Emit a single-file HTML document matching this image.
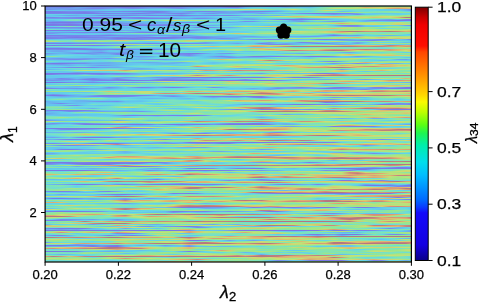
<!DOCTYPE html>
<html><head><meta charset="utf-8">
<style>
html,body{margin:0;padding:0;background:#fff;width:481px;height:303px;overflow:hidden;}
body{position:relative;font-family:"Liberation Sans",sans-serif;color:#000;}
.a{position:absolute;white-space:nowrap;line-height:1;-webkit-text-stroke:0.25px #000;}
.yt{font-size:13px;text-align:right;width:30px;left:6.8px;}
.xt{font-size:13px;text-align:center;width:40px;top:268.4px;}
.ct{font-size:15.3px;left:436.5px;transform-origin:0 0;transform:scaleX(1.14);}
.g{transform-origin:0 0;-webkit-text-stroke:0;}
.rot{transform-origin:0 0;transform:rotate(-90deg);width:0;height:0;}
#hm{position:absolute;left:45px;top:6px;width:366.5px;height:256px;filter:blur(0.45px);}
#hm b{display:block;height:1px;}
svg{position:absolute;left:0;top:0;}
#wrap{position:absolute;left:0;top:0;width:481px;height:303px;filter:blur(0.4px);}
.m{font-style:italic;}
</style></head><body>
<div id="wrap">
<div id="hm">
<b style="background:linear-gradient(90deg,#787be7 0.0%,#7780ea 2.2%,#787ee9 4.4%,#787be7 6.6%,#7978e6 8.7%,#7978e6 10.9%,#7978e6 13.1%,#7978e6 15.3%,#7978e6 17.5%,#7978e6 19.7%,#7978e6 21.9%,#7978e6 24.0%,#7978e6 26.2%,#7978e6 28.4%,#7978e6 30.6%,#7978e6 32.8%,#7978e6 35.0%,#7978e6 37.2%,#7978e6 39.3%,#7978e6 41.5%,#787be7 43.7%,#787ee9 45.9%,#787ae7 48.1%,#7978e6 50.3%,#7978e6 52.5%,#7783ec 54.6%,#7391ee 56.8%,#758bee 59.0%,#7978e6 61.2%,#7979e6 63.4%,#7689ee 65.6%,#67b8ef 67.8%,#63c2ef 69.9%,#63caec 72.1%,#63d2e9 74.3%,#63c7ed 76.5%,#63d0ea 78.7%,#70ddd2 80.9%,#7ce3bc 83.1%,#79e2c2 85.2%,#7ae2c0 87.4%,#7de3bb 89.6%,#8ee59d 91.8%,#84e4ae 94.0%,#82e4b3 96.2%,#8ae5a4 98.4%,#7ee3b9 100.0%)"></b>
<b style="background:linear-gradient(90deg,#7687ed 0.0%,#7490ee 2.2%,#7688ee 4.4%,#7687ee 6.6%,#6ea3ef 8.7%,#6ea0ef 10.9%,#748eee 13.1%,#758aee 15.3%,#758cee 17.5%,#7783ec 19.7%,#787ae7 21.9%,#787ce8 24.0%,#7685ec 26.2%,#7392ef 28.4%,#758aee 30.6%,#777fea 32.8%,#777fe9 35.0%,#7688ee 37.2%,#709bef 39.3%,#7392ef 41.5%,#6ca7ef 43.7%,#6f9eef 45.9%,#7295ef 48.1%,#7782eb 50.3%,#7781eb 52.5%,#67b6ef 54.6%,#63c7ed 56.8%,#63ceeb 59.0%,#63cfea 61.2%,#63ccec 63.4%,#67b6ef 65.6%,#65beef 67.8%,#63c6ee 69.9%,#65bdef 72.1%,#69d9df 74.3%,#86e4ab 76.5%,#93e694 78.7%,#9fe688 80.9%,#9ae68a 83.1%,#bbe27a 85.2%,#deb470 87.4%,#d7c571 89.6%,#d0d472 91.8%,#d2d071 94.0%,#d7c671 96.2%,#d6c871 98.4%,#bfe178 100.0%)"></b>
<b style="background:linear-gradient(90deg,#7392ef 0.0%,#6f9def 2.2%,#7198ef 4.4%,#6fa0ef 6.6%,#6da5ef 8.7%,#7294ef 10.9%,#7687ed 13.1%,#7688ee 15.3%,#7198ef 17.5%,#6baaef 19.7%,#6f9def 21.9%,#7390ee 24.0%,#7199ef 26.2%,#6babef 28.4%,#67b6ef 30.6%,#68b4ef 32.8%,#6ea1ef 35.0%,#7294ef 37.2%,#69afef 39.3%,#65beef 41.5%,#66b9ef 43.7%,#64bfef 45.9%,#63c8ed 48.1%,#63c9ed 50.3%,#63c4ee 52.5%,#63d4e9 54.6%,#73dfcc 56.8%,#71ddd0 59.0%,#68d8e0 61.2%,#72dece 63.4%,#7ee3b9 65.6%,#79e2c2 67.8%,#74dfcb 69.9%,#6edcd5 72.1%,#79e2c1 74.3%,#8ee59e 76.5%,#c4e076 78.7%,#cadf73 80.9%,#c5e075 83.1%,#bfe178 85.2%,#b6e27d 87.4%,#b9e27b 89.6%,#cddc72 91.8%,#dfac70 94.0%,#d89c75 96.2%,#dfac70 98.4%,#d3ce71 100.0%)"></b>
<b style="background:linear-gradient(90deg,#758bee 0.0%,#709aef 2.2%,#6ba9ef 4.4%,#7199ef 6.6%,#709bef 8.7%,#6ca8ef 10.9%,#6babef 13.1%,#68b3ef 15.3%,#64bfef 17.5%,#63c9ed 19.7%,#63caec 21.9%,#63cceb 24.0%,#65d7e6 26.2%,#63d2e9 28.4%,#63d3e9 30.6%,#6adadc 32.8%,#67d8e2 35.0%,#67d8e1 37.2%,#63d1ea 39.3%,#69d9df 41.5%,#77e1c5 43.7%,#84e4af 45.9%,#89e5a5 48.1%,#a2e587 50.3%,#b9e27b 52.5%,#c7e075 54.6%,#d0d572 56.8%,#d2d171 59.0%,#96e68f 61.2%,#79e2c1 63.4%,#98e78c 65.6%,#ccdd72 67.8%,#8de59f 69.9%,#74dfcb 72.1%,#79e2c1 74.3%,#7ee3b8 76.5%,#79e2c2 78.7%,#71ddd0 80.9%,#7ce3bd 83.1%,#7be3be 85.2%,#6adadc 87.4%,#63d5e8 89.6%,#63d1ea 91.8%,#63caec 94.0%,#63c6ee 96.2%,#6ca7ef 98.4%,#787ee9 100.0%)"></b>
<b style="background:linear-gradient(90deg,#66bbef 0.0%,#63c4ef 2.2%,#63c5ee 4.4%,#65beef 6.6%,#64c2ef 8.7%,#63c3ef 10.9%,#63c4ef 13.1%,#63c7ed 15.3%,#63d0ea 17.5%,#63cfea 19.7%,#63c9ed 21.9%,#63c8ed 24.0%,#64bfef 26.2%,#65beef 28.4%,#63c5ee 30.6%,#63ceeb 32.8%,#63ceeb 35.0%,#63d6e8 37.2%,#7ae2c0 39.3%,#74dfca 41.5%,#76e0c8 43.7%,#80e4b5 45.9%,#75e0c9 48.1%,#78e1c3 50.3%,#7ae2c0 52.5%,#6adadc 54.6%,#6adadc 56.8%,#6adadc 59.0%,#63d1ea 61.2%,#63c8ed 63.4%,#66d8e3 65.6%,#7ee3b9 67.8%,#75e0c8 69.9%,#6adadc 72.1%,#8ae5a4 74.3%,#cddc72 76.5%,#c8e074 78.7%,#80e4b5 80.9%,#66d8e3 83.1%,#74dfcb 85.2%,#68d9e0 87.4%,#67d8e1 89.6%,#63d2e9 91.8%,#63d0ea 94.0%,#63d2e9 96.2%,#67b6ef 98.4%,#7391ee 100.0%)"></b>
<b style="background:linear-gradient(90deg,#787ee9 0.0%,#777fea 2.2%,#7685ed 4.4%,#748eee 6.6%,#7688ee 8.7%,#7688ee 10.9%,#7294ef 13.1%,#7392ef 15.3%,#7391ee 17.5%,#748dee 19.7%,#7688ee 21.9%,#7782eb 24.0%,#7780ea 26.2%,#7780ea 28.4%,#787ce8 30.6%,#7688ee 32.8%,#6baaef 35.0%,#6aadef 37.2%,#748fee 39.3%,#7686ed 41.5%,#7685ec 43.7%,#7782eb 45.9%,#7197ef 48.1%,#6babef 50.3%,#709aef 52.5%,#7782eb 54.6%,#7783ec 56.8%,#787ee9 59.0%,#7688ee 61.2%,#709cef 63.4%,#64c1ef 65.6%,#63ceeb 67.8%,#63ceeb 69.9%,#63d1ea 72.1%,#74dfca 74.3%,#84e4ae 76.5%,#6edcd4 78.7%,#66bbef 80.9%,#63c9ed 83.1%,#6ddbd7 85.2%,#70ddd2 87.4%,#79e2c2 89.6%,#85e4ac 91.8%,#8ee59e 94.0%,#85e4ad 96.2%,#68d9e0 98.4%,#65d7e4 100.0%)"></b>
<b style="background:linear-gradient(90deg,#787fe9 0.0%,#787ee9 2.2%,#787ce8 4.4%,#7782eb 6.6%,#7782eb 8.7%,#787ce8 10.9%,#7688ee 13.1%,#6ca6ef 15.3%,#66baef 17.5%,#66bbef 19.7%,#68b5ef 21.9%,#68b2ef 24.0%,#6aaeef 26.2%,#7294ef 28.4%,#7784ec 30.6%,#7295ef 32.8%,#68b4ef 35.0%,#6aadef 37.2%,#6ca6ef 39.3%,#65bcef 41.5%,#66bbef 43.7%,#6aaeef 45.9%,#709aef 48.1%,#6ca6ef 50.3%,#6babef 52.5%,#7295ef 54.6%,#6ea2ef 56.8%,#66b9ef 59.0%,#63c7ed 61.2%,#63d5e8 63.4%,#73decc 65.6%,#76e0c7 67.8%,#6ddbd7 69.9%,#76e0c7 72.1%,#82e4b2 74.3%,#79e2c2 76.5%,#78e1c4 78.7%,#90e69a 80.9%,#a0e688 83.1%,#9be68a 85.2%,#8de5a0 87.4%,#87e4a9 89.6%,#7ee3b8 91.8%,#88e5a8 94.0%,#92e696 96.2%,#8be5a2 98.4%,#91e699 100.0%)"></b>
<b style="background:linear-gradient(90deg,#7685ed 0.0%,#7783ec 2.2%,#7686ed 4.4%,#7686ed 6.6%,#7782eb 8.7%,#787de8 10.9%,#787ee9 13.1%,#7782eb 15.3%,#7685ed 17.5%,#7688ee 19.7%,#748eee 21.9%,#7783eb 24.0%,#787ee9 26.2%,#7687ed 28.4%,#709aef 30.6%,#7295ef 32.8%,#7784ec 35.0%,#7782eb 37.2%,#7393ef 39.3%,#66b9ef 41.5%,#709aef 43.7%,#758dee 45.9%,#6ca8ef 48.1%,#6ca7ef 50.3%,#68b3ef 52.5%,#63c8ed 54.6%,#64bfef 56.8%,#6f9eef 59.0%,#66baef 61.2%,#63c2ef 63.4%,#66b9ef 65.6%,#6bacef 67.8%,#758bee 69.9%,#7780ea 72.1%,#7978e6 74.3%,#7978e6 76.5%,#7978e6 78.7%,#7783eb 80.9%,#7784ec 83.1%,#6ca7ef 85.2%,#63d0ea 87.4%,#63c9ed 89.6%,#63c7ed 91.8%,#63cbec 94.0%,#63cfeb 96.2%,#67d8e2 98.4%,#63d3e9 100.0%)"></b>
<b style="background:linear-gradient(90deg,#69d9df 0.0%,#63d2e9 2.2%,#63d5e8 4.4%,#63cfeb 6.6%,#64c1ef 8.7%,#63c6ee 10.9%,#63caec 13.1%,#65bfef 15.3%,#66baef 17.5%,#65bcef 19.7%,#6aaeef 21.9%,#6babef 24.0%,#67b6ef 26.2%,#68b4ef 28.4%,#64c1ef 30.6%,#63c2ef 32.8%,#66b9ef 35.0%,#6ca6ef 37.2%,#63c9ed 39.3%,#63d2e9 41.5%,#63c7ee 43.7%,#63caec 45.9%,#63d3e9 48.1%,#63d1ea 50.3%,#64d6e8 52.5%,#6bdada 54.6%,#75dfc9 56.8%,#76e0c7 59.0%,#7de3bb 61.2%,#7ce3bc 63.4%,#72dece 65.6%,#6cdad9 67.8%,#6adadc 69.9%,#66d7e3 72.1%,#63cdeb 74.3%,#68b5ef 76.5%,#7099ef 78.7%,#68b3ef 80.9%,#68b3ef 83.1%,#7689ee 85.2%,#63c4ee 87.4%,#63ceeb 89.6%,#6fdcd4 91.8%,#6cdbd9 94.0%,#63d3e9 96.2%,#67d8e2 98.4%,#7be3be 100.0%)"></b>
<b style="background:linear-gradient(90deg,#63c4ef 0.0%,#64c1ef 2.2%,#6aadef 4.4%,#709cef 6.6%,#6da4ef 8.7%,#66b9ef 10.9%,#6ea2ef 13.1%,#7784ec 15.3%,#7686ed 17.5%,#7686ed 19.7%,#7782eb 21.9%,#7785ec 24.0%,#758cee 26.2%,#787ee9 28.4%,#7780ea 30.6%,#787fe9 32.8%,#7978e6 35.0%,#7978e6 37.2%,#7782eb 39.3%,#758cee 41.5%,#758bee 43.7%,#7688ee 45.9%,#7784ec 48.1%,#7780ea 50.3%,#7294ef 52.5%,#69b1ef 54.6%,#6ca6ef 56.8%,#6bacef 59.0%,#66b9ef 61.2%,#69b1ef 63.4%,#63ceeb 65.6%,#7be3be 67.8%,#87e4aa 69.9%,#77e1c5 72.1%,#68d8e1 74.3%,#66d8e3 76.5%,#66d8e3 78.7%,#66d8e3 80.9%,#6ddbd8 83.1%,#7ae2c0 85.2%,#84e4ae 87.4%,#84e4ae 89.6%,#93e695 91.8%,#81e4b4 94.0%,#81e4b5 96.2%,#a8e484 98.4%,#afe380 100.0%)"></b>
<b style="background:linear-gradient(90deg,#63c2ef 0.0%,#63cceb 2.2%,#63d2e9 4.4%,#63cbec 6.6%,#63c6ee 8.7%,#63c8ed 10.9%,#63caec 13.1%,#63c9ed 15.3%,#63c4ee 17.5%,#65beef 19.7%,#63c3ef 21.9%,#63d3e9 24.0%,#63d4e9 26.2%,#63d3e9 28.4%,#63d1ea 30.6%,#63cdeb 32.8%,#63c8ed 35.0%,#67b6ef 37.2%,#65bcef 39.3%,#63c2ef 41.5%,#63c6ee 43.7%,#63ceeb 45.9%,#69d9df 48.1%,#6cdada 50.3%,#6bdada 52.5%,#75e0c9 54.6%,#83e4b0 56.8%,#82e4b2 59.0%,#98e78d 61.2%,#c6e075 63.4%,#cddc72 65.6%,#d9c170 67.8%,#d9c070 69.9%,#ceda72 72.1%,#d1d371 74.3%,#d7c571 76.5%,#dfb470 78.7%,#dcba70 80.9%,#b3e37e 83.1%,#aae482 85.2%,#ade481 87.4%,#ace482 89.6%,#ceda72 91.8%,#c9e073 94.0%,#b3e37e 96.2%,#a8e483 98.4%,#a3e586 100.0%)"></b>
<b style="background:linear-gradient(90deg,#7687ee 0.0%,#7783eb 2.2%,#748fee 4.4%,#748dee 6.6%,#7784ec 8.7%,#787ae7 10.9%,#7978e6 13.1%,#7978e6 15.3%,#7879e6 17.5%,#7686ed 19.7%,#748fee 21.9%,#7687ee 24.0%,#7783eb 26.2%,#709bef 28.4%,#6ca7ef 30.6%,#6aadef 32.8%,#69b1ef 35.0%,#63c2ef 37.2%,#63c7ee 39.3%,#67b8ef 41.5%,#69afef 43.7%,#63c4ef 45.9%,#63d0ea 48.1%,#64c0ef 50.3%,#65bcef 52.5%,#63cceb 54.6%,#63ccec 56.8%,#63d6e8 59.0%,#77e1c5 61.2%,#79e2c2 63.4%,#84e4ae 65.6%,#99e78b 67.8%,#95e692 69.9%,#95e691 72.1%,#bde179 74.3%,#ccde72 76.5%,#b5e37d 78.7%,#bde179 80.9%,#cfd772 83.1%,#d2d071 85.2%,#cfd872 87.4%,#d8c371 89.6%,#d3cf71 91.8%,#bbe27a 94.0%,#deb470 96.2%,#b57782 98.4%,#b47682 100.0%)"></b>
<b style="background:linear-gradient(90deg,#6da3ef 0.0%,#709aef 2.2%,#709bef 4.4%,#748fee 6.6%,#7688ee 8.7%,#7689ee 10.9%,#7782eb 13.1%,#7685ed 15.3%,#7392ef 17.5%,#6f9eef 19.7%,#709cef 21.9%,#7689ee 24.0%,#777fe9 26.2%,#787de8 28.4%,#787ee9 30.6%,#7782eb 32.8%,#7686ed 35.0%,#709cef 37.2%,#6ea1ef 39.3%,#7784ec 41.5%,#758bee 43.7%,#6ba9ef 45.9%,#63c2ef 48.1%,#63ccec 50.3%,#63cceb 52.5%,#6ca8ef 54.6%,#68b5ef 56.8%,#63d1ea 59.0%,#63d1ea 61.2%,#63d5e8 63.4%,#63d6e8 65.6%,#63c9ed 67.8%,#6f9def 69.9%,#63c2ef 72.1%,#63c5ee 74.3%,#63cfea 76.5%,#6adadc 78.7%,#75e0c9 80.9%,#8ee59e 83.1%,#aae482 85.2%,#97e68f 87.4%,#8ee59e 89.6%,#86e4ac 91.8%,#92e696 94.0%,#a8e484 96.2%,#b2e37f 98.4%,#ace482 100.0%)"></b>
<b style="background:linear-gradient(90deg,#63d0ea 0.0%,#63d1ea 2.2%,#63d4e9 4.4%,#6ddbd8 6.6%,#7be3be 8.7%,#63d2e9 10.9%,#63c7ed 13.1%,#6bdadb 15.3%,#7be3be 17.5%,#78e1c4 19.7%,#6bdadb 21.9%,#68d8e0 24.0%,#67d8e1 26.2%,#63d3e9 28.4%,#65d7e5 30.6%,#6ddbd7 32.8%,#6ddbd7 35.0%,#6ddbd7 37.2%,#63d5e8 39.3%,#64d6e7 41.5%,#63d5e8 43.7%,#63d0ea 45.9%,#63c6ee 48.1%,#6ba9ef 50.3%,#66bbef 52.5%,#6aadef 54.6%,#6f9fef 56.8%,#66bbef 59.0%,#6aadef 61.2%,#7687ed 63.4%,#7978e6 65.6%,#7978e6 67.8%,#7978e6 69.9%,#7782eb 72.1%,#748fee 74.3%,#6da5ef 76.5%,#63c5ee 78.7%,#63cbec 80.9%,#63ccec 83.1%,#6fdcd4 85.2%,#69d9de 87.4%,#63c8ed 89.6%,#68b3ef 91.8%,#6ea0ef 94.0%,#64bfef 96.2%,#7686ed 98.4%,#787ae7 100.0%)"></b>
<b style="background:linear-gradient(90deg,#66b9ef 0.0%,#65beef 2.2%,#64d6e7 4.4%,#7ae2c1 6.6%,#7ee3ba 8.7%,#75dfca 10.9%,#6bdadb 13.1%,#79e2c1 15.3%,#81e4b4 17.5%,#7ce3bd 19.7%,#87e4a9 21.9%,#b0e380 24.0%,#c0e178 26.2%,#87e4aa 28.4%,#7be3bd 30.6%,#a0e687 32.8%,#d0d472 35.0%,#c6e075 37.2%,#aee481 39.3%,#aee481 41.5%,#96e691 43.7%,#7ae2c1 45.9%,#7ce3bc 48.1%,#7de3ba 50.3%,#78e1c4 52.5%,#6edcd4 54.6%,#67d8e2 56.8%,#77e1c5 59.0%,#82e4b3 61.2%,#87e4aa 63.4%,#6ad9dd 65.6%,#6f9def 67.8%,#68b2ef 69.9%,#6edcd6 72.1%,#8de59f 74.3%,#89e5a5 76.5%,#68d8e0 78.7%,#63caec 80.9%,#63cfea 83.1%,#63cceb 85.2%,#69b0ef 87.4%,#7688ee 89.6%,#748eee 91.8%,#7687ed 94.0%,#7978e6 96.2%,#7978e6 98.4%,#7978e6 100.0%)"></b>
<b style="background:linear-gradient(90deg,#67b6ef 0.0%,#6f9eef 2.2%,#7197ef 4.4%,#6f9fef 6.6%,#6da3ef 8.7%,#7198ef 10.9%,#7393ef 13.1%,#7688ee 15.3%,#709bef 17.5%,#65bcef 19.7%,#65bcef 21.9%,#64c0ef 24.0%,#63c9ed 26.2%,#63c7ed 28.4%,#63c6ee 30.6%,#63d2ea 32.8%,#65d7e5 35.0%,#68d9df 37.2%,#65d7e4 39.3%,#63cfea 41.5%,#63d2ea 43.7%,#63cdeb 45.9%,#63ceeb 48.1%,#63d3e9 50.3%,#63c4ee 52.5%,#748eee 54.6%,#7392ef 56.8%,#63c3ef 59.0%,#63c5ee 61.2%,#63c3ef 63.4%,#63c7ed 65.6%,#68b4ef 67.8%,#7392ef 69.9%,#66baef 72.1%,#63ccec 74.3%,#6aafef 76.5%,#7392ef 78.7%,#6babef 80.9%,#73decd 83.1%,#63d3e9 85.2%,#67b7ef 87.4%,#63d0ea 89.6%,#63cfeb 91.8%,#63c4ee 94.0%,#63c5ee 96.2%,#66d7e3 98.4%,#6fdcd3 100.0%)"></b>
<b style="background:linear-gradient(90deg,#787ce8 0.0%,#7978e6 2.2%,#7978e6 4.4%,#7978e6 6.6%,#777fea 8.7%,#7781ea 10.9%,#787ce8 13.1%,#7978e6 15.3%,#7783ec 17.5%,#7199ef 19.7%,#69b0ef 21.9%,#6aadef 24.0%,#67b5ef 26.2%,#66baef 28.4%,#6da5ef 30.6%,#69b0ef 32.8%,#6ea1ef 35.0%,#7688ee 37.2%,#7687ed 39.3%,#7196ef 41.5%,#748eee 43.7%,#6da3ef 45.9%,#67b7ef 48.1%,#6bacef 50.3%,#64bfef 52.5%,#63cfea 54.6%,#68d9df 56.8%,#74dfca 59.0%,#86e4ac 61.2%,#72dece 63.4%,#64d6e7 65.6%,#74dfca 67.8%,#7be3be 69.9%,#89e5a7 72.1%,#89e5a6 74.3%,#88e5a7 76.5%,#96e68f 78.7%,#9ee688 80.9%,#a9e483 83.1%,#a4e585 85.2%,#a6e584 87.4%,#aee481 89.6%,#9fe688 91.8%,#aae483 94.0%,#bbe27a 96.2%,#aae482 98.4%,#96e690 100.0%)"></b>
<b style="background:linear-gradient(90deg,#7199ef 0.0%,#7687ee 2.2%,#7490ee 4.4%,#7688ee 6.6%,#7197ef 8.7%,#6ea2ef 10.9%,#7198ef 13.1%,#7390ee 15.3%,#7391ee 17.5%,#6f9eef 19.7%,#7295ef 21.9%,#7391ee 24.0%,#6ea1ef 26.2%,#67b8ef 28.4%,#66bbef 30.6%,#66b9ef 32.8%,#63c4ee 35.0%,#63caec 37.2%,#63cfeb 39.3%,#68d9df 41.5%,#6edcd6 43.7%,#6fdcd4 45.9%,#73dfcc 48.1%,#65d7e5 50.3%,#63cdeb 52.5%,#63ceeb 54.6%,#63d4e9 56.8%,#64d6e7 59.0%,#6ddbd6 61.2%,#6cdbd8 63.4%,#6cdbd8 65.6%,#89e5a6 67.8%,#a7e584 69.9%,#a3e586 72.1%,#aee481 74.3%,#b6e27c 76.5%,#d3cd71 78.7%,#dca572 80.9%,#d4cc71 83.1%,#c5e075 85.2%,#c2e177 87.4%,#c2e177 89.6%,#a4e585 91.8%,#aee380 94.0%,#cfd872 96.2%,#a5e585 98.4%,#7de3bb 100.0%)"></b>
<b style="background:linear-gradient(90deg,#7978e6 0.0%,#7879e6 2.2%,#787ee9 4.4%,#7979e6 6.6%,#7780ea 8.7%,#748fee 10.9%,#7199ef 13.1%,#6f9fef 15.3%,#7392ef 17.5%,#7391ee 19.7%,#6f9def 21.9%,#758bee 24.0%,#7688ee 26.2%,#7199ef 28.4%,#7293ef 30.6%,#758dee 32.8%,#6f9eef 35.0%,#64c0ef 37.2%,#63d5e8 39.3%,#6edcd6 41.5%,#69d9df 43.7%,#63d0ea 45.9%,#63cbec 48.1%,#63c5ee 50.3%,#63c2ef 52.5%,#63ceeb 54.6%,#63cdeb 56.8%,#63d5e8 59.0%,#63d5e8 61.2%,#63caec 63.4%,#63c4ef 65.6%,#6ad9dd 67.8%,#7de3bb 69.9%,#7ce3bd 72.1%,#77e1c6 74.3%,#6fdcd4 76.5%,#74dfcb 78.7%,#9ce68a 80.9%,#9fe688 83.1%,#9ae68a 85.2%,#c2e177 87.4%,#ced972 89.6%,#c5e075 91.8%,#c0e178 94.0%,#d3ce71 96.2%,#cddb72 98.4%,#bde179 100.0%)"></b>
<b style="background:linear-gradient(90deg,#7780ea 0.0%,#787de8 2.2%,#7780ea 4.4%,#787ce8 6.6%,#787ee9 8.7%,#7686ed 10.9%,#7686ed 13.1%,#7781ea 15.3%,#7978e6 17.5%,#7978e6 19.7%,#7978e6 21.9%,#7978e6 24.0%,#7978e6 26.2%,#7978e6 28.4%,#787be7 30.6%,#7781eb 32.8%,#7879e7 35.0%,#787ee9 37.2%,#758aee 39.3%,#7689ee 41.5%,#6ba9ef 43.7%,#6ca8ef 45.9%,#63c3ef 48.1%,#63d2e9 50.3%,#68d9e0 52.5%,#6ddbd7 54.6%,#64d6e7 56.8%,#63cdeb 59.0%,#63c2ef 61.2%,#63d5e8 63.4%,#65d7e6 65.6%,#63cceb 67.8%,#63cfeb 69.9%,#63cbec 72.1%,#63c9ed 74.3%,#6edcd6 76.5%,#65bdef 78.7%,#7783ec 80.9%,#777fea 83.1%,#7687ee 85.2%,#63cdeb 87.4%,#63d2ea 89.6%,#63cdeb 91.8%,#63ceeb 94.0%,#63d2e9 96.2%,#6ea0ef 98.4%,#758bee 100.0%)"></b>
<b style="background:linear-gradient(90deg,#63cbec 0.0%,#63d2e9 2.2%,#70ddd2 4.4%,#81e4b3 6.6%,#6edcd5 8.7%,#63d2ea 10.9%,#68d8e0 13.1%,#72decd 15.3%,#68d8e0 17.5%,#63cdeb 19.7%,#63cdeb 21.9%,#63d2e9 24.0%,#63c9ed 26.2%,#63c4ef 28.4%,#63c8ed 30.6%,#63caec 32.8%,#63c7ee 35.0%,#63ceeb 37.2%,#69d9de 39.3%,#63cdeb 41.5%,#63d0ea 43.7%,#6adadc 45.9%,#6edcd5 48.1%,#70ddd2 50.3%,#95e691 52.5%,#bee179 54.6%,#a0e688 56.8%,#bae27b 59.0%,#d3cf71 61.2%,#dcba70 63.4%,#b0e37f 65.6%,#8be5a2 67.8%,#86e4ac 69.9%,#88e5a7 72.1%,#8de59f 74.3%,#8fe59c 76.5%,#6bdada 78.7%,#68b4ef 80.9%,#7294ef 83.1%,#7392ef 85.2%,#63c7ed 87.4%,#63c3ef 89.6%,#63d4e9 91.8%,#8ee59e 94.0%,#8fe59b 96.2%,#76e0c6 98.4%,#70ddd2 100.0%)"></b>
<b style="background:linear-gradient(90deg,#7782eb 0.0%,#7688ee 2.2%,#7687ed 4.4%,#758cee 6.6%,#748fee 8.7%,#768aee 10.9%,#7295ef 13.1%,#6da4ef 15.3%,#63c3ef 17.5%,#66bbef 19.7%,#6aaeef 21.9%,#66bbef 24.0%,#64c2ef 26.2%,#66bbef 28.4%,#68b4ef 30.6%,#6aadef 32.8%,#6aadef 35.0%,#63c6ee 37.2%,#63c8ed 39.3%,#7688ee 41.5%,#7782eb 43.7%,#748fee 45.9%,#6ba9ef 48.1%,#6da4ef 50.3%,#64c0ef 52.5%,#63d6e8 54.6%,#63d3e9 56.8%,#63caec 59.0%,#63c9ed 61.2%,#6ddbd8 63.4%,#82e4b2 65.6%,#86e4ac 67.8%,#88e5a8 69.9%,#93e696 72.1%,#92e696 74.3%,#8be5a2 76.5%,#8be5a3 78.7%,#9ee688 80.9%,#b2e37f 83.1%,#9be68a 85.2%,#a7e584 87.4%,#9ce68a 89.6%,#95e691 91.8%,#a4e585 94.0%,#9ce689 96.2%,#8de5a0 98.4%,#8ae5a5 100.0%)"></b>
<b style="background:linear-gradient(90deg,#67b5ef 0.0%,#69b1ef 2.2%,#6aafef 4.4%,#6da4ef 6.6%,#6da5ef 8.7%,#7392ef 10.9%,#6da5ef 13.1%,#63c2ef 15.3%,#63d5e8 17.5%,#63d5e8 19.7%,#63c4ef 21.9%,#67b7ef 24.0%,#63caec 26.2%,#63d1ea 28.4%,#63d1ea 30.6%,#63d2ea 32.8%,#63d6e8 35.0%,#67d8e2 37.2%,#6adadc 39.3%,#67d8e1 41.5%,#66d8e3 43.7%,#68d9e0 45.9%,#63d4e9 48.1%,#63cfea 50.3%,#69d9dd 52.5%,#77e1c5 54.6%,#78e1c3 56.8%,#86e4ab 59.0%,#8ee59d 61.2%,#7ee3b9 63.4%,#7de3bb 65.6%,#86e4ac 67.8%,#85e4ad 69.9%,#b8e27b 72.1%,#d5c971 74.3%,#d2d071 76.5%,#dcbb70 78.7%,#d3cf71 80.9%,#ade481 83.1%,#97e68e 85.2%,#a1e587 87.4%,#8ae5a4 89.6%,#69d9de 91.8%,#6edcd5 94.0%,#7de3bb 96.2%,#6fdcd4 98.4%,#76e0c8 100.0%)"></b>
<b style="background:linear-gradient(90deg,#7ce3bc 0.0%,#75dfc9 2.2%,#69d9de 4.4%,#63cceb 6.6%,#63c9ed 8.7%,#63caec 10.9%,#63c6ee 13.1%,#63caec 15.3%,#63c6ee 17.5%,#63c6ee 19.7%,#63c8ed 21.9%,#63caec 24.0%,#63caec 26.2%,#63c8ed 28.4%,#63ccec 30.6%,#63d4e9 32.8%,#66d8e3 35.0%,#63d4e9 37.2%,#63c4ee 39.3%,#69b1ef 41.5%,#64c1ef 43.7%,#63ccec 45.9%,#63d2e9 48.1%,#69d9de 50.3%,#6edcd5 52.5%,#69d9df 54.6%,#6cdbd8 56.8%,#65d7e5 59.0%,#65d7e5 61.2%,#63d0ea 63.4%,#65d7e6 65.6%,#6fdcd3 67.8%,#6edcd4 69.9%,#73decd 72.1%,#81e4b4 74.3%,#75dfc9 76.5%,#75dfca 78.7%,#90e69a 80.9%,#94e693 83.1%,#8fe59c 85.2%,#b6e27d 87.4%,#b8e27c 89.6%,#afe380 91.8%,#ade481 94.0%,#96e68f 96.2%,#a6e584 98.4%,#c3e076 100.0%)"></b>
<b style="background:linear-gradient(90deg,#787ce8 0.0%,#7978e6 2.2%,#7978e6 4.4%,#7978e6 6.6%,#787be7 8.7%,#7685ed 10.9%,#758dee 13.1%,#7197ef 15.3%,#758cee 17.5%,#6fa0ef 19.7%,#6babef 21.9%,#6ca8ef 24.0%,#63c4ef 26.2%,#63c7ed 28.4%,#66b9ef 30.6%,#7197ef 32.8%,#7783eb 35.0%,#787ce8 37.2%,#7783ec 39.3%,#6aadef 41.5%,#63cfeb 43.7%,#63d3e9 45.9%,#63d5e8 48.1%,#65d7e6 50.3%,#72dece 52.5%,#71ddd0 54.6%,#66d8e3 56.8%,#67d8e1 59.0%,#69d9de 61.2%,#73dfcc 63.4%,#82e4b1 65.6%,#81e4b4 67.8%,#7ce3bd 69.9%,#85e4ae 72.1%,#8ee59e 74.3%,#8ae5a5 76.5%,#91e699 78.7%,#98e78c 80.9%,#b0e380 83.1%,#c0e178 85.2%,#ceda72 87.4%,#c8e074 89.6%,#b5e37d 91.8%,#c3e176 94.0%,#bfe178 96.2%,#cddc72 98.4%,#dabe70 100.0%)"></b>
<b style="background:linear-gradient(90deg,#65bcef 0.0%,#63c6ee 2.2%,#63c6ee 4.4%,#63c3ef 6.6%,#63ccec 8.7%,#63cfea 10.9%,#64c0ef 13.1%,#66bbef 15.3%,#68b3ef 17.5%,#63ceeb 19.7%,#6fddd3 21.9%,#63c3ef 24.0%,#6ca8ef 26.2%,#66baef 28.4%,#63caec 30.6%,#63c9ed 32.8%,#63c2ef 35.0%,#64c1ef 37.2%,#63c6ee 39.3%,#68d8e0 41.5%,#63d4e9 43.7%,#63ceeb 45.9%,#63caec 48.1%,#63cdeb 50.3%,#63ceeb 52.5%,#63d5e8 54.6%,#76e0c6 56.8%,#87e4a9 59.0%,#86e4ac 61.2%,#aee481 63.4%,#bbe27a 65.6%,#c5e075 67.8%,#c9e073 69.9%,#afe380 72.1%,#ace482 74.3%,#d2d071 76.5%,#deb670 78.7%,#cc897a 80.9%,#b47682 83.1%,#b47682 85.2%,#cf8b79 87.4%,#d49277 89.6%,#c6847c 91.8%,#b47682 94.0%,#c9867c 96.2%,#dfac70 98.4%,#dba273 100.0%)"></b>
<b style="background:linear-gradient(90deg,#6ea0ef 0.0%,#709bef 2.2%,#7196ef 4.4%,#7393ef 6.6%,#7687ee 8.7%,#7781eb 10.9%,#7784ec 13.1%,#7978e6 15.3%,#7978e6 17.5%,#787ee9 19.7%,#758bee 21.9%,#748fee 24.0%,#787ee9 26.2%,#7978e6 28.4%,#7686ed 30.6%,#709aef 32.8%,#6ea0ef 35.0%,#6da6ef 37.2%,#6ca7ef 39.3%,#63c3ef 41.5%,#63c5ee 43.7%,#63c3ef 45.9%,#68b3ef 48.1%,#63cdeb 50.3%,#68d8e0 52.5%,#63d2e9 54.6%,#6fdcd4 56.8%,#89e5a6 59.0%,#92e696 61.2%,#86e4ab 63.4%,#81e4b4 65.6%,#96e690 67.8%,#b3e37e 69.9%,#ade481 72.1%,#ace482 74.3%,#cddc72 76.5%,#d8c270 78.7%,#deb570 80.9%,#ccde72 83.1%,#95e691 85.2%,#85e4ac 87.4%,#81e4b4 89.6%,#7de3bb 91.8%,#85e4ad 94.0%,#86e4ab 96.2%,#8ce5a1 98.4%,#90e69a 100.0%)"></b>
<b style="background:linear-gradient(90deg,#7199ef 0.0%,#709cef 2.2%,#65beef 4.4%,#63caec 6.6%,#63c3ef 8.7%,#66bbef 10.9%,#63c8ed 13.1%,#63cbec 15.3%,#63c7ed 17.5%,#68d9e0 19.7%,#6adadc 21.9%,#7be3be 24.0%,#7fe3b8 26.2%,#78e1c4 28.4%,#7be3be 30.6%,#89e5a7 32.8%,#94e693 35.0%,#7ee3b9 37.2%,#7fe3b7 39.3%,#83e4b0 41.5%,#90e59b 43.7%,#a2e587 45.9%,#90e69a 48.1%,#a6e585 50.3%,#d6c871 52.5%,#c8e074 54.6%,#94e694 56.8%,#a9e483 59.0%,#b8e27c 61.2%,#d1d271 63.4%,#d5c971 65.6%,#c2e177 67.8%,#ade481 69.9%,#95e691 72.1%,#8fe59c 74.3%,#8fe59c 76.5%,#8be5a3 78.7%,#9ce689 80.9%,#9ee688 83.1%,#87e4aa 85.2%,#8fe59b 87.4%,#8ce5a1 89.6%,#7ce3bc 91.8%,#80e4b6 94.0%,#7be3bf 96.2%,#85e4ad 98.4%,#85e4ad 100.0%)"></b>
<b style="background:linear-gradient(90deg,#65bcef 0.0%,#63c4ef 2.2%,#63c4ee 4.4%,#63c4ef 6.6%,#63c9ed 8.7%,#63cceb 10.9%,#63ccec 13.1%,#64bfef 15.3%,#6aacef 17.5%,#63c5ee 19.7%,#63c5ee 21.9%,#63c6ee 24.0%,#63c9ed 26.2%,#63c5ee 28.4%,#63c9ed 30.6%,#63cceb 32.8%,#65d7e6 35.0%,#6cdad9 37.2%,#68d8e1 39.3%,#70ddd1 41.5%,#7ae2bf 43.7%,#7de3bb 45.9%,#6fddd3 48.1%,#6adadc 50.3%,#78e1c3 52.5%,#84e4af 54.6%,#7be3bf 56.8%,#7de3bb 59.0%,#7ce3bc 61.2%,#84e4af 63.4%,#79e2c1 65.6%,#75dfca 67.8%,#7ae2c1 69.9%,#8ae5a5 72.1%,#82e4b2 74.3%,#63cdeb 76.5%,#6ba9ef 78.7%,#6edcd4 80.9%,#7fe3b8 83.1%,#6ddbd8 85.2%,#6ddbd8 87.4%,#7de3ba 89.6%,#9ae68a 91.8%,#a6e584 94.0%,#8be5a3 96.2%,#65d7e6 98.4%,#64c1ef 100.0%)"></b>
<b style="background:linear-gradient(90deg,#787ce8 0.0%,#787de9 2.2%,#787ee9 4.4%,#7686ed 6.6%,#7686ed 8.7%,#7686ed 10.9%,#7689ee 13.1%,#7782eb 15.3%,#787ee9 17.5%,#7688ee 19.7%,#748eee 21.9%,#748eee 24.0%,#7392ef 26.2%,#758aee 28.4%,#7392ef 30.6%,#709cef 32.8%,#7391ee 35.0%,#7296ef 37.2%,#709cef 39.3%,#63c4ef 41.5%,#6cdbd8 43.7%,#6edcd5 45.9%,#63cdeb 48.1%,#63c2ef 50.3%,#63c5ee 52.5%,#63ceeb 54.6%,#68d8e0 56.8%,#74dfca 59.0%,#70ddd2 61.2%,#6cdbd9 63.4%,#69d9dd 65.6%,#68d9df 67.8%,#63d6e8 69.9%,#6cdad9 72.1%,#63c8ed 74.3%,#6da5ef 76.5%,#787ae7 78.7%,#748eee 80.9%,#6ea1ef 83.1%,#7199ef 85.2%,#64d6e7 87.4%,#63d4e9 89.6%,#64c0ef 91.8%,#68b3ef 94.0%,#63c4ee 96.2%,#63d5e8 98.4%,#69d9de 100.0%)"></b>
<b style="background:linear-gradient(90deg,#758bee 0.0%,#7295ef 2.2%,#7390ee 4.4%,#7685ed 6.6%,#7783eb 8.7%,#768aee 10.9%,#7295ef 13.1%,#7197ef 15.3%,#6aadef 17.5%,#69afef 19.7%,#709bef 21.9%,#7199ef 24.0%,#709aef 26.2%,#6bacef 28.4%,#63c7ed 30.6%,#64c0ef 32.8%,#7198ef 35.0%,#6ea2ef 37.2%,#6ca7ef 39.3%,#7391ee 41.5%,#709cef 43.7%,#6aaeef 45.9%,#6babef 48.1%,#64c1ef 50.3%,#66baef 52.5%,#6f9eef 54.6%,#6ea1ef 56.8%,#65bdef 59.0%,#63c5ee 61.2%,#68b3ef 63.4%,#748dee 65.6%,#69b2ef 67.8%,#6ca7ef 69.9%,#709bef 72.1%,#6f9fef 74.3%,#65bfef 76.5%,#63d0ea 78.7%,#6bdadb 80.9%,#63d5e8 83.1%,#72dece 85.2%,#97e68e 87.4%,#80e3b6 89.6%,#84e4af 91.8%,#a0e687 94.0%,#a3e586 96.2%,#a2e587 98.4%,#b0e380 100.0%)"></b>
<b style="background:linear-gradient(90deg,#7879e7 0.0%,#7783eb 2.2%,#7686ed 4.4%,#787de9 6.6%,#7978e6 8.7%,#787ae7 10.9%,#7781ea 13.1%,#7784ec 15.3%,#7689ee 17.5%,#787ee9 19.7%,#7685ec 21.9%,#748dee 24.0%,#787ee9 26.2%,#7978e6 28.4%,#7979e6 30.6%,#787be7 32.8%,#787be8 35.0%,#7783eb 37.2%,#7782eb 39.3%,#7685ec 41.5%,#7687ed 43.7%,#709aef 45.9%,#6aadef 48.1%,#68b2ef 50.3%,#69afef 52.5%,#64c2ef 54.6%,#65beef 56.8%,#66b9ef 59.0%,#63c7ed 61.2%,#63d6e8 63.4%,#6ddbd6 65.6%,#63d0ea 67.8%,#63cbec 69.9%,#6bdada 72.1%,#79e2c1 74.3%,#80e4b5 76.5%,#a9e483 78.7%,#d5c971 80.9%,#d7c571 83.1%,#e0b270 85.2%,#cadf73 87.4%,#ceda72 89.6%,#ddb870 91.8%,#cae073 94.0%,#c1e177 96.2%,#cddb72 98.4%,#cddc72 100.0%)"></b>
<b style="background:linear-gradient(90deg,#787de9 0.0%,#7782eb 2.2%,#7686ed 4.4%,#7296ef 6.6%,#709cef 8.7%,#7199ef 10.9%,#7296ef 13.1%,#7296ef 15.3%,#7688ee 17.5%,#7978e6 19.7%,#7978e6 21.9%,#7978e6 24.0%,#7784ec 26.2%,#758bee 28.4%,#787fe9 30.6%,#787ae7 32.8%,#7686ed 35.0%,#6f9def 37.2%,#69b2ef 39.3%,#7689ee 41.5%,#758bee 43.7%,#6ea1ef 45.9%,#7687ee 48.1%,#7391ee 50.3%,#69b0ef 52.5%,#6ddbd8 54.6%,#7fe3b7 56.8%,#77e1c5 59.0%,#74dfca 61.2%,#74dfcb 63.4%,#93e695 65.6%,#bde179 67.8%,#a1e587 69.9%,#98e78c 72.1%,#9ee689 74.3%,#96e690 76.5%,#9fe688 78.7%,#9de689 80.9%,#8ce5a1 83.1%,#95e691 85.2%,#a5e585 87.4%,#bde179 89.6%,#b6e27d 91.8%,#b9e27b 94.0%,#dbbb70 96.2%,#cfd872 98.4%,#b2e37f 100.0%)"></b>
<b style="background:linear-gradient(90deg,#64bfef 0.0%,#63c2ef 2.2%,#63c6ee 4.4%,#64c1ef 6.6%,#6aafef 8.7%,#6f9def 10.9%,#758cee 13.1%,#7197ef 15.3%,#6da4ef 17.5%,#748fee 19.7%,#6f9fef 21.9%,#748dee 24.0%,#758bee 26.2%,#6f9fef 28.4%,#66bbef 30.6%,#63c9ed 32.8%,#63c5ee 35.0%,#63c9ed 37.2%,#63d0ea 39.3%,#63caec 41.5%,#63d0ea 43.7%,#63c8ed 45.9%,#65bdef 48.1%,#68b5ef 50.3%,#66bbef 52.5%,#67b7ef 54.6%,#7295ef 56.8%,#7294ef 59.0%,#7783eb 61.2%,#7686ed 63.4%,#66bbef 65.6%,#65bcef 67.8%,#65bdef 69.9%,#64c0ef 72.1%,#7688ee 74.3%,#787ee9 76.5%,#7686ed 78.7%,#7687ee 80.9%,#6da5ef 83.1%,#65bdef 85.2%,#6ca7ef 87.4%,#709cef 89.6%,#7784ec 91.8%,#7198ef 94.0%,#63d4e9 96.2%,#6baaef 98.4%,#787ae7 100.0%)"></b>
<b style="background:linear-gradient(90deg,#a0e688 0.0%,#87e4aa 2.2%,#76e0c7 4.4%,#7ee3b9 6.6%,#9ce689 8.7%,#98e68d 10.9%,#91e698 13.1%,#87e4a9 15.3%,#97e68f 17.5%,#d2d071 19.7%,#d6c871 21.9%,#9fe688 24.0%,#a9e483 26.2%,#c7e074 28.4%,#d2d171 30.6%,#d1d471 32.8%,#99e78b 35.0%,#9fe688 37.2%,#d5c971 39.3%,#c6e075 41.5%,#b8e27c 43.7%,#bfe178 45.9%,#ccde72 48.1%,#bbe27a 50.3%,#99e78b 52.5%,#8fe59c 54.6%,#74dfcb 56.8%,#80e3b6 59.0%,#80e4b6 61.2%,#8be5a2 63.4%,#a7e584 65.6%,#88e5a8 67.8%,#82e4b2 69.9%,#8ae5a5 72.1%,#6fdcd3 74.3%,#63d5e8 76.5%,#63d3e9 78.7%,#68b4ef 80.9%,#6ea2ef 83.1%,#709cef 85.2%,#7392ef 87.4%,#758aee 89.6%,#6ca9ef 91.8%,#63c2ef 94.0%,#63c5ee 96.2%,#63ceeb 98.4%,#66baef 100.0%)"></b>
<b style="background:linear-gradient(90deg,#b3e37e 0.0%,#b8e27c 2.2%,#8fe59b 4.4%,#7ce3bd 6.6%,#94e693 8.7%,#9ee689 10.9%,#97e68f 13.1%,#abe482 15.3%,#95e692 17.5%,#83e4b0 19.7%,#84e4af 21.9%,#7be3be 24.0%,#64d7e6 26.2%,#63d2e9 28.4%,#6cdbd9 30.6%,#78e1c3 32.8%,#85e4ad 35.0%,#9ee688 37.2%,#b2e37f 39.3%,#9de689 41.5%,#8be5a3 43.7%,#7de3ba 45.9%,#77e1c5 48.1%,#6bdada 50.3%,#63d5e8 52.5%,#66d7e3 54.6%,#69d9de 56.8%,#7be3be 59.0%,#8ee59e 61.2%,#91e699 63.4%,#93e695 65.6%,#81e4b4 67.8%,#7be3be 69.9%,#9ee689 72.1%,#a8e484 74.3%,#a2e587 76.5%,#b6e27d 78.7%,#a0e688 80.9%,#7fe3b8 83.1%,#7de3bb 85.2%,#7ae2c0 87.4%,#9de689 89.6%,#ade481 91.8%,#8ee59e 94.0%,#7ce3bc 96.2%,#6edcd5 98.4%,#63d2e9 100.0%)"></b>
<b style="background:linear-gradient(90deg,#68b3ef 0.0%,#69b1ef 2.2%,#67b8ef 4.4%,#6aacef 6.6%,#67b7ef 8.7%,#68b3ef 10.9%,#6da5ef 13.1%,#68b5ef 15.3%,#67b7ef 17.5%,#68b5ef 19.7%,#64bfef 21.9%,#63c4ef 24.0%,#63c3ef 26.2%,#63c2ef 28.4%,#63c6ee 30.6%,#63ceeb 32.8%,#63c7ed 35.0%,#63cdeb 37.2%,#63d3e9 39.3%,#63c4ef 41.5%,#6f9eef 43.7%,#66bbef 45.9%,#63cfeb 48.1%,#63c6ee 50.3%,#63c6ee 52.5%,#63d1ea 54.6%,#63d0ea 56.8%,#63c2ef 59.0%,#6f9def 61.2%,#63c3ef 63.4%,#63cfeb 65.6%,#64c1ef 67.8%,#7783ec 69.9%,#748eee 72.1%,#68b2ef 74.3%,#63caec 76.5%,#68b5ef 78.7%,#67b6ef 80.9%,#63cfea 83.1%,#6da5ef 85.2%,#63c6ee 87.4%,#69d9df 89.6%,#64d6e8 91.8%,#63d5e8 94.0%,#63d4e9 96.2%,#66bbef 98.4%,#63c3ef 100.0%)"></b>
<b style="background:linear-gradient(90deg,#7784ec 0.0%,#7781eb 2.2%,#7781eb 4.4%,#7784ec 6.6%,#7688ee 8.7%,#7688ee 10.9%,#7392ef 13.1%,#7198ef 15.3%,#6ea0ef 17.5%,#6da4ef 19.7%,#6f9fef 21.9%,#7197ef 24.0%,#7199ef 26.2%,#7784ec 28.4%,#7687ed 30.6%,#7686ed 32.8%,#787ce8 35.0%,#7780ea 37.2%,#7689ee 39.3%,#7688ee 41.5%,#7393ef 43.7%,#68b4ef 45.9%,#63c4ef 48.1%,#66baef 50.3%,#6f9eef 52.5%,#63c5ee 54.6%,#63c3ef 56.8%,#787ce8 59.0%,#7199ef 61.2%,#63c3ef 63.4%,#6ea2ef 65.6%,#68b3ef 67.8%,#64c0ef 69.9%,#6aacef 72.1%,#7783ec 74.3%,#748eee 76.5%,#69afef 78.7%,#63c9ed 80.9%,#63c5ee 83.1%,#6f9fef 85.2%,#65d7e6 87.4%,#95e692 89.6%,#a8e484 91.8%,#afe380 94.0%,#97e68d 96.2%,#94e693 98.4%,#98e78d 100.0%)"></b>
<b style="background:linear-gradient(90deg,#63ceeb 0.0%,#67d8e2 2.2%,#63cdeb 4.4%,#63d0ea 6.6%,#75e0c8 8.7%,#83e4b1 10.9%,#87e4aa 13.1%,#7fe3b7 15.3%,#7ae2bf 17.5%,#84e4af 19.7%,#b1e37f 21.9%,#a6e584 24.0%,#a4e585 26.2%,#8ee59d 28.4%,#7ae2c0 30.6%,#8ce5a0 32.8%,#88e5a8 35.0%,#7ee3b9 37.2%,#83e4b1 39.3%,#8ce5a1 41.5%,#7ae2bf 43.7%,#6cdbd8 45.9%,#69d9dd 48.1%,#65d7e5 50.3%,#64d7e6 52.5%,#70ddd2 54.6%,#6ad9dd 56.8%,#63c6ee 59.0%,#758cee 61.2%,#7689ee 63.4%,#748dee 65.6%,#69b0ef 67.8%,#63c7ed 69.9%,#63d5e8 72.1%,#6adadc 74.3%,#63d0ea 76.5%,#67b6ef 78.7%,#6ca8ef 80.9%,#63c4ef 83.1%,#76e0c7 85.2%,#6fdcd3 87.4%,#63d5e8 89.6%,#67d8e1 91.8%,#63d2e9 94.0%,#63d3e9 96.2%,#63cdeb 98.4%,#63c8ed 100.0%)"></b>
<b style="background:linear-gradient(90deg,#7784ec 0.0%,#7978e6 2.2%,#7782eb 4.4%,#7781eb 6.6%,#787be7 8.7%,#787ae7 10.9%,#7978e6 13.1%,#7780ea 15.3%,#7391ee 17.5%,#6f9fef 19.7%,#709bef 21.9%,#69b1ef 24.0%,#63cfeb 26.2%,#63cbec 28.4%,#64c1ef 30.6%,#63c8ed 32.8%,#63cbec 35.0%,#63cdeb 37.2%,#63d6e8 39.3%,#69d9de 41.5%,#63cdeb 43.7%,#63d3e9 45.9%,#6edcd5 48.1%,#79e2c2 50.3%,#75e0c8 52.5%,#87e4aa 54.6%,#d6c771 56.8%,#dabf70 59.0%,#ace481 61.2%,#b7e27c 63.4%,#bbe27a 65.6%,#88e5a8 67.8%,#83e4b1 69.9%,#aae483 72.1%,#a2e586 74.3%,#a8e483 76.5%,#cbdf73 78.7%,#d9c170 80.9%,#dfac70 83.1%,#dfb270 85.2%,#dcb970 87.4%,#d7c471 89.6%,#dda871 91.8%,#c2817e 94.0%,#d49277 96.2%,#dfac70 98.4%,#d99e74 100.0%)"></b>
<b style="background:linear-gradient(90deg,#6ddbd7 0.0%,#77e1c5 2.2%,#77e1c5 4.4%,#75e0c8 6.6%,#77e1c5 8.7%,#6edcd5 10.9%,#63ceeb 13.1%,#63d1ea 15.3%,#6cdbd9 17.5%,#7fe3b8 19.7%,#85e4ad 21.9%,#82e4b2 24.0%,#9ae68a 26.2%,#a5e585 28.4%,#81e4b4 30.6%,#72dece 32.8%,#6edcd5 35.0%,#8ee59e 37.2%,#b6e27d 39.3%,#b6e27c 41.5%,#cae073 43.7%,#d7c471 45.9%,#b8e27c 48.1%,#ade481 50.3%,#d5cb71 52.5%,#cfd672 54.6%,#daa173 56.8%,#dca572 59.0%,#deb670 61.2%,#d99d74 63.4%,#c6847c 65.6%,#b47682 67.8%,#b47682 69.9%,#b47682 72.1%,#b47682 74.3%,#b47682 76.5%,#b47682 78.7%,#b47682 80.9%,#b47682 83.1%,#c07f7e 85.2%,#ce8a7a 87.4%,#c0807e 89.6%,#c2817e 91.8%,#d59577 94.0%,#dfac70 96.2%,#d59577 98.4%,#d69676 100.0%)"></b>
<b style="background:linear-gradient(90deg,#66bbef 0.0%,#67b6ef 2.2%,#67b7ef 4.4%,#63ceeb 6.6%,#63d3e9 8.7%,#63d3e9 10.9%,#6adadc 13.1%,#6edcd5 15.3%,#76e0c8 17.5%,#8fe59c 19.7%,#a7e584 21.9%,#85e4ad 24.0%,#78e1c3 26.2%,#68d8e1 28.4%,#64d7e6 30.6%,#6ddbd7 32.8%,#65d7e5 35.0%,#66d8e3 37.2%,#73dfcc 39.3%,#75e0c8 41.5%,#63d1ea 43.7%,#64d7e6 45.9%,#70ddd1 48.1%,#6ddbd7 50.3%,#70ddd1 52.5%,#63d5e8 54.6%,#63d1ea 56.8%,#63ceeb 59.0%,#63d3e9 61.2%,#66d7e4 63.4%,#75e0c8 65.6%,#6cdbd9 67.8%,#67d8e2 69.9%,#70ddd2 72.1%,#7ae2c0 74.3%,#7de3bb 76.5%,#7ee3b9 78.7%,#7ae2c0 80.9%,#75dfc9 83.1%,#7fe3b7 85.2%,#84e4ae 87.4%,#7fe3b7 89.6%,#6fdcd4 91.8%,#7be3bd 94.0%,#98e78c 96.2%,#b8e27c 98.4%,#9ae68a 100.0%)"></b>
<b style="background:linear-gradient(90deg,#7978e6 0.0%,#7978e6 2.2%,#7978e6 4.4%,#7978e6 6.6%,#787ce8 8.7%,#7685ec 10.9%,#6da5ef 13.1%,#67b6ef 15.3%,#67b6ef 17.5%,#65bdef 19.7%,#68b3ef 21.9%,#64bfef 24.0%,#63c6ee 26.2%,#65bcef 28.4%,#65bdef 30.6%,#66baef 32.8%,#6da4ef 35.0%,#67b6ef 37.2%,#63c6ee 39.3%,#63d0ea 41.5%,#63d0ea 43.7%,#67d8e2 45.9%,#74dfca 48.1%,#78e1c3 50.3%,#7ce3bd 52.5%,#83e4b0 54.6%,#dabe70 56.8%,#dabe70 59.0%,#b9e27b 61.2%,#b3e37e 63.4%,#aee481 65.6%,#92e697 67.8%,#94e694 69.9%,#a8e484 72.1%,#ade481 74.3%,#9be68a 76.5%,#88e5a8 78.7%,#7de3ba 80.9%,#7ee3b9 83.1%,#83e4b1 85.2%,#85e4ae 87.4%,#77e1c5 89.6%,#6ad9dd 91.8%,#71ddd0 94.0%,#88e5a8 96.2%,#8ae5a4 98.4%,#74dfcb 100.0%)"></b>
<b style="background:linear-gradient(90deg,#7686ed 0.0%,#758cee 2.2%,#7784ec 4.4%,#787ee9 6.6%,#787ee9 8.7%,#7978e6 10.9%,#7978e6 13.1%,#777fea 15.3%,#7686ed 17.5%,#7879e7 19.7%,#7879e6 21.9%,#7685ed 24.0%,#748fee 26.2%,#7782eb 28.4%,#7782eb 30.6%,#6da4ef 32.8%,#63c9ed 35.0%,#63ceeb 37.2%,#63c5ee 39.3%,#63d1ea 41.5%,#91e699 43.7%,#b4e37d 45.9%,#9ee688 48.1%,#a6e585 50.3%,#b2e37f 52.5%,#89e5a6 54.6%,#90e69a 56.8%,#d4cc71 59.0%,#deaa71 61.2%,#d9c170 63.4%,#bfe178 65.6%,#ace481 67.8%,#afe380 69.9%,#b5e37d 72.1%,#afe380 74.3%,#dea871 76.5%,#d59577 78.7%,#d79a75 80.9%,#dca472 83.1%,#d28d79 85.2%,#c0807e 87.4%,#cd8a7a 89.6%,#d39078 91.8%,#d99d74 94.0%,#dfb370 96.2%,#d8c371 98.4%,#d4cb71 100.0%)"></b>
<b style="background:linear-gradient(90deg,#65bdef 0.0%,#6aaeef 2.2%,#6baaef 4.4%,#66b8ef 6.6%,#63c2ef 8.7%,#65bcef 10.9%,#6babef 13.1%,#6ca6ef 15.3%,#63c6ee 17.5%,#63c5ee 19.7%,#6aafef 21.9%,#63c5ee 24.0%,#63c3ef 26.2%,#63c7ed 28.4%,#6fdcd3 30.6%,#7be3be 32.8%,#88e5a8 35.0%,#80e4b5 37.2%,#71ddd0 39.3%,#7de3ba 41.5%,#94e694 43.7%,#74dfcb 45.9%,#64d6e7 48.1%,#83e4b0 50.3%,#bfe178 52.5%,#87e4a9 54.6%,#92e697 56.8%,#a6e585 59.0%,#aee480 61.2%,#d6c871 63.4%,#d69676 65.6%,#bd7d7f 67.8%,#d18d79 69.9%,#dba273 72.1%,#dda772 74.3%,#c5847c 76.5%,#b47682 78.7%,#b67881 80.9%,#dda672 83.1%,#cddd72 85.2%,#d7c671 87.4%,#d6c871 89.6%,#d0d672 91.8%,#daa173 94.0%,#dbbd70 96.2%,#ccde72 98.4%,#e0af70 100.0%)"></b>
<b style="background:linear-gradient(90deg,#66baef 0.0%,#6baaef 2.2%,#6ca7ef 4.4%,#65bdef 6.6%,#63cfea 8.7%,#63c9ed 10.9%,#69b1ef 13.1%,#69b0ef 15.3%,#63c9ed 17.5%,#63caec 19.7%,#6bacef 21.9%,#66b8ef 24.0%,#65beef 26.2%,#63ceeb 28.4%,#75e0c8 30.6%,#80e4b5 32.8%,#8fe59b 35.0%,#67d8e1 37.2%,#63cceb 39.3%,#63caec 41.5%,#63c9ed 43.7%,#63cdeb 45.9%,#63c6ee 48.1%,#63cdeb 50.3%,#64d6e8 52.5%,#63c9ec 54.6%,#63c4ee 56.8%,#63cdeb 59.0%,#63d0ea 61.2%,#63d1ea 63.4%,#78e1c3 65.6%,#91e699 67.8%,#7de3bb 69.9%,#71ddd0 72.1%,#72decf 74.3%,#88e5a7 76.5%,#93e695 78.7%,#91e698 80.9%,#95e691 83.1%,#8ce5a1 85.2%,#83e4b1 87.4%,#93e696 89.6%,#9be68a 91.8%,#84e4af 94.0%,#7de3bb 96.2%,#a8e483 98.4%,#d1d371 100.0%)"></b>
<b style="background:linear-gradient(90deg,#63d1ea 0.0%,#63c7ed 2.2%,#65bdef 4.4%,#6baaef 6.6%,#6baaef 8.7%,#69b0ef 10.9%,#6f9def 13.1%,#7689ee 15.3%,#6ca6ef 17.5%,#69afef 19.7%,#7099ef 21.9%,#6babef 24.0%,#63c2ef 26.2%,#64c2ef 28.4%,#63c6ee 30.6%,#63d2e9 32.8%,#66d7e4 35.0%,#63d4e9 37.2%,#64d6e7 39.3%,#6bdada 41.5%,#65d7e4 43.7%,#64d6e8 45.9%,#6cdada 48.1%,#6edcd5 50.3%,#72dece 52.5%,#6ddbd6 54.6%,#6adadc 56.8%,#6bdada 59.0%,#68d9df 61.2%,#6bdadb 63.4%,#6fdcd4 65.6%,#74dfcb 67.8%,#6fdcd3 69.9%,#7be3bd 72.1%,#79e2c2 74.3%,#65d7e5 76.5%,#63d3e9 78.7%,#66bbef 80.9%,#6da4ef 83.1%,#63d1ea 85.2%,#7de3bb 87.4%,#6edcd5 89.6%,#6adadc 91.8%,#7de3ba 94.0%,#6edcd5 96.2%,#63ceeb 98.4%,#63d3e9 100.0%)"></b>
<b style="background:linear-gradient(90deg,#7197ef 0.0%,#6ca7ef 2.2%,#67b8ef 4.4%,#6babef 6.6%,#7688ee 8.7%,#7784ec 10.9%,#709aef 13.1%,#6ca7ef 15.3%,#6ea1ef 17.5%,#7686ed 19.7%,#748dee 21.9%,#6bacef 24.0%,#64c0ef 26.2%,#66baef 28.4%,#7294ef 30.6%,#7780ea 32.8%,#7784ec 35.0%,#7784ec 37.2%,#787be8 39.3%,#7978e6 41.5%,#709aef 43.7%,#63c4ee 45.9%,#6f9def 48.1%,#7294ef 50.3%,#63c5ee 52.5%,#63d6e8 54.6%,#65d7e4 56.8%,#6ad9dd 59.0%,#68d8e0 61.2%,#63ceeb 63.4%,#64bfef 65.6%,#66baef 67.8%,#6baaef 69.9%,#63c8ed 72.1%,#6fddd3 74.3%,#6edcd5 76.5%,#6ddbd7 78.7%,#76e0c8 80.9%,#68d8e0 83.1%,#6cdbd8 85.2%,#94e694 87.4%,#8ee59e 89.6%,#83e4b0 91.8%,#9ae68b 94.0%,#96e68f 96.2%,#91e698 98.4%,#91e699 100.0%)"></b>
<b style="background:linear-gradient(90deg,#6bacef 0.0%,#65beef 2.2%,#63ccec 4.4%,#63cbec 6.6%,#63cdeb 8.7%,#63c7ee 10.9%,#6da6ef 13.1%,#67b7ef 15.3%,#66b9ef 17.5%,#7689ee 19.7%,#6f9def 21.9%,#67b7ef 24.0%,#63c2ef 26.2%,#63cbec 28.4%,#63c7ee 30.6%,#6ba9ef 32.8%,#7295ef 35.0%,#748fee 37.2%,#7688ee 39.3%,#68b3ef 41.5%,#63ceeb 43.7%,#63caec 45.9%,#63c6ee 48.1%,#63d6e8 50.3%,#7be3bf 52.5%,#74dfcb 54.6%,#71decf 56.8%,#7be3be 59.0%,#7ae2c1 61.2%,#7fe3b7 63.4%,#9ae68a 65.6%,#a6e585 67.8%,#8ee59d 69.9%,#93e695 72.1%,#b7e27c 74.3%,#a4e586 76.5%,#91e699 78.7%,#cbdf72 80.9%,#dbbc70 83.1%,#cddc72 85.2%,#cbdf73 87.4%,#c1e177 89.6%,#d1d471 91.8%,#cfd772 94.0%,#8be5a2 96.2%,#82e4b2 98.4%,#8ce5a0 100.0%)"></b>
<b style="background:linear-gradient(90deg,#63ccec 0.0%,#63d3e9 2.2%,#6edcd5 4.4%,#6cdada 6.6%,#63d5e8 8.7%,#64d6e7 10.9%,#63d0ea 13.1%,#63caec 15.3%,#63caec 17.5%,#63caec 19.7%,#63c9ed 21.9%,#63c5ee 24.0%,#63cbec 26.2%,#71ddd0 28.4%,#6adadd 30.6%,#63c4ef 32.8%,#68b5ef 35.0%,#6ea0ef 37.2%,#758bee 39.3%,#68b3ef 41.5%,#63ccec 43.7%,#63c8ed 45.9%,#64bfef 48.1%,#63d4e9 50.3%,#70ddd2 52.5%,#76e0c8 54.6%,#7de3ba 56.8%,#6cdbd8 59.0%,#63cbec 61.2%,#64d7e6 63.4%,#74dfca 65.6%,#7ee3ba 67.8%,#8be5a3 69.9%,#84e4af 72.1%,#82e4b3 74.3%,#87e4a9 76.5%,#98e78c 78.7%,#cbdf72 80.9%,#cddb72 83.1%,#aae483 85.2%,#9fe688 87.4%,#b3e37e 89.6%,#d2d171 91.8%,#d7c471 94.0%,#d3ce71 96.2%,#d1d271 98.4%,#d9c070 100.0%)"></b>
<b style="background:linear-gradient(90deg,#86e4ac 0.0%,#91e698 2.2%,#6fdcd3 4.4%,#63d4e9 6.6%,#63ccec 8.7%,#63c5ee 10.9%,#63c6ee 13.1%,#65bcef 15.3%,#66bbef 17.5%,#63c7ed 19.7%,#63c4ef 21.9%,#6ba9ef 24.0%,#7198ef 26.2%,#709aef 28.4%,#63c4ee 30.6%,#66d8e3 32.8%,#6bdadb 35.0%,#63ceeb 37.2%,#67b6ef 39.3%,#63c9ed 41.5%,#63c6ee 43.7%,#6da5ef 45.9%,#7686ed 48.1%,#7197ef 50.3%,#63c2ef 52.5%,#6ca7ef 54.6%,#787ee9 56.8%,#787ce8 59.0%,#7784ec 61.2%,#7780ea 63.4%,#7688ee 65.6%,#6ca6ef 67.8%,#709aef 69.9%,#787be7 72.1%,#7978e6 74.3%,#787ce8 76.5%,#7296ef 78.7%,#63cdeb 80.9%,#64c0ef 83.1%,#709aef 85.2%,#69b0ef 87.4%,#63cdeb 89.6%,#71decf 91.8%,#77e1c5 94.0%,#6fdcd4 96.2%,#7fe3b8 98.4%,#88e5a8 100.0%)"></b>
<b style="background:linear-gradient(90deg,#63cdeb 0.0%,#63c8ed 2.2%,#63c9ed 4.4%,#63d0ea 6.6%,#63ceeb 8.7%,#63c9ed 10.9%,#63ceeb 13.1%,#63caec 15.3%,#63ccec 17.5%,#86e4ac 19.7%,#75e0c9 21.9%,#63ccec 24.0%,#69b0ef 26.2%,#63c3ef 28.4%,#63d4e9 30.6%,#77e1c5 32.8%,#80e4b6 35.0%,#73decc 37.2%,#76e0c7 39.3%,#67d8e2 41.5%,#63c6ee 43.7%,#66baef 45.9%,#69b1ef 48.1%,#7391ee 50.3%,#6ea1ef 52.5%,#6da6ef 54.6%,#6aaeef 56.8%,#69b1ef 59.0%,#63d0ea 61.2%,#83e4b1 63.4%,#7ae2c0 65.6%,#6ddbd8 67.8%,#63cfea 69.9%,#63c8ed 72.1%,#6bdadb 74.3%,#63d1ea 76.5%,#63ccec 78.7%,#63ceeb 80.9%,#63cfea 83.1%,#63ceeb 85.2%,#6cdada 87.4%,#71ddd0 89.6%,#63d3e9 91.8%,#63d4e9 94.0%,#72dece 96.2%,#63c8ed 98.4%,#63c2ef 100.0%)"></b>
<b style="background:linear-gradient(90deg,#6babef 0.0%,#6f9def 2.2%,#7293ef 4.4%,#6ca6ef 6.6%,#6ca8ef 8.7%,#7198ef 10.9%,#6ea0ef 13.1%,#6ca6ef 15.3%,#7293ef 17.5%,#6aaeef 19.7%,#63c6ee 21.9%,#64bfef 24.0%,#66bbef 26.2%,#63cdeb 28.4%,#6bdadb 30.6%,#71ddd0 32.8%,#6adadc 35.0%,#64d6e8 37.2%,#69d9dd 39.3%,#63d5e8 41.5%,#63d0ea 43.7%,#63cbec 45.9%,#63c6ee 48.1%,#63cbec 50.3%,#64d6e7 52.5%,#6adadc 54.6%,#6ddbd7 56.8%,#63d6e8 59.0%,#63c9ed 61.2%,#63d1ea 63.4%,#71ddd0 65.6%,#69d9dd 67.8%,#66d7e4 69.9%,#63ceeb 72.1%,#8de5a0 74.3%,#b4e37e 76.5%,#b6e27d 78.7%,#bce17a 80.9%,#bbe27a 83.1%,#c9e073 85.2%,#b5e37d 87.4%,#88e5a7 89.6%,#93e696 91.8%,#97e68e 94.0%,#83e4b0 96.2%,#78e1c3 98.4%,#81e4b4 100.0%)"></b>
<b style="background:linear-gradient(90deg,#6baaef 0.0%,#6ba9ef 2.2%,#6ea1ef 4.4%,#7689ee 6.6%,#7785ec 8.7%,#7295ef 10.9%,#68b5ef 13.1%,#63c6ee 15.3%,#63caec 17.5%,#63c6ee 19.7%,#63c2ef 21.9%,#68b4ef 24.0%,#6aaeef 26.2%,#6f9fef 28.4%,#758cee 30.6%,#7294ef 32.8%,#68b4ef 35.0%,#63caec 37.2%,#63d2e9 39.3%,#67d8e1 41.5%,#72dece 43.7%,#afe380 45.9%,#dabe70 48.1%,#ceda72 50.3%,#ace481 52.5%,#8ce5a1 54.6%,#87e4aa 56.8%,#98e78c 59.0%,#94e693 61.2%,#84e4af 63.4%,#7ee3b8 65.6%,#88e5a7 67.8%,#b5e37d 69.9%,#a2e587 72.1%,#8de59f 74.3%,#94e694 76.5%,#9ce68a 78.7%,#ace482 80.9%,#ace482 83.1%,#86e4ab 85.2%,#66d8e3 87.4%,#6ad9dd 89.6%,#77e1c5 91.8%,#6ddbd8 94.0%,#6ca8ef 96.2%,#6f9eef 98.4%,#63c9ed 100.0%)"></b>
<b style="background:linear-gradient(90deg,#63ceeb 0.0%,#63ceeb 2.2%,#63caec 4.4%,#63c4ee 6.6%,#63ccec 8.7%,#76e0c7 10.9%,#6cdbd8 13.1%,#69d9dd 15.3%,#73dfcc 17.5%,#79e2c2 19.7%,#6edcd6 21.9%,#68d9e0 24.0%,#77e1c5 26.2%,#85e4ad 28.4%,#74dfca 30.6%,#63ceeb 32.8%,#63d2e9 35.0%,#69d9df 37.2%,#73decd 39.3%,#74dfca 41.5%,#6cdbd9 43.7%,#77e1c5 45.9%,#80e3b6 48.1%,#96e68f 50.3%,#a0e688 52.5%,#82e4b2 54.6%,#a7e584 56.8%,#deb570 59.0%,#c2817e 61.2%,#d99e74 63.4%,#bde179 65.6%,#aee481 67.8%,#a9e483 69.9%,#a6e585 72.1%,#8be5a3 74.3%,#89e5a6 76.5%,#93e696 78.7%,#92e696 80.9%,#85e4ae 83.1%,#74dfca 85.2%,#72decd 87.4%,#63d2ea 89.6%,#65beef 91.8%,#63d1ea 94.0%,#63d6e8 96.2%,#63cceb 98.4%,#63ceeb 100.0%)"></b>
<b style="background:linear-gradient(90deg,#85e4ad 0.0%,#73dfcc 2.2%,#63d6e8 4.4%,#69d9de 6.6%,#72dece 8.7%,#6ddbd7 10.9%,#67d8e2 13.1%,#65d7e5 15.3%,#6edcd6 17.5%,#8be5a2 19.7%,#8ce5a2 21.9%,#6edcd5 24.0%,#66d7e3 26.2%,#67d8e2 28.4%,#6fdcd3 30.6%,#7ce3bc 32.8%,#78e1c3 35.0%,#8be5a2 37.2%,#ace482 39.3%,#8ee59d 41.5%,#70ddd2 43.7%,#6bdadb 45.9%,#79e2c2 48.1%,#75e0c8 50.3%,#6edcd5 52.5%,#63d6e8 54.6%,#6cdbd8 56.8%,#7ee3b9 59.0%,#8ee59e 61.2%,#6ddbd6 63.4%,#63d5e8 65.6%,#73decd 67.8%,#86e4ab 69.9%,#80e4b5 72.1%,#63c8ed 74.3%,#6f9def 76.5%,#7686ed 78.7%,#66b9ef 80.9%,#78e1c3 83.1%,#7ce3bd 85.2%,#6ddbd8 87.4%,#7ae2c0 89.6%,#8de5a0 91.8%,#9ee689 94.0%,#9fe688 96.2%,#93e695 98.4%,#92e697 100.0%)"></b>
<b style="background:linear-gradient(90deg,#63cdeb 0.0%,#63c4ef 2.2%,#68b4ef 4.4%,#69b2ef 6.6%,#68b3ef 8.7%,#6aaeef 10.9%,#65bdef 13.1%,#69b2ef 15.3%,#6baaef 17.5%,#66bbef 19.7%,#65bdef 21.9%,#68b5ef 24.0%,#6aacef 26.2%,#6ca6ef 28.4%,#6aaeef 30.6%,#63c3ef 32.8%,#68b3ef 35.0%,#6baaef 37.2%,#63c9ed 39.3%,#72dece 41.5%,#63d4e9 43.7%,#63c3ef 45.9%,#63ccec 48.1%,#63cfea 50.3%,#63ceeb 52.5%,#63d3e9 54.6%,#7be3be 56.8%,#a6e584 59.0%,#c3e176 61.2%,#85e4ad 63.4%,#7fe3b7 65.6%,#9ae68a 67.8%,#98e78d 69.9%,#9de689 72.1%,#9ee688 74.3%,#9ee689 76.5%,#96e691 78.7%,#90e59b 80.9%,#a5e585 83.1%,#cfd772 85.2%,#dfac70 87.4%,#d5ca71 89.6%,#b1e37f 91.8%,#a8e483 94.0%,#bae27a 96.2%,#b7e27c 98.4%,#b2e37f 100.0%)"></b>
<b style="background:linear-gradient(90deg,#7689ee 0.0%,#7879e6 2.2%,#7978e6 4.4%,#7780ea 6.6%,#7688ee 8.7%,#748eee 10.9%,#6baaef 13.1%,#6ca7ef 15.3%,#6aadef 17.5%,#66bbef 19.7%,#63c6ee 21.9%,#63c6ee 24.0%,#63c8ed 26.2%,#64c1ef 28.4%,#66baef 30.6%,#69b1ef 32.8%,#69b1ef 35.0%,#63c7ed 37.2%,#63cbec 39.3%,#66d8e3 41.5%,#63ceeb 43.7%,#63c4ee 45.9%,#63d2e9 48.1%,#70ddd2 50.3%,#70ddd1 52.5%,#66d8e3 54.6%,#65d7e5 56.8%,#64d6e7 59.0%,#68d9e0 61.2%,#63cfea 63.4%,#63cdeb 65.6%,#65d7e5 67.8%,#63cfeb 69.9%,#63c5ee 72.1%,#63ccec 74.3%,#64c1ef 76.5%,#7293ef 78.7%,#6aafef 80.9%,#69b2ef 83.1%,#7688ee 85.2%,#6baaef 87.4%,#63d4e9 89.6%,#63d4e9 91.8%,#66b9ef 94.0%,#67b6ef 96.2%,#63d4e9 98.4%,#63cbec 100.0%)"></b>
<b style="background:linear-gradient(90deg,#69b1ef 0.0%,#6ea2ef 2.2%,#6f9def 4.4%,#68b4ef 6.6%,#63c4ef 8.7%,#63c2ef 10.9%,#66bbef 13.1%,#66baef 15.3%,#66b8ef 17.5%,#67b7ef 19.7%,#64bfef 21.9%,#63c8ed 24.0%,#63d0ea 26.2%,#63c8ed 28.4%,#64c0ef 30.6%,#65beef 32.8%,#63c9ec 35.0%,#63d4e9 37.2%,#63d6e8 39.3%,#72dece 41.5%,#6fddd3 43.7%,#6cdbd9 45.9%,#82e4b2 48.1%,#8ce5a1 50.3%,#95e692 52.5%,#a1e587 54.6%,#abe482 56.8%,#ace482 59.0%,#8de59f 61.2%,#7ce3bc 63.4%,#7ae2c1 65.6%,#76e0c6 67.8%,#6edcd5 69.9%,#67d8e1 72.1%,#67d8e1 74.3%,#63d3e9 76.5%,#63d4e9 78.7%,#a1e587 80.9%,#ceda72 83.1%,#aae483 85.2%,#97e68e 87.4%,#c2e177 89.6%,#dca572 91.8%,#ddb770 94.0%,#b3e37e 96.2%,#a7e584 98.4%,#a9e483 100.0%)"></b>
<b style="background:linear-gradient(90deg,#63caec 0.0%,#63c5ee 2.2%,#66baef 4.4%,#6aaeef 6.6%,#63c4ee 8.7%,#65beef 10.9%,#6aacef 13.1%,#7197ef 15.3%,#6da4ef 17.5%,#65bdef 19.7%,#63caec 21.9%,#63d4e9 24.0%,#6ad9dd 26.2%,#63d3e9 28.4%,#64d6e8 30.6%,#6edcd5 32.8%,#63d0ea 35.0%,#63caec 37.2%,#63d3e9 39.3%,#a1e587 41.5%,#c7e075 43.7%,#a8e484 45.9%,#8fe59b 48.1%,#92e697 50.3%,#b0e37f 52.5%,#c8e074 54.6%,#c7e074 56.8%,#d2cf71 59.0%,#c4e076 61.2%,#deb570 63.4%,#daa074 65.6%,#deb570 67.8%,#bfe178 69.9%,#a4e586 72.1%,#90e69a 74.3%,#98e78d 76.5%,#cddc72 78.7%,#dda871 80.9%,#dabf70 83.1%,#bde179 85.2%,#afe380 87.4%,#c1e177 89.6%,#d7c671 91.8%,#d9c070 94.0%,#d6c771 96.2%,#d8c371 98.4%,#cbdf72 100.0%)"></b>
<b style="background:linear-gradient(90deg,#63d1ea 0.0%,#63d3e9 2.2%,#64d7e6 4.4%,#63d1ea 6.6%,#6ddbd7 8.7%,#6adadc 10.9%,#63c6ee 13.1%,#63c5ee 15.3%,#63c2ef 17.5%,#66bbef 19.7%,#66d7e4 21.9%,#71ddd0 24.0%,#74dfca 26.2%,#71ddd0 28.4%,#73decd 30.6%,#89e5a6 32.8%,#92e696 35.0%,#81e4b4 37.2%,#94e693 39.3%,#d49377 41.5%,#dabe70 43.7%,#90e69a 45.9%,#91e698 48.1%,#cddc72 50.3%,#dcba70 52.5%,#8ee59d 54.6%,#78e1c3 56.8%,#84e4af 59.0%,#7ce3bd 61.2%,#9fe688 63.4%,#c7e075 65.6%,#d4cb71 67.8%,#d6c771 69.9%,#a9e483 72.1%,#ceda72 74.3%,#deb670 76.5%,#c4e076 78.7%,#abe482 80.9%,#cfd872 83.1%,#dda772 85.2%,#d49178 87.4%,#cd8a7a 89.6%,#deab71 91.8%,#dfb270 94.0%,#cfd772 96.2%,#b2e37e 98.4%,#b5e37d 100.0%)"></b>
<b style="background:linear-gradient(90deg,#64c0ef 0.0%,#6ca7ef 2.2%,#6f9fef 4.4%,#7689ee 6.6%,#7686ed 8.7%,#7689ee 10.9%,#7685ed 13.1%,#709bef 15.3%,#6ea1ef 17.5%,#6da6ef 19.7%,#67b7ef 21.9%,#63c7ed 24.0%,#63d4e9 26.2%,#6adadb 28.4%,#69d9de 30.6%,#63d4e9 32.8%,#63d2e9 35.0%,#6edcd5 37.2%,#70ddd3 39.3%,#63d6e8 41.5%,#63d2e9 43.7%,#73decd 45.9%,#7be3bf 48.1%,#93e694 50.3%,#bde179 52.5%,#97e68f 54.6%,#97e68e 56.8%,#97e68e 59.0%,#80e4b6 61.2%,#73dfcc 63.4%,#73decd 65.6%,#97e68e 67.8%,#e0b270 69.9%,#d89b75 72.1%,#d69676 74.3%,#d59477 76.5%,#b47682 78.7%,#b47682 80.9%,#cd8a7a 83.1%,#d8c471 85.2%,#afe380 87.4%,#97e68e 89.6%,#8ee59e 91.8%,#80e4b5 94.0%,#77e1c6 96.2%,#80e4b5 98.4%,#90e69a 100.0%)"></b>
<b style="background:linear-gradient(90deg,#63cdeb 0.0%,#63d5e8 2.2%,#69d9de 4.4%,#6fdcd3 6.6%,#71ddd0 8.7%,#74dfca 10.9%,#66d7e4 13.1%,#65d7e5 15.3%,#6ddbd8 17.5%,#6bdada 19.7%,#63cbec 21.9%,#65bcef 24.0%,#6baaef 26.2%,#66bbef 28.4%,#63d4e9 30.6%,#65d7e6 32.8%,#64d6e7 35.0%,#6edcd6 37.2%,#78e1c4 39.3%,#7be3be 41.5%,#76e0c7 43.7%,#75e0c8 45.9%,#7ee3b9 48.1%,#68d8e1 50.3%,#66b9ef 52.5%,#6baaef 54.6%,#63cdeb 56.8%,#77e0c6 59.0%,#82e4b2 61.2%,#6bdadb 63.4%,#6edcd5 65.6%,#82e4b3 67.8%,#a6e585 69.9%,#a9e483 72.1%,#8ae5a5 74.3%,#95e691 76.5%,#b4e37d 78.7%,#8de59f 80.9%,#84e4b0 83.1%,#84e4af 85.2%,#7fe3b7 87.4%,#7de3ba 89.6%,#64d7e7 91.8%,#64d6e7 94.0%,#77e1c5 96.2%,#88e5a8 98.4%,#9ce689 100.0%)"></b>
<b style="background:linear-gradient(90deg,#69afef 0.0%,#65bcef 2.2%,#63c8ed 4.4%,#63d4e9 6.6%,#69d9de 8.7%,#66d7e4 10.9%,#68d9df 13.1%,#6edcd5 15.3%,#7be3be 17.5%,#75dfc9 19.7%,#63c3ef 21.9%,#6aadef 24.0%,#68b5ef 26.2%,#66baef 28.4%,#63c4ee 30.6%,#63c7ed 32.8%,#68b3ef 35.0%,#66baef 37.2%,#63c8ed 39.3%,#68b2ef 41.5%,#66b9ef 43.7%,#63c9ed 45.9%,#63c8ed 48.1%,#63c3ef 50.3%,#63d4e9 52.5%,#64d6e8 54.6%,#63ccec 56.8%,#63d5e8 59.0%,#6cdbd9 61.2%,#77e1c5 63.4%,#83e4b0 65.6%,#91e699 67.8%,#97e68f 69.9%,#7ee3b9 72.1%,#77e1c5 74.3%,#87e4a9 76.5%,#75e0c8 78.7%,#7198ef 80.9%,#63d0ea 83.1%,#79e2c1 85.2%,#88e5a8 87.4%,#98e78d 89.6%,#9be68a 91.8%,#b4e37e 94.0%,#b4e37e 96.2%,#b0e380 98.4%,#b2e37f 100.0%)"></b>
<b style="background:linear-gradient(90deg,#7be3be 0.0%,#70ddd2 2.2%,#73decd 4.4%,#79e2c1 6.6%,#a2e587 8.7%,#cbdf72 10.9%,#c6e075 13.1%,#d7c571 15.3%,#d7c671 17.5%,#d8c371 19.7%,#dba473 21.9%,#cfd772 24.0%,#a9e483 26.2%,#c6e075 28.4%,#c1e177 30.6%,#b3e37e 32.8%,#c0e178 35.0%,#94e693 37.2%,#83e4b1 39.3%,#c3e176 41.5%,#d89c75 43.7%,#dca572 45.9%,#d6c871 48.1%,#dda871 50.3%,#c9877b 52.5%,#d49377 54.6%,#d59477 56.8%,#c8867c 59.0%,#d28f78 61.2%,#d9c070 63.4%,#d8c471 65.6%,#d0d472 67.8%,#aee480 69.9%,#89e5a7 72.1%,#7fe3b7 74.3%,#84e4af 76.5%,#bfe178 78.7%,#d5ca71 80.9%,#c3e076 83.1%,#a8e484 85.2%,#aae483 87.4%,#d2d171 89.6%,#dfb370 91.8%,#c9e073 94.0%,#90e59b 96.2%,#85e4ad 98.4%,#78e1c4 100.0%)"></b>
<b style="background:linear-gradient(90deg,#63c6ee 0.0%,#63c9ed 2.2%,#63c7ed 4.4%,#63d1ea 6.6%,#6bdada 8.7%,#63d6e8 10.9%,#63d2e9 13.1%,#67d8e2 15.3%,#69d9dd 17.5%,#79e2c1 19.7%,#a1e587 21.9%,#aae482 24.0%,#8ae5a4 26.2%,#6ddbd7 28.4%,#6cdbd9 30.6%,#83e4b0 32.8%,#89e5a6 35.0%,#77e1c6 37.2%,#6ddbd6 39.3%,#76e0c8 41.5%,#66d8e3 43.7%,#73decd 45.9%,#80e3b6 48.1%,#64d7e7 50.3%,#6ddbd7 52.5%,#84e4ae 54.6%,#99e78b 56.8%,#88e4a8 59.0%,#7ae2c0 61.2%,#75dfca 63.4%,#6fdcd4 65.6%,#76e0c7 67.8%,#82e4b2 69.9%,#8fe59c 72.1%,#8de59f 74.3%,#9ce689 76.5%,#d0d672 78.7%,#dcba70 80.9%,#8ee59d 83.1%,#6cdbd9 85.2%,#63caec 87.4%,#66d8e3 89.6%,#74dfcb 91.8%,#76e0c8 94.0%,#80e4b5 96.2%,#8ee59e 98.4%,#84e4af 100.0%)"></b>
<b style="background:linear-gradient(90deg,#65bcef 0.0%,#63c7ee 2.2%,#63c7ed 4.4%,#66baef 6.6%,#6ea0ef 8.7%,#67b8ef 10.9%,#63c6ee 13.1%,#63c5ee 15.3%,#63d0ea 17.5%,#66d8e3 19.7%,#6fdcd4 21.9%,#7ae2bf 24.0%,#72dece 26.2%,#69d9de 28.4%,#70ddd1 30.6%,#78e1c4 32.8%,#70ddd2 35.0%,#6ddbd7 37.2%,#80e3b6 39.3%,#b2e37e 41.5%,#87e4aa 43.7%,#78e1c4 45.9%,#94e693 48.1%,#a3e586 50.3%,#94e693 52.5%,#7fe3b7 54.6%,#77e1c5 56.8%,#72decd 59.0%,#92e697 61.2%,#97e68e 63.4%,#92e696 65.6%,#91e698 67.8%,#bae27b 69.9%,#cfd772 72.1%,#99e78b 74.3%,#82e4b2 76.5%,#77e1c5 78.7%,#72decf 80.9%,#7ae2c0 83.1%,#89e5a6 85.2%,#91e698 87.4%,#90e69a 89.6%,#98e78c 91.8%,#96e690 94.0%,#99e78b 96.2%,#afe380 98.4%,#c5e075 100.0%)"></b>
<b style="background:linear-gradient(90deg,#7978e6 0.0%,#7978e6 2.2%,#7978e6 4.4%,#7978e6 6.6%,#7978e6 8.7%,#7978e6 10.9%,#7978e6 13.1%,#7979e6 15.3%,#7781ea 17.5%,#787ee9 19.7%,#7783eb 21.9%,#6f9def 24.0%,#66bbef 26.2%,#66bbef 28.4%,#68b5ef 30.6%,#67b6ef 32.8%,#67b5ef 35.0%,#64c0ef 37.2%,#63c9ed 39.3%,#67b7ef 41.5%,#64c0ef 43.7%,#63cbec 45.9%,#65d7e5 48.1%,#63d2e9 50.3%,#63c9ed 52.5%,#63c3ef 54.6%,#69b0ef 56.8%,#709bef 59.0%,#65d7e5 61.2%,#63d0ea 63.4%,#64c0ef 65.6%,#63c2ef 67.8%,#64c0ef 69.9%,#67b8ef 72.1%,#7782eb 74.3%,#7978e6 76.5%,#7686ed 78.7%,#63c4ef 80.9%,#65d7e5 83.1%,#70ddd1 85.2%,#7be3be 87.4%,#8de59f 89.6%,#91e698 91.8%,#7ee3b8 94.0%,#71decf 96.2%,#74dfcb 98.4%,#7ee3b9 100.0%)"></b>
<b style="background:linear-gradient(90deg,#7978e6 0.0%,#7783ec 2.2%,#6da3ef 4.4%,#6da3ef 6.6%,#6f9def 8.7%,#65bcef 10.9%,#7197ef 13.1%,#7688ee 15.3%,#6ca6ef 17.5%,#7199ef 19.7%,#6ea2ef 21.9%,#69b1ef 24.0%,#63c3ef 26.2%,#63d0ea 28.4%,#63d5e8 30.6%,#63d6e8 32.8%,#63d5e8 35.0%,#76e0c7 37.2%,#a8e483 39.3%,#aae482 41.5%,#99e78b 43.7%,#a0e688 45.9%,#8ce5a2 48.1%,#7de3bb 50.3%,#7ae2c0 52.5%,#78e1c3 54.6%,#7ae2c0 56.8%,#80e4b6 59.0%,#96e690 61.2%,#b5e37d 63.4%,#b7e27c 65.6%,#b0e380 67.8%,#b2e37f 69.9%,#d1d371 72.1%,#dabf70 74.3%,#deb670 76.5%,#d08c79 78.7%,#d89c75 80.9%,#d4cd71 83.1%,#bfe178 85.2%,#cfd772 87.4%,#b4e37d 89.6%,#8fe59b 91.8%,#9de689 94.0%,#a5e585 96.2%,#96e691 98.4%,#9de689 100.0%)"></b>
<b style="background:linear-gradient(90deg,#63cfea 0.0%,#63d0ea 2.2%,#63cbec 4.4%,#63cdeb 6.6%,#68d8e0 8.7%,#7de3bb 10.9%,#72decf 13.1%,#67d8e2 15.3%,#6cdbd8 17.5%,#68d9e0 19.7%,#64d6e8 21.9%,#6bdada 24.0%,#79e2c1 26.2%,#91e698 28.4%,#abe482 30.6%,#ccdd72 32.8%,#d4cb71 35.0%,#cfd672 37.2%,#d9c070 39.3%,#c5837d 41.5%,#e0ad70 43.7%,#bee179 45.9%,#dda772 48.1%,#d28f78 50.3%,#dabe70 52.5%,#bce27a 54.6%,#ace481 56.8%,#ced972 59.0%,#d6c871 61.2%,#d8c371 63.4%,#cddb72 65.6%,#d0d472 67.8%,#d3ce71 69.9%,#c0807e 72.1%,#b47682 74.3%,#b47682 76.5%,#b47682 78.7%,#b47682 80.9%,#d08c79 83.1%,#c4837d 85.2%,#b47682 87.4%,#b47682 89.6%,#b47682 91.8%,#b47682 94.0%,#b47682 96.2%,#b47682 98.4%,#b47682 100.0%)"></b>
<b style="background:linear-gradient(90deg,#63caec 0.0%,#63c6ee 2.2%,#63c9ed 4.4%,#63d2ea 6.6%,#63d4e9 8.7%,#63c9ed 10.9%,#63cbec 13.1%,#63cfea 15.3%,#6ddbd7 17.5%,#87e4aa 19.7%,#71ddd1 21.9%,#80e4b6 24.0%,#b8e27b 26.2%,#89e5a6 28.4%,#6cdbd9 30.6%,#67d8e2 32.8%,#6edcd5 35.0%,#86e4ac 37.2%,#9ae78b 39.3%,#c9e073 41.5%,#bee179 43.7%,#8ee59d 45.9%,#86e4ab 48.1%,#77e1c5 50.3%,#7fe3b8 52.5%,#80e4b5 54.6%,#6edcd5 56.8%,#77e0c6 59.0%,#aae482 61.2%,#ceda72 63.4%,#b2e37f 65.6%,#91e699 67.8%,#89e5a7 69.9%,#87e4a9 72.1%,#90e69a 74.3%,#b7e27c 76.5%,#ace482 78.7%,#84e4af 80.9%,#87e4aa 83.1%,#8fe59c 85.2%,#89e5a5 87.4%,#8de59f 89.6%,#89e5a7 91.8%,#8de59f 94.0%,#81e4b4 96.2%,#7de3ba 98.4%,#8be5a3 100.0%)"></b>
<b style="background:linear-gradient(90deg,#63cbec 0.0%,#63c8ed 2.2%,#63c8ed 4.4%,#63c3ef 6.6%,#63c3ef 8.7%,#63c2ef 10.9%,#63c7ed 13.1%,#63c7ed 15.3%,#63c3ef 17.5%,#6bacef 19.7%,#6f9eef 21.9%,#6ca8ef 24.0%,#63c4ee 26.2%,#69b1ef 28.4%,#7295ef 30.6%,#709bef 32.8%,#7688ee 35.0%,#787ee9 37.2%,#7978e6 39.3%,#7978e6 41.5%,#7978e6 43.7%,#7978e6 45.9%,#7978e6 48.1%,#7978e6 50.3%,#7978e6 52.5%,#7978e6 54.6%,#7978e6 56.8%,#7978e6 59.0%,#7294ef 61.2%,#63d6e8 63.4%,#6aaeef 65.6%,#7978e6 67.8%,#7879e7 69.9%,#787ae7 72.1%,#7294ef 74.3%,#63cfeb 76.5%,#6bdada 78.7%,#6ddbd7 80.9%,#70ddd2 83.1%,#72dece 85.2%,#7fe3b8 87.4%,#80e4b5 89.6%,#78e1c3 91.8%,#7be3be 94.0%,#86e4ac 96.2%,#83e4b0 98.4%,#8ce5a0 100.0%)"></b>
<b style="background:linear-gradient(90deg,#6aafef 0.0%,#6aafef 2.2%,#7686ed 4.4%,#709aef 6.6%,#65beef 8.7%,#6ca7ef 10.9%,#7685ed 13.1%,#6babef 15.3%,#68b4ef 17.5%,#758bee 19.7%,#67b7ef 21.9%,#63c5ee 24.0%,#66bbef 26.2%,#64c0ef 28.4%,#66bbef 30.6%,#709bef 32.8%,#7294ef 35.0%,#6ca6ef 37.2%,#67b8ef 39.3%,#64c0ef 41.5%,#68b2ef 43.7%,#63c6ee 45.9%,#63caec 48.1%,#69d9df 50.3%,#74dfca 52.5%,#85e4ad 54.6%,#95e691 56.8%,#97e68e 59.0%,#c2e177 61.2%,#d4cc71 63.4%,#cfd772 65.6%,#b4e37e 67.8%,#a4e586 69.9%,#84e4ae 72.1%,#7fe3b7 74.3%,#85e4ae 76.5%,#a0e688 78.7%,#9ee689 80.9%,#96e691 83.1%,#a1e587 85.2%,#afe380 87.4%,#ccde72 89.6%,#ccdf72 91.8%,#b2e37f 94.0%,#c5e075 96.2%,#e0af70 98.4%,#d7c671 100.0%)"></b>
<b style="background:linear-gradient(90deg,#709bef 0.0%,#6baaef 2.2%,#7392ef 4.4%,#758aee 6.6%,#6f9fef 8.7%,#7783eb 10.9%,#777fea 13.1%,#758cee 15.3%,#6f9eef 17.5%,#7782eb 19.7%,#748fee 21.9%,#66bbef 24.0%,#63c5ee 26.2%,#64bfef 28.4%,#748dee 30.6%,#7780ea 32.8%,#758bee 35.0%,#7198ef 37.2%,#7294ef 39.3%,#7688ee 41.5%,#6baaef 43.7%,#63c2ef 45.9%,#66bbef 48.1%,#63cceb 50.3%,#65bdef 52.5%,#7490ee 54.6%,#63c7ee 56.8%,#78e1c4 59.0%,#8fe59c 61.2%,#8be5a3 63.4%,#7ae2c0 65.6%,#63c8ed 67.8%,#63c9ed 69.9%,#63c7ee 72.1%,#68b3ef 74.3%,#6aacef 76.5%,#65bdef 78.7%,#71ddd0 80.9%,#63d6e8 83.1%,#65bcef 85.2%,#6ea1ef 87.4%,#64bfef 89.6%,#65d7e4 91.8%,#6cdbd8 94.0%,#63d3e9 96.2%,#87e4a9 98.4%,#97e68d 100.0%)"></b>
<b style="background:linear-gradient(90deg,#7295ef 0.0%,#7392ef 2.2%,#6f9def 4.4%,#67b5ef 6.6%,#63c5ee 8.7%,#67b6ef 10.9%,#7688ee 13.1%,#7783ec 15.3%,#7785ec 17.5%,#7784ec 19.7%,#7978e6 21.9%,#7978e6 24.0%,#787be7 26.2%,#7783eb 28.4%,#787fe9 30.6%,#7978e6 32.8%,#7978e6 35.0%,#7978e6 37.2%,#7978e6 39.3%,#7978e6 41.5%,#7978e6 43.7%,#787de9 45.9%,#7978e6 48.1%,#7978e6 50.3%,#7978e6 52.5%,#787ce8 54.6%,#787be8 56.8%,#7978e6 59.0%,#7978e6 61.2%,#787fe9 63.4%,#6ea0ef 65.6%,#63ccec 67.8%,#72decd 69.9%,#7fe3b7 72.1%,#7ee3b8 74.3%,#96e690 76.5%,#a9e483 78.7%,#c4e076 80.9%,#bbe27a 83.1%,#b9e27b 85.2%,#bfe178 87.4%,#ccde72 89.6%,#d3ce71 91.8%,#d79a75 94.0%,#d59576 96.2%,#da9f74 98.4%,#d79975 100.0%)"></b>
<b style="background:linear-gradient(90deg,#63c8ed 0.0%,#63c4ee 2.2%,#63c4ef 4.4%,#63c5ee 6.6%,#63c7ed 8.7%,#64c0ef 10.9%,#69b0ef 13.1%,#63d2ea 15.3%,#63d5e8 17.5%,#74dfcb 19.7%,#79e2c2 21.9%,#6cdbd8 24.0%,#72dece 26.2%,#79e2c2 28.4%,#9fe688 30.6%,#c8e074 32.8%,#b8e27c 35.0%,#90e699 37.2%,#91e699 39.3%,#8ce5a0 41.5%,#80e3b6 43.7%,#86e4ab 45.9%,#9be68a 48.1%,#d7c671 50.3%,#b8e27c 52.5%,#8de59f 54.6%,#8ce5a2 56.8%,#a1e587 59.0%,#b0e380 61.2%,#8be5a2 63.4%,#7ae2bf 65.6%,#95e691 67.8%,#b4e37e 69.9%,#b4e37d 72.1%,#95e691 74.3%,#96e68f 76.5%,#b3e37e 78.7%,#dfb270 80.9%,#dea971 83.1%,#dabe70 85.2%,#d1d271 87.4%,#c8e074 89.6%,#bfe178 91.8%,#d7c571 94.0%,#d3ce71 96.2%,#bbe27a 98.4%,#b0e380 100.0%)"></b>
<b style="background:linear-gradient(90deg,#7978e6 0.0%,#7978e6 2.2%,#7879e7 4.4%,#748dee 6.6%,#7197ef 8.7%,#7688ee 10.9%,#7686ed 13.1%,#7490ee 15.3%,#7295ef 17.5%,#709cef 19.7%,#7295ef 21.9%,#7295ef 24.0%,#6ea1ef 26.2%,#69afef 28.4%,#66bbef 30.6%,#63c5ee 32.8%,#64d6e7 35.0%,#6ad9dd 37.2%,#6adadc 39.3%,#74dfcb 41.5%,#71ddd0 43.7%,#7be3bf 45.9%,#84e4af 48.1%,#9ce68a 50.3%,#97e68f 52.5%,#79e2c2 54.6%,#69d9de 56.8%,#85e4ad 59.0%,#98e78c 61.2%,#7ee3b9 63.4%,#8fe59c 65.6%,#82e4b3 67.8%,#7be3be 69.9%,#9ee688 72.1%,#a8e483 74.3%,#8fe59c 76.5%,#85e4ae 78.7%,#7fe3b7 80.9%,#77e0c6 83.1%,#75dfc9 85.2%,#75dfc9 87.4%,#66d7e4 89.6%,#63d4e9 91.8%,#63c7ed 94.0%,#63ceeb 96.2%,#67b5ef 98.4%,#69b1ef 100.0%)"></b>
<b style="background:linear-gradient(90deg,#63cceb 0.0%,#63d4e9 2.2%,#72dece 4.4%,#7ee3ba 6.6%,#7be3bf 8.7%,#6adadc 10.9%,#63d0ea 13.1%,#63d2e9 15.3%,#6fddd3 17.5%,#83e4b0 19.7%,#85e4ad 21.9%,#83e4b1 24.0%,#97e68e 26.2%,#8ce5a0 28.4%,#90e69a 30.6%,#a5e585 32.8%,#a5e585 35.0%,#c2e177 37.2%,#b2e37f 39.3%,#a5e585 41.5%,#a0e687 43.7%,#9ce689 45.9%,#a2e586 48.1%,#ceda72 50.3%,#d2d071 52.5%,#b9e27b 54.6%,#b8e27b 56.8%,#ccdf72 59.0%,#d9c070 61.2%,#c1e177 63.4%,#d4cd71 65.6%,#d8c471 67.8%,#d7c671 69.9%,#dbbd70 72.1%,#dfab71 74.3%,#c2817e 76.5%,#b47682 78.7%,#d79975 80.9%,#d8c371 83.1%,#ccdf72 85.2%,#aee480 87.4%,#8ce5a0 89.6%,#8ee59e 91.8%,#99e78b 94.0%,#b1e37f 96.2%,#b2e37f 98.4%,#a1e587 100.0%)"></b>
<b style="background:linear-gradient(90deg,#63c6ee 0.0%,#63c9ed 2.2%,#63d0ea 4.4%,#63cfea 6.6%,#63d1ea 8.7%,#63cdeb 10.9%,#63cfeb 13.1%,#72decf 15.3%,#69d9de 17.5%,#63ceeb 19.7%,#63caec 21.9%,#63d3e9 24.0%,#71ddd0 26.2%,#6ddbd8 28.4%,#76e0c8 30.6%,#8de59f 32.8%,#8be5a3 35.0%,#80e4b6 37.2%,#73decd 39.3%,#75e0c8 41.5%,#6adadc 43.7%,#66d7e4 45.9%,#73decd 48.1%,#8fe59d 50.3%,#8ce5a1 52.5%,#96e690 54.6%,#98e78c 56.8%,#a1e587 59.0%,#cadf73 61.2%,#a8e484 63.4%,#8ae5a4 65.6%,#93e695 67.8%,#94e692 69.9%,#90e69a 72.1%,#76e0c6 74.3%,#65d7e4 76.5%,#78e1c4 78.7%,#77e1c5 80.9%,#78e1c4 83.1%,#72dece 85.2%,#75dfc9 87.4%,#76e0c7 89.6%,#82e4b2 91.8%,#88e5a8 94.0%,#78e1c3 96.2%,#79e2c2 98.4%,#71decf 100.0%)"></b>
<b style="background:linear-gradient(90deg,#85e4ae 0.0%,#84e4ae 2.2%,#89e5a7 4.4%,#8ee59e 6.6%,#a0e688 8.7%,#9fe688 10.9%,#88e5a8 13.1%,#8fe59d 15.3%,#84e4af 17.5%,#8be5a3 19.7%,#a8e484 21.9%,#98e78d 24.0%,#7fe3b7 26.2%,#77e1c5 28.4%,#87e4aa 30.6%,#85e4ad 32.8%,#91e698 35.0%,#9de689 37.2%,#8de5a0 39.3%,#a1e587 41.5%,#a8e484 43.7%,#c2e177 45.9%,#9ae68a 48.1%,#8fe59b 50.3%,#84e4ae 52.5%,#87e4a9 54.6%,#94e693 56.8%,#96e690 59.0%,#aee481 61.2%,#a3e586 63.4%,#97e68e 65.6%,#b4e37e 67.8%,#d5ca71 69.9%,#d4cc71 72.1%,#95e692 74.3%,#63c7ed 76.5%,#66d7e4 78.7%,#70ddd1 80.9%,#73decd 83.1%,#82e4b1 85.2%,#98e78c 87.4%,#bbe27a 89.6%,#ccdd72 91.8%,#d7c671 94.0%,#d9c170 96.2%,#d0d672 98.4%,#bfe178 100.0%)"></b>
<b style="background:linear-gradient(90deg,#67d8e1 0.0%,#63ceeb 2.2%,#63cdeb 4.4%,#63c6ee 6.6%,#67b6ef 8.7%,#65beef 10.9%,#63cceb 13.1%,#63d5e8 15.3%,#63d0ea 17.5%,#63d1ea 19.7%,#71decf 21.9%,#82e4b3 24.0%,#6edcd5 26.2%,#63d5e8 28.4%,#63d6e8 30.6%,#63d0ea 32.8%,#64d6e8 35.0%,#69d9df 37.2%,#6edcd6 39.3%,#72dece 41.5%,#73decd 43.7%,#78e1c3 45.9%,#70ddd2 48.1%,#70ddd2 50.3%,#77e0c6 52.5%,#6edcd5 54.6%,#6edcd6 56.8%,#76e0c8 59.0%,#92e697 61.2%,#92e696 63.4%,#89e5a6 65.6%,#82e4b2 67.8%,#8fe59c 69.9%,#ade481 72.1%,#a6e585 74.3%,#aee481 76.5%,#8de59f 78.7%,#79e2c2 80.9%,#a2e587 83.1%,#bee179 85.2%,#ccdf72 87.4%,#ccdf72 89.6%,#d3cf71 91.8%,#cddc72 94.0%,#a8e484 96.2%,#a4e585 98.4%,#8ce5a1 100.0%)"></b>
<b style="background:linear-gradient(90deg,#6ca7ef 0.0%,#63c3ef 2.2%,#63c8ed 4.4%,#65bcef 6.6%,#63c4ee 8.7%,#63d6e8 10.9%,#66d8e3 13.1%,#63c8ed 15.3%,#748eee 17.5%,#69afef 19.7%,#63ceeb 21.9%,#6f9eef 24.0%,#777fe9 26.2%,#7688ee 28.4%,#6ca8ef 30.6%,#7784ec 32.8%,#7978e6 35.0%,#7686ed 37.2%,#67b8ef 39.3%,#63d6e8 41.5%,#63d0ea 43.7%,#7687ed 45.9%,#6ca7ef 48.1%,#65d7e5 50.3%,#66d7e4 52.5%,#6cdbd9 54.6%,#6ddbd8 56.8%,#63d0ea 59.0%,#63c4ef 61.2%,#6ea0ef 63.4%,#6da4ef 65.6%,#7294ef 67.8%,#7782eb 69.9%,#6f9def 72.1%,#63c7ed 74.3%,#63c2ef 76.5%,#7784ec 78.7%,#7978e6 80.9%,#7686ed 83.1%,#69b1ef 85.2%,#64c1ef 87.4%,#7783ec 89.6%,#7781ea 91.8%,#69b1ef 94.0%,#709bef 96.2%,#7978e6 98.4%,#7978e6 100.0%)"></b>
<b style="background:linear-gradient(90deg,#787fe9 0.0%,#7687ee 2.2%,#7295ef 4.4%,#7199ef 6.6%,#7293ef 8.7%,#709bef 10.9%,#6babef 13.1%,#69b0ef 15.3%,#6ca9ef 17.5%,#66bbef 19.7%,#63caec 21.9%,#63caec 24.0%,#64c1ef 26.2%,#64c0ef 28.4%,#63d1ea 30.6%,#66d8e3 32.8%,#63d5e8 35.0%,#69d9df 37.2%,#77e0c6 39.3%,#7ee3ba 41.5%,#8fe59c 43.7%,#7de3ba 45.9%,#66d7e4 48.1%,#63c8ed 50.3%,#63cdeb 52.5%,#64c0ef 54.6%,#6ca6ef 56.8%,#63c4ef 59.0%,#68b3ef 61.2%,#7686ed 63.4%,#6f9eef 65.6%,#709cef 67.8%,#6ea1ef 69.9%,#6ca8ef 72.1%,#748eee 74.3%,#7978e6 76.5%,#7879e6 78.7%,#7689ee 80.9%,#6f9def 83.1%,#6aadef 85.2%,#6ca9ef 87.4%,#758aee 89.6%,#7687ee 91.8%,#787be8 94.0%,#7978e6 96.2%,#7978e6 98.4%,#787ce8 100.0%)"></b>
<b style="background:linear-gradient(90deg,#99e78b 0.0%,#7ae2bf 2.2%,#63d6e8 4.4%,#63d2e9 6.6%,#63c7ee 8.7%,#63c6ee 10.9%,#63cbec 13.1%,#63ceeb 15.3%,#63caec 17.5%,#63d3e9 19.7%,#67d8e2 21.9%,#63d3e9 24.0%,#63d1ea 26.2%,#65d7e4 28.4%,#71ddd0 30.6%,#68d9e0 32.8%,#74dfca 35.0%,#75dfc9 37.2%,#69d9de 39.3%,#68d8e0 41.5%,#63d6e8 43.7%,#65d7e6 45.9%,#6edcd5 48.1%,#63d5e8 50.3%,#65d7e6 52.5%,#63d2e9 54.6%,#63ccec 56.8%,#63caec 59.0%,#6ca8ef 61.2%,#63d3e9 63.4%,#87e4a9 65.6%,#86e4ab 67.8%,#90e59b 69.9%,#8ee59d 72.1%,#83e4b0 74.3%,#6adadc 76.5%,#63d5e8 78.7%,#63c6ee 80.9%,#69b1ef 83.1%,#709cef 85.2%,#7687ee 87.4%,#63c5ee 89.6%,#72dece 91.8%,#89e5a5 94.0%,#7de3bb 96.2%,#89e5a6 98.4%,#88e5a7 100.0%)"></b>
<b style="background:linear-gradient(90deg,#65d7e5 0.0%,#6fdcd4 2.2%,#71ddd1 4.4%,#6fddd3 6.6%,#68d9e0 8.7%,#6bdadb 10.9%,#71ddd0 13.1%,#6fdcd3 15.3%,#77e1c5 17.5%,#75e0c9 19.7%,#66d8e3 21.9%,#65d7e5 24.0%,#63d3e9 26.2%,#66d7e4 28.4%,#70ddd2 30.6%,#6bdada 32.8%,#6ddbd6 35.0%,#7de3bb 37.2%,#86e4ab 39.3%,#83e4b1 41.5%,#89e5a6 43.7%,#80e3b6 45.9%,#8de5a0 48.1%,#c4e076 50.3%,#d7c671 52.5%,#c7e074 54.6%,#c8e074 56.8%,#c4e076 59.0%,#cddc72 61.2%,#aee481 63.4%,#b8e27c 65.6%,#dbbc70 67.8%,#b7e27c 69.9%,#8de59f 72.1%,#bde179 74.3%,#da9f74 76.5%,#e0b06f 78.7%,#dca572 80.9%,#d4cb71 83.1%,#c8e074 85.2%,#cddb72 87.4%,#deaa71 89.6%,#da9f74 91.8%,#ddb870 94.0%,#d4cc71 96.2%,#dfab71 98.4%,#dfac70 100.0%)"></b>
<b style="background:linear-gradient(90deg,#8de59f 0.0%,#a8e484 2.2%,#98e78c 4.4%,#a7e584 6.6%,#9be68a 8.7%,#ade481 10.9%,#aee481 13.1%,#b0e380 15.3%,#d7c671 17.5%,#bee179 19.7%,#abe482 21.9%,#c9e074 24.0%,#cfd872 26.2%,#ced972 28.4%,#b0e380 30.6%,#98e78d 32.8%,#a7e584 35.0%,#c0e178 37.2%,#dea971 39.3%,#e0ae70 41.5%,#d2d071 43.7%,#dabf70 45.9%,#ceda72 48.1%,#dbbc70 50.3%,#e0ae70 52.5%,#dca572 54.6%,#dda672 56.8%,#d4cd71 59.0%,#cfd872 61.2%,#d1d271 63.4%,#deb670 65.6%,#dda871 67.8%,#cfd872 69.9%,#d3cf71 72.1%,#dea971 74.3%,#e1b06f 76.5%,#e0ae70 78.7%,#dba373 80.9%,#d7c571 83.1%,#cfd772 85.2%,#e0ae70 87.4%,#c3827d 89.6%,#c8867c 91.8%,#d89b75 94.0%,#cc897a 96.2%,#be7e7f 98.4%,#d89b75 100.0%)"></b>
<b style="background:linear-gradient(90deg,#64bfef 0.0%,#63ceeb 2.2%,#63cdeb 4.4%,#63cdeb 6.6%,#63c5ee 8.7%,#63c5ee 10.9%,#63cdeb 13.1%,#7be3be 15.3%,#90e69a 17.5%,#78e1c4 19.7%,#7fe3b8 21.9%,#8ae5a4 24.0%,#bfe178 26.2%,#b8e27c 28.4%,#78e1c3 30.6%,#78e1c3 32.8%,#7ae2bf 35.0%,#71ddd0 37.2%,#95e691 39.3%,#87e4aa 41.5%,#70ddd1 43.7%,#78e1c4 45.9%,#7ae2c0 48.1%,#74dfcb 50.3%,#7ae2c1 52.5%,#8ae5a5 54.6%,#c9e073 56.8%,#d49277 59.0%,#e0b06f 61.2%,#92e696 63.4%,#77e1c6 65.6%,#6fdcd4 67.8%,#79e1c3 69.9%,#6edcd5 72.1%,#63caec 74.3%,#68b3ef 76.5%,#6cdbd9 78.7%,#7ee3b8 80.9%,#78e1c3 83.1%,#88e5a8 85.2%,#91e698 87.4%,#98e78c 89.6%,#afe380 91.8%,#b6e27d 94.0%,#c5e075 96.2%,#c8e074 98.4%,#a4e585 100.0%)"></b>
<b style="background:linear-gradient(90deg,#63c9ed 0.0%,#63ccec 2.2%,#63cbec 4.4%,#64d7e6 6.6%,#78e1c3 8.7%,#6bdadb 10.9%,#6fdcd3 13.1%,#88e5a7 15.3%,#afe380 17.5%,#ced872 19.7%,#b0e380 21.9%,#95e692 24.0%,#b3e37e 26.2%,#ceda72 28.4%,#dba473 30.6%,#ce8a7a 32.8%,#d18d79 35.0%,#e0af70 37.2%,#d39078 39.3%,#b47682 41.5%,#c07f7e 43.7%,#c9867b 45.9%,#d59477 48.1%,#dba473 50.3%,#deb570 52.5%,#d9c070 54.6%,#c4827d 56.8%,#b47682 59.0%,#b47682 61.2%,#d79975 63.4%,#d6c871 65.6%,#d1d471 67.8%,#d9c170 69.9%,#dba273 72.1%,#cbdf73 74.3%,#b3e37e 76.5%,#cadf73 78.7%,#d1d371 80.9%,#c9e073 83.1%,#cadf73 85.2%,#cddb72 87.4%,#d2d071 89.6%,#d5c971 91.8%,#cddb72 94.0%,#ceda72 96.2%,#d5c971 98.4%,#e0b270 100.0%)"></b>
<b style="background:linear-gradient(90deg,#66b9ef 0.0%,#7198ef 2.2%,#6aaeef 4.4%,#63c7ee 6.6%,#63c7ed 8.7%,#63d5e8 10.9%,#78e1c3 13.1%,#7ee3b9 15.3%,#84e4ae 17.5%,#87e4aa 19.7%,#75dfca 21.9%,#77e1c5 24.0%,#75e0c8 26.2%,#68d8e0 28.4%,#6adadc 30.6%,#70ddd2 32.8%,#6edcd5 35.0%,#68d9e0 37.2%,#77e1c4 39.3%,#89e5a6 41.5%,#a0e688 43.7%,#aae482 45.9%,#d9c170 48.1%,#c1807e 50.3%,#dda772 52.5%,#8ee59d 54.6%,#9be68a 56.8%,#e0b270 59.0%,#d99e74 61.2%,#d49377 63.4%,#d1d371 65.6%,#b1e37f 67.8%,#b1e37f 69.9%,#c9e073 72.1%,#d8c270 74.3%,#dea871 76.5%,#d6c671 78.7%,#d3cd71 80.9%,#d7c671 83.1%,#d4cc71 85.2%,#d8c371 87.4%,#d9c070 89.6%,#d3cf71 91.8%,#a1e587 94.0%,#8fe59c 96.2%,#91e698 98.4%,#91e699 100.0%)"></b>
<b style="background:linear-gradient(90deg,#7782eb 0.0%,#7978e6 2.2%,#787ee9 4.4%,#7198ef 6.6%,#68b4ef 8.7%,#66baef 10.9%,#6ea1ef 13.1%,#7780ea 15.3%,#7979e6 17.5%,#787ee9 19.7%,#787ee9 21.9%,#777fe9 24.0%,#7781ea 26.2%,#758bee 28.4%,#6aaeef 30.6%,#6f9fef 32.8%,#6f9fef 35.0%,#63c3ef 37.2%,#63d1ea 39.3%,#69d9de 41.5%,#75e0c8 43.7%,#83e4b0 45.9%,#88e5a8 48.1%,#7ee3ba 50.3%,#8de59f 52.5%,#9be68a 54.6%,#b2e37e 56.8%,#a5e585 59.0%,#92e697 61.2%,#a9e483 63.4%,#d0d572 65.6%,#dbbd70 67.8%,#d7c571 69.9%,#dabf70 72.1%,#dea971 74.3%,#c9867b 76.5%,#be7e7f 78.7%,#c1807e 80.9%,#b47682 83.1%,#ba7b80 85.2%,#c1807e 87.4%,#b97a80 89.6%,#b47682 91.8%,#bd7d7f 94.0%,#d79a75 96.2%,#d89c75 98.4%,#d59477 100.0%)"></b>
<b style="background:linear-gradient(90deg,#63caec 0.0%,#66baef 2.2%,#6ca6ef 4.4%,#69afef 6.6%,#69b0ef 8.7%,#6da6ef 10.9%,#758cee 13.1%,#7783eb 15.3%,#7685ec 17.5%,#7784ec 19.7%,#7780ea 21.9%,#7391ee 24.0%,#64c0ef 26.2%,#63cbec 28.4%,#63d0ea 30.6%,#6ca8ef 32.8%,#768aee 35.0%,#6aadef 37.2%,#63ccec 39.3%,#63c9ed 41.5%,#758aee 43.7%,#787de8 45.9%,#7780ea 48.1%,#787de8 50.3%,#787ee9 52.5%,#7781eb 54.6%,#7978e6 56.8%,#7978e6 59.0%,#63d0ea 61.2%,#6edcd5 63.4%,#73decd 65.6%,#66d8e3 67.8%,#64d6e7 69.9%,#7fe3b7 72.1%,#94e692 74.3%,#a2e587 76.5%,#9fe688 78.7%,#b7e27c 80.9%,#d6c871 83.1%,#d5ca71 85.2%,#c1e177 87.4%,#a7e584 89.6%,#93e695 91.8%,#a7e584 94.0%,#ade481 96.2%,#c7e074 98.4%,#d1d271 100.0%)"></b>
<b style="background:linear-gradient(90deg,#63d0ea 0.0%,#63cceb 2.2%,#63c5ee 4.4%,#63c9ed 6.6%,#63d2e9 8.7%,#63c8ed 10.9%,#63d3e9 13.1%,#65d7e5 15.3%,#68b4ef 17.5%,#68b5ef 19.7%,#63d1ea 21.9%,#63d4e9 24.0%,#63cbec 26.2%,#63ceeb 28.4%,#63d4e9 30.6%,#63d4e9 32.8%,#63cfeb 35.0%,#63c9ed 37.2%,#6cdbd9 39.3%,#68d9df 41.5%,#63c3ef 43.7%,#6da5ef 45.9%,#63c5ee 48.1%,#69b1ef 50.3%,#6aadef 52.5%,#63d4e9 54.6%,#7688ee 56.8%,#7978e6 59.0%,#709aef 61.2%,#65beef 63.4%,#6aafef 65.6%,#63c5ee 67.8%,#63c8ed 69.9%,#66d7e4 72.1%,#68d9df 74.3%,#63caec 76.5%,#709bef 78.7%,#6bacef 80.9%,#63d2e9 83.1%,#65bdef 85.2%,#63c3ef 87.4%,#80e4b5 89.6%,#95e692 91.8%,#a7e584 94.0%,#91e699 96.2%,#8be5a2 98.4%,#9ce68a 100.0%)"></b>
<b style="background:linear-gradient(90deg,#63d2e9 0.0%,#6adadc 2.2%,#73decd 4.4%,#74dfcb 6.6%,#84e4ae 8.7%,#99e78c 10.9%,#a6e585 13.1%,#8de59f 15.3%,#72decd 17.5%,#68d8e1 19.7%,#64d6e7 21.9%,#63cbec 24.0%,#63c3ef 26.2%,#68b4ef 28.4%,#67b7ef 30.6%,#63c3ef 32.8%,#63cfeb 35.0%,#64c1ef 37.2%,#67b7ef 39.3%,#65d7e5 41.5%,#63d6e8 43.7%,#63cdeb 45.9%,#6edcd5 48.1%,#76e0c7 50.3%,#6fdcd3 52.5%,#79e2c1 54.6%,#73dfcc 56.8%,#63cbec 59.0%,#64d6e8 61.2%,#6ddbd7 63.4%,#7de3bb 65.6%,#91e699 67.8%,#97e68e 69.9%,#94e693 72.1%,#8ce5a1 74.3%,#7be3bf 76.5%,#9de689 78.7%,#9ee688 80.9%,#93e694 83.1%,#82e4b3 85.2%,#69d9df 87.4%,#6fdcd4 89.6%,#77e1c5 91.8%,#78e1c4 94.0%,#65d7e5 96.2%,#89e5a6 98.4%,#ace482 100.0%)"></b>
<b style="background:linear-gradient(90deg,#68d8e0 0.0%,#82e4b2 2.2%,#8fe59c 4.4%,#6ddbd8 6.6%,#68d9e0 8.7%,#6edcd5 10.9%,#75e0c8 13.1%,#74dfca 15.3%,#64d6e7 17.5%,#6adadd 19.7%,#75dfc9 21.9%,#69d9de 24.0%,#63d1ea 26.2%,#63d4e9 28.4%,#6cdbd9 30.6%,#70ddd2 32.8%,#71ddd0 35.0%,#63d0ea 37.2%,#63d0ea 39.3%,#6fdcd3 41.5%,#72dece 43.7%,#6bdadb 45.9%,#6cdada 48.1%,#6bdadb 50.3%,#73decd 52.5%,#73decd 54.6%,#83e4b0 56.8%,#93e695 59.0%,#97e68f 61.2%,#82e4b3 63.4%,#71ddd1 65.6%,#90e69a 67.8%,#95e691 69.9%,#7de3bb 72.1%,#63d2e9 74.3%,#6ca6ef 76.5%,#6f9def 78.7%,#63d3e9 80.9%,#64d6e7 83.1%,#63caec 85.2%,#63c7ee 87.4%,#69d9dd 89.6%,#71ddd0 91.8%,#69d9de 94.0%,#63ceeb 96.2%,#64d6e7 98.4%,#64d7e6 100.0%)"></b>
<b style="background:linear-gradient(90deg,#63caec 0.0%,#63d4e9 2.2%,#63d2ea 4.4%,#63c2ef 6.6%,#68b5ef 8.7%,#68b3ef 10.9%,#63c7ed 13.1%,#63cbec 15.3%,#63c5ee 17.5%,#63c5ee 19.7%,#63d2e9 21.9%,#63ccec 24.0%,#63c9ed 26.2%,#65d7e5 28.4%,#76e0c8 30.6%,#82e4b1 32.8%,#7be3bf 35.0%,#7be3bf 37.2%,#83e4b0 39.3%,#91e698 41.5%,#99e78b 43.7%,#86e4ab 45.9%,#8fe59d 48.1%,#c9e073 50.3%,#dca672 52.5%,#d8c270 54.6%,#deb670 56.8%,#d89b75 59.0%,#dca472 61.2%,#c6e075 63.4%,#a1e587 65.6%,#d8c371 67.8%,#cc897a 69.9%,#d79a75 72.1%,#dfab71 74.3%,#dfab71 76.5%,#deaa71 78.7%,#d2cf71 80.9%,#bae27b 83.1%,#9ee688 85.2%,#89e5a6 87.4%,#8ee59d 89.6%,#8be5a2 91.8%,#7fe3b7 94.0%,#6cdbd8 96.2%,#73dfcc 98.4%,#6edcd6 100.0%)"></b>
<b style="background:linear-gradient(90deg,#6ca7ef 0.0%,#66bbef 2.2%,#63c5ee 4.4%,#63c4ef 6.6%,#68b4ef 8.7%,#69b0ef 10.9%,#6f9eef 13.1%,#7391ee 15.3%,#7197ef 17.5%,#758bee 19.7%,#64bfef 21.9%,#63c5ee 24.0%,#63c2ef 26.2%,#63d1ea 28.4%,#63d4e9 30.6%,#6ddbd6 32.8%,#79e1c3 35.0%,#77e1c6 37.2%,#67d8e1 39.3%,#63d4e9 41.5%,#7ce3bd 43.7%,#8ae5a4 45.9%,#85e4ad 48.1%,#97e68e 50.3%,#c1e177 52.5%,#d0d472 54.6%,#ced972 56.8%,#c4e076 59.0%,#b2e37f 61.2%,#b5e37d 63.4%,#d0d672 65.6%,#d5ca71 67.8%,#dca472 69.9%,#c7857c 72.1%,#b47682 74.3%,#b47682 76.5%,#b47682 78.7%,#b47682 80.9%,#b47682 83.1%,#b47682 85.2%,#d49277 87.4%,#d99e74 89.6%,#c7857c 91.8%,#ce8a7a 94.0%,#ddb770 96.2%,#daa074 98.4%,#daa074 100.0%)"></b>
<b style="background:linear-gradient(90deg,#64bfef 0.0%,#69b0ef 2.2%,#63c4ee 4.4%,#63c6ee 6.6%,#64bfef 8.7%,#64c1ef 10.9%,#63cdeb 13.1%,#63c8ed 15.3%,#63c9ed 17.5%,#63c7ed 19.7%,#63ceeb 21.9%,#63d1ea 24.0%,#66d7e4 26.2%,#7de3bb 28.4%,#91e698 30.6%,#9be68a 32.8%,#78e1c3 35.0%,#71ddd1 37.2%,#6fdcd3 39.3%,#6cdbd9 41.5%,#73dfcc 43.7%,#8de59f 45.9%,#94e694 48.1%,#7fe3b7 50.3%,#73decd 52.5%,#6edcd5 54.6%,#78e1c3 56.8%,#82e4b3 59.0%,#95e691 61.2%,#81e4b4 63.4%,#71decf 65.6%,#7ce3bc 67.8%,#8ae5a5 69.9%,#92e697 72.1%,#74dfca 74.3%,#7978e6 76.5%,#7689ee 78.7%,#63cbec 80.9%,#63d4e9 83.1%,#75dfc9 85.2%,#71decf 87.4%,#66d7e4 89.6%,#7be3be 91.8%,#84e4af 94.0%,#6edcd6 96.2%,#90e69b 98.4%,#99e78b 100.0%)"></b>
<b style="background:linear-gradient(90deg,#63cbec 0.0%,#6ca6ef 2.2%,#7685ed 4.4%,#6baaef 6.6%,#66bbef 8.7%,#63c5ee 10.9%,#67d8e2 13.1%,#68d9df 15.3%,#6adadc 17.5%,#68d8e0 19.7%,#69d9de 21.9%,#67d8e1 24.0%,#63d5e8 26.2%,#63d0ea 28.4%,#63d0ea 30.6%,#68d9e0 32.8%,#78e1c4 35.0%,#78e1c4 37.2%,#70ddd2 39.3%,#6cdbd8 41.5%,#6cdada 43.7%,#78e1c4 45.9%,#87e4a9 48.1%,#85e4ad 50.3%,#71ddd0 52.5%,#68d8e1 54.6%,#63d5e8 56.8%,#63c7ee 59.0%,#63cbec 61.2%,#63d5e8 63.4%,#6bdadb 65.6%,#6bdada 67.8%,#77e1c5 69.9%,#8ae5a4 72.1%,#7ae2bf 74.3%,#6ddbd7 76.5%,#63d3e9 78.7%,#66d7e4 80.9%,#81e4b4 83.1%,#a6e585 85.2%,#94e694 87.4%,#6cdbd9 89.6%,#63caec 91.8%,#7199ef 94.0%,#7688ee 96.2%,#7197ef 98.4%,#7784ec 100.0%)"></b>
<b style="background:linear-gradient(90deg,#63c3ef 0.0%,#63c6ee 2.2%,#63c7ed 4.4%,#66d7e4 6.6%,#63cceb 8.7%,#63d0ea 10.9%,#77e1c5 13.1%,#6ddbd8 15.3%,#65d7e6 17.5%,#6ddbd7 19.7%,#81e4b4 21.9%,#7ae2c0 24.0%,#7fe3b8 26.2%,#66d7e4 28.4%,#63caec 30.6%,#63d0ea 32.8%,#6fdcd3 35.0%,#98e78c 37.2%,#a0e688 39.3%,#85e4ae 41.5%,#74dfca 43.7%,#6ddbd8 45.9%,#6ddbd8 48.1%,#66d8e3 50.3%,#63c5ee 52.5%,#6ea2ef 54.6%,#68b4ef 56.8%,#709cef 59.0%,#758bee 61.2%,#6da5ef 63.4%,#709aef 65.6%,#787ee9 67.8%,#7978e6 69.9%,#7978e6 72.1%,#7687ee 74.3%,#7783eb 76.5%,#7198ef 78.7%,#7198ef 80.9%,#68b4ef 83.1%,#63c9ed 85.2%,#63caec 87.4%,#68b2ef 89.6%,#787ce8 91.8%,#787ae7 94.0%,#6f9def 96.2%,#7392ef 98.4%,#7780ea 100.0%)"></b>
<b style="background:linear-gradient(90deg,#63c7ed 0.0%,#63c4ef 2.2%,#66baef 4.4%,#7196ef 6.6%,#7390ee 8.7%,#63c9ed 10.9%,#63caec 13.1%,#64c0ef 15.3%,#63c8ed 17.5%,#67d8e2 19.7%,#68d9df 21.9%,#6ddbd7 24.0%,#95e691 26.2%,#8ee59d 28.4%,#7ce3bc 30.6%,#8ae5a4 32.8%,#99e78b 35.0%,#8ae5a5 37.2%,#a3e586 39.3%,#9ee688 41.5%,#94e693 43.7%,#8ce5a2 45.9%,#73dfcc 48.1%,#63c7ee 50.3%,#63d5e8 52.5%,#7ee3b9 54.6%,#81e4b4 56.8%,#85e4ac 59.0%,#80e4b6 61.2%,#65d7e5 63.4%,#70ddd2 65.6%,#93e694 67.8%,#93e695 69.9%,#9fe688 72.1%,#bfe178 74.3%,#ade481 76.5%,#98e78d 78.7%,#bce27a 80.9%,#bfe178 83.1%,#9ae68a 85.2%,#a3e586 87.4%,#abe482 89.6%,#cae073 91.8%,#bce17a 94.0%,#b9e27b 96.2%,#bfe178 98.4%,#aee481 100.0%)"></b>
<b style="background:linear-gradient(90deg,#74dfcb 0.0%,#7ae2c0 2.2%,#77e1c5 4.4%,#72dece 6.6%,#6fdcd4 8.7%,#6cdbd8 10.9%,#69d9de 13.1%,#66d7e3 15.3%,#72decd 17.5%,#86e4ac 19.7%,#86e4ac 21.9%,#8ae5a4 24.0%,#84e4ae 26.2%,#6fdcd4 28.4%,#63d6e8 30.6%,#63d4e9 32.8%,#6bdada 35.0%,#6fdcd4 37.2%,#7be3be 39.3%,#70ddd1 41.5%,#63d6e8 43.7%,#69d9de 45.9%,#63d2e9 48.1%,#6edcd5 50.3%,#75e0c9 52.5%,#8de59e 54.6%,#86e4ac 56.8%,#79e2c2 59.0%,#6cdbd8 61.2%,#63c7ed 63.4%,#64d6e7 65.6%,#75e0c8 67.8%,#63d2ea 69.9%,#72dece 72.1%,#86e4ab 74.3%,#79e2c2 76.5%,#65bfef 78.7%,#63d3e9 80.9%,#72dece 83.1%,#69d9de 85.2%,#74dfca 87.4%,#7ae2c0 89.6%,#9be68a 91.8%,#b1e37f 94.0%,#95e692 96.2%,#9fe688 98.4%,#b1e37f 100.0%)"></b>
<b style="background:linear-gradient(90deg,#8ee59e 0.0%,#89e5a7 2.2%,#89e5a6 4.4%,#74dfcb 6.6%,#63d3e9 8.7%,#63d2ea 10.9%,#68d8e1 13.1%,#6fdcd4 15.3%,#6fddd3 17.5%,#8fe59b 19.7%,#c8e074 21.9%,#b7e27c 24.0%,#89e5a6 26.2%,#8ce5a1 28.4%,#9ae78b 30.6%,#8fe59c 32.8%,#81e4b5 35.0%,#74dfcb 37.2%,#84e4b0 39.3%,#c8e074 41.5%,#b2e37f 43.7%,#8de59f 45.9%,#88e4a9 48.1%,#bce27a 50.3%,#d8c471 52.5%,#d69676 54.6%,#d59477 56.8%,#bc7d7f 59.0%,#c0807e 61.2%,#dcba70 63.4%,#d3ce71 65.6%,#deb670 67.8%,#d0d472 69.9%,#bce17a 72.1%,#91e699 74.3%,#8de59f 76.5%,#95e692 78.7%,#8ae5a5 80.9%,#99e78b 83.1%,#abe482 85.2%,#e0b06f 87.4%,#dca672 89.6%,#deb470 91.8%,#ddb870 94.0%,#dabe70 96.2%,#d4cc71 98.4%,#cfd872 100.0%)"></b>
<b style="background:linear-gradient(90deg,#77e1c6 0.0%,#7be3bf 2.2%,#73decd 4.4%,#63d5e8 6.6%,#63d1ea 8.7%,#63c9ed 10.9%,#6babef 13.1%,#63d3e9 15.3%,#71ddd0 17.5%,#6bdada 19.7%,#63d5e8 21.9%,#63c7ed 24.0%,#65d7e5 26.2%,#75e0c8 28.4%,#75dfca 30.6%,#63d3e9 32.8%,#63c2ef 35.0%,#63ccec 37.2%,#63d4e9 39.3%,#6cdad9 41.5%,#85e4ad 43.7%,#91e698 45.9%,#88e4a9 48.1%,#97e68e 50.3%,#b7e27c 52.5%,#d3cd71 54.6%,#c1807e 56.8%,#b47682 59.0%,#c1807e 61.2%,#dba273 63.4%,#d2d171 65.6%,#cddb72 67.8%,#ccdd72 69.9%,#b3e37e 72.1%,#a1e587 74.3%,#cfd772 76.5%,#cf8b79 78.7%,#e0af70 80.9%,#dba273 83.1%,#cf8b79 85.2%,#b47682 87.4%,#be7e7f 89.6%,#d08c79 91.8%,#c2817e 94.0%,#bc7c7f 96.2%,#d08c79 98.4%,#e0ae70 100.0%)"></b>
<b style="background:linear-gradient(90deg,#69d9dd 0.0%,#83e4b0 2.2%,#9ce68a 4.4%,#97e68d 6.6%,#8de59f 8.7%,#86e4ab 10.9%,#78e1c3 13.1%,#79e2c1 15.3%,#73decd 17.5%,#71ddd1 19.7%,#6cdbd9 21.9%,#63d0ea 24.0%,#6bdadb 26.2%,#7de3bb 28.4%,#81e4b4 30.6%,#82e4b2 32.8%,#78e1c3 35.0%,#69d9dd 37.2%,#63d0ea 39.3%,#67d8e2 41.5%,#6edcd6 43.7%,#63caec 45.9%,#68b4ef 48.1%,#6fa0ef 50.3%,#787ce8 52.5%,#6ea2ef 54.6%,#63c9ed 56.8%,#7978e6 59.0%,#7978e6 61.2%,#758bee 63.4%,#709aef 65.6%,#7295ef 67.8%,#6da4ef 69.9%,#7294ef 72.1%,#6aadef 74.3%,#63d1ea 76.5%,#63d5e8 78.7%,#69d9dd 80.9%,#7ae2c0 83.1%,#78e1c4 85.2%,#6ddbd7 87.4%,#64c0ef 89.6%,#7392ef 91.8%,#787be8 94.0%,#787ae7 96.2%,#7978e6 98.4%,#787ee9 100.0%)"></b>
<b style="background:linear-gradient(90deg,#7391ee 0.0%,#7782eb 2.2%,#787de8 4.4%,#7780ea 6.6%,#787fe9 8.7%,#7783ec 10.9%,#7196ef 13.1%,#63c3ef 15.3%,#63ccec 17.5%,#63d1ea 19.7%,#63c9ed 21.9%,#63c5ee 24.0%,#64d7e6 26.2%,#6ddbd8 28.4%,#81e4b3 30.6%,#a8e483 32.8%,#b4e37e 35.0%,#9ee688 37.2%,#7ce3bd 39.3%,#8ce5a0 41.5%,#b5e37d 43.7%,#94e694 45.9%,#91e698 48.1%,#b5e37d 50.3%,#bae27b 52.5%,#9be68a 54.6%,#94e693 56.8%,#b5e37d 59.0%,#ccdd72 61.2%,#d8c371 63.4%,#daa173 65.6%,#deb670 67.8%,#c2e177 69.9%,#9fe688 72.1%,#c6e075 74.3%,#d39078 76.5%,#cb887b 78.7%,#d1d371 80.9%,#abe482 83.1%,#95e691 85.2%,#97e68e 87.4%,#bee179 89.6%,#dbbc70 91.8%,#e0ae70 94.0%,#deaa71 96.2%,#d4cc71 98.4%,#d3ce71 100.0%)"></b>
<b style="background:linear-gradient(90deg,#6da5ef 0.0%,#64c0ef 2.2%,#64bfef 4.4%,#748eee 6.6%,#7196ef 8.7%,#69b1ef 10.9%,#6ca6ef 13.1%,#6ea1ef 15.3%,#6baaef 17.5%,#6ba9ef 19.7%,#6ba9ef 21.9%,#6f9def 24.0%,#7392ef 26.2%,#68b4ef 28.4%,#63d1ea 30.6%,#6adadb 32.8%,#6cdbd8 35.0%,#6cdbd9 37.2%,#73decc 39.3%,#86e4ab 41.5%,#8be5a4 43.7%,#95e691 45.9%,#ade481 48.1%,#bce179 50.3%,#cbdf72 52.5%,#c7e074 54.6%,#dca473 56.8%,#b47682 59.0%,#b47682 61.2%,#bb7b80 63.4%,#b47682 65.6%,#b47682 67.8%,#c0807e 69.9%,#d49178 72.1%,#c9877b 74.3%,#b47682 76.5%,#b47682 78.7%,#be7e7f 80.9%,#d59576 83.1%,#ddb770 85.2%,#d2d071 87.4%,#d5c971 89.6%,#d4cc71 91.8%,#b9e27b 94.0%,#b3e37e 96.2%,#bae27b 98.4%,#b8e27c 100.0%)"></b>
<b style="background:linear-gradient(90deg,#63c4ee 0.0%,#67b8ef 2.2%,#63ccec 4.4%,#64d6e7 6.6%,#86e4ac 8.7%,#98e68d 10.9%,#8de59e 13.1%,#99e78b 15.3%,#87e4aa 17.5%,#8ee59d 19.7%,#97e68e 21.9%,#83e4b0 24.0%,#7ae2bf 26.2%,#71ddd0 28.4%,#7ae2c0 30.6%,#84e4af 32.8%,#92e697 35.0%,#82e4b3 37.2%,#80e4b5 39.3%,#94e694 41.5%,#76e0c7 43.7%,#84e4af 45.9%,#84e4af 48.1%,#8ae5a4 50.3%,#9be68a 52.5%,#82e4b2 54.6%,#75dfc9 56.8%,#9be68a 59.0%,#8ce5a0 61.2%,#89e5a6 63.4%,#b0e380 65.6%,#ace482 67.8%,#b1e37f 69.9%,#cddc72 72.1%,#ccdd72 74.3%,#c2e177 76.5%,#cddd72 78.7%,#cadf73 80.9%,#bce27a 83.1%,#9de689 85.2%,#95e691 87.4%,#a1e587 89.6%,#a9e483 91.8%,#9be68a 94.0%,#a9e483 96.2%,#d3cf71 98.4%,#d0d572 100.0%)"></b>
<b style="background:linear-gradient(90deg,#6f9eef 0.0%,#68b3ef 2.2%,#63cbec 4.4%,#63d0ea 6.6%,#6adadc 8.7%,#67d8e1 10.9%,#63d5e8 13.1%,#6cdbd9 15.3%,#77e1c5 17.5%,#84e4af 19.7%,#8ae5a4 21.9%,#80e4b5 24.0%,#88e5a8 26.2%,#7de3bb 28.4%,#7ce3bd 30.6%,#7ae2bf 32.8%,#87e4a9 35.0%,#8ee59e 37.2%,#bce17a 39.3%,#c2e177 41.5%,#87e4a9 43.7%,#87e4aa 45.9%,#87e4aa 48.1%,#88e5a7 50.3%,#88e5a8 52.5%,#7ae2bf 54.6%,#70ddd1 56.8%,#7fe3b7 59.0%,#8ee59e 61.2%,#8ee59d 63.4%,#8fe59c 65.6%,#86e4ac 67.8%,#80e4b6 69.9%,#9de689 72.1%,#cddc72 74.3%,#c7e074 76.5%,#c1e177 78.7%,#c4e076 80.9%,#a0e687 83.1%,#a8e484 85.2%,#c6e075 87.4%,#bfe178 89.6%,#cbdf72 91.8%,#d0d572 94.0%,#d0d672 96.2%,#d7c671 98.4%,#d0d672 100.0%)"></b>
<b style="background:linear-gradient(90deg,#6aadef 0.0%,#66bbef 2.2%,#63c3ef 4.4%,#63c3ef 6.6%,#66bbef 8.7%,#63c3ef 10.9%,#63c9ed 13.1%,#63c7ed 15.3%,#63cdeb 17.5%,#74dfcb 19.7%,#79e2c1 21.9%,#63d3e9 24.0%,#71decf 26.2%,#8ce5a0 28.4%,#8ce5a1 30.6%,#7fe3b7 32.8%,#6bdadb 35.0%,#74dfca 37.2%,#8ee59e 39.3%,#7fe3b7 41.5%,#84e4ae 43.7%,#9ce689 45.9%,#9ae78b 48.1%,#88e5a8 50.3%,#6cdbd9 52.5%,#72dece 54.6%,#71ddd0 56.8%,#63cfeb 59.0%,#77e1c5 61.2%,#63d2e9 63.4%,#6da5ef 65.6%,#63c2ef 67.8%,#64c1ef 69.9%,#63d3e9 72.1%,#78e1c3 74.3%,#89e5a7 76.5%,#85e4ad 78.7%,#9be68a 80.9%,#c1e177 83.1%,#d4cd71 85.2%,#dfb370 87.4%,#cfd772 89.6%,#aee481 91.8%,#9ae68a 94.0%,#98e78d 96.2%,#a2e586 98.4%,#afe380 100.0%)"></b>
<b style="background:linear-gradient(90deg,#63cbec 0.0%,#63c7ed 2.2%,#65bdef 4.4%,#65beef 6.6%,#64c1ef 8.7%,#63c8ed 10.9%,#63c9ed 13.1%,#63cfea 15.3%,#63caec 17.5%,#6babef 19.7%,#7785ec 21.9%,#7782eb 24.0%,#7782eb 26.2%,#7685ec 28.4%,#7780ea 30.6%,#7685ed 32.8%,#787fe9 35.0%,#787fe9 37.2%,#7978e6 39.3%,#7978e6 41.5%,#768aee 43.7%,#63d4e9 45.9%,#63d4e9 48.1%,#63d6e8 50.3%,#6adadd 52.5%,#79e2c2 54.6%,#89e5a5 56.8%,#9be68a 59.0%,#c1e177 61.2%,#b4e37e 63.4%,#aae483 65.6%,#a8e484 67.8%,#96e691 69.9%,#92e696 72.1%,#90e69a 74.3%,#9ae68a 76.5%,#77e1c5 78.7%,#69d9de 80.9%,#87e4a9 83.1%,#93e695 85.2%,#8fe59c 87.4%,#a3e586 89.6%,#aee480 91.8%,#98e68d 94.0%,#7be3be 96.2%,#73dfcc 98.4%,#7be3bf 100.0%)"></b>
<b style="background:linear-gradient(90deg,#7be3be 0.0%,#78e1c4 2.2%,#70ddd1 4.4%,#69d9de 6.6%,#70ddd2 8.7%,#77e1c5 10.9%,#69d9df 13.1%,#63d5e8 15.3%,#63d4e9 17.5%,#63c9ed 19.7%,#63c8ed 21.9%,#63d6e8 24.0%,#6fdcd3 26.2%,#6adadc 28.4%,#63ccec 30.6%,#6ddbd8 32.8%,#72dece 35.0%,#63d1ea 37.2%,#63d4e9 39.3%,#79e2c1 41.5%,#7fe3b8 43.7%,#7be3bf 45.9%,#69d9de 48.1%,#6bdadb 50.3%,#7be3be 52.5%,#72decf 54.6%,#6cdbd8 56.8%,#63d3e9 59.0%,#76e0c7 61.2%,#87e4aa 63.4%,#7ae2c0 65.6%,#7ee3b9 67.8%,#8ce5a1 69.9%,#88e5a8 72.1%,#80e4b6 74.3%,#94e694 76.5%,#b0e37f 78.7%,#a9e483 80.9%,#9be68a 83.1%,#a0e688 85.2%,#b2e37e 87.4%,#b2e37f 89.6%,#b8e27c 91.8%,#ace482 94.0%,#c3e176 96.2%,#c1e177 98.4%,#98e78c 100.0%)"></b>
<b style="background:linear-gradient(90deg,#86e4ab 0.0%,#80e4b6 2.2%,#a6e584 4.4%,#92e697 6.6%,#7ee3b9 8.7%,#95e692 10.9%,#89e5a6 13.1%,#7ee3b9 15.3%,#79e2c2 17.5%,#6fdcd4 19.7%,#63cdeb 21.9%,#63d6e8 24.0%,#76e0c7 26.2%,#7de3bb 28.4%,#82e4b3 30.6%,#82e4b2 32.8%,#78e1c3 35.0%,#8ee59e 37.2%,#a9e483 39.3%,#8de59f 41.5%,#84e4af 43.7%,#77e0c6 45.9%,#7ce3bc 48.1%,#87e4aa 50.3%,#82e4b2 52.5%,#7ae2c0 54.6%,#64d7e6 56.8%,#69b1ef 59.0%,#64d7e6 61.2%,#91e698 63.4%,#a7e584 65.6%,#96e690 67.8%,#90e69a 69.9%,#ade481 72.1%,#c3e076 74.3%,#a9e483 76.5%,#c8e074 78.7%,#bde179 80.9%,#a8e484 83.1%,#b6e27d 85.2%,#d7c571 87.4%,#dfac70 89.6%,#d5ca71 91.8%,#d1d471 94.0%,#dfb270 96.2%,#d79a75 98.4%,#dda871 100.0%)"></b>
<b style="background:linear-gradient(90deg,#7fe3b8 0.0%,#83e4b0 2.2%,#7be3be 4.4%,#73decd 6.6%,#6ddbd7 8.7%,#73decc 10.9%,#7de3bb 13.1%,#87e4aa 15.3%,#7ae2c0 17.5%,#98e68d 19.7%,#c2e177 21.9%,#bde179 24.0%,#aae483 26.2%,#7de3bc 28.4%,#81e4b4 30.6%,#89e5a6 32.8%,#81e4b4 35.0%,#7de3ba 37.2%,#8be5a3 39.3%,#92e697 41.5%,#84e4af 43.7%,#82e4b2 45.9%,#8ae5a4 48.1%,#95e692 50.3%,#86e4ab 52.5%,#8ce5a2 54.6%,#8ce5a1 56.8%,#6cdada 59.0%,#67d8e1 61.2%,#6ddbd6 63.4%,#79e2c1 65.6%,#7be3bd 67.8%,#70ddd2 69.9%,#7ce3bc 72.1%,#7fe3b8 74.3%,#67d8e2 76.5%,#63ccec 78.7%,#6aadef 80.9%,#63c2ef 83.1%,#6cdada 85.2%,#74dfcb 87.4%,#6baaef 89.6%,#69afef 91.8%,#6ddbd7 94.0%,#84e4af 96.2%,#6bdada 98.4%,#63cfeb 100.0%)"></b>
<b style="background:linear-gradient(90deg,#69b2ef 0.0%,#63c6ee 2.2%,#63ccec 4.4%,#63d5e8 6.6%,#63d5e8 8.7%,#68d9e0 10.9%,#6ad9dd 13.1%,#71ddd0 15.3%,#7ce3bc 17.5%,#8ae5a4 19.7%,#a1e587 21.9%,#a5e585 24.0%,#8fe59b 26.2%,#79e2c2 28.4%,#7be3be 30.6%,#7ae2c0 32.8%,#80e4b5 35.0%,#8ae5a4 37.2%,#9fe688 39.3%,#8ae5a4 41.5%,#75e0c8 43.7%,#79e2c2 45.9%,#84e4af 48.1%,#8be5a3 50.3%,#abe482 52.5%,#c7e074 54.6%,#d6c871 56.8%,#d08c79 59.0%,#d89c75 61.2%,#d3ce71 63.4%,#a7e584 65.6%,#89e5a7 67.8%,#79e2c2 69.9%,#89e5a6 72.1%,#90e59b 74.3%,#89e5a7 76.5%,#90e69b 78.7%,#90e69a 80.9%,#7ee3b9 83.1%,#8de59f 85.2%,#a8e484 87.4%,#98e78d 89.6%,#84e4af 91.8%,#80e4b5 94.0%,#93e695 96.2%,#96e690 98.4%,#9ae68a 100.0%)"></b>
<b style="background:linear-gradient(90deg,#758cee 0.0%,#6ca6ef 2.2%,#67b8ef 4.4%,#63c5ee 6.6%,#66baef 8.7%,#65bcef 10.9%,#64c0ef 13.1%,#63c3ef 15.3%,#63c9ed 17.5%,#6ba9ef 19.7%,#63c2ef 21.9%,#6edcd6 24.0%,#71decf 26.2%,#63c7ed 28.4%,#63cbec 30.6%,#67d8e1 32.8%,#6adadd 35.0%,#6ddbd8 37.2%,#6ddbd8 39.3%,#66d7e3 41.5%,#64d6e7 43.7%,#63cfea 45.9%,#6ddbd7 48.1%,#83e4b1 50.3%,#8be5a2 52.5%,#8ee59d 54.6%,#84e4ae 56.8%,#90e69b 59.0%,#ace482 61.2%,#98e78d 63.4%,#93e696 65.6%,#94e692 67.8%,#8ae5a4 69.9%,#82e4b2 72.1%,#85e4ae 74.3%,#7fe3b7 76.5%,#6cdbd9 78.7%,#6bdadb 80.9%,#8de59f 83.1%,#9be68a 85.2%,#89e5a6 87.4%,#88e5a7 89.6%,#6edcd5 91.8%,#63d0ea 94.0%,#66d8e3 96.2%,#78e1c3 98.4%,#95e692 100.0%)"></b>
<b style="background:linear-gradient(90deg,#a0e688 0.0%,#bfe178 2.2%,#9be68a 4.4%,#95e691 6.6%,#a3e586 8.7%,#86e4ab 10.9%,#95e692 13.1%,#97e68f 15.3%,#a1e587 17.5%,#ceda72 19.7%,#c1e177 21.9%,#94e693 24.0%,#8de5a0 26.2%,#83e4b0 28.4%,#86e4ab 30.6%,#a6e584 32.8%,#b8e27c 35.0%,#cfd672 37.2%,#e1b06f 39.3%,#c2817e 41.5%,#d28d79 43.7%,#d99f74 45.9%,#dfb370 48.1%,#dca572 50.3%,#bd7d7f 52.5%,#c8867c 54.6%,#c1807e 56.8%,#c9877b 59.0%,#d49377 61.2%,#d8c270 63.4%,#cddc72 65.6%,#e0ad70 67.8%,#d28e79 69.9%,#d49377 72.1%,#e1af6f 74.3%,#ccde72 76.5%,#bee179 78.7%,#d5c971 80.9%,#d5c971 83.1%,#bfe178 85.2%,#b5e37d 87.4%,#a6e584 89.6%,#8ce5a0 91.8%,#8fe59d 94.0%,#c3e176 96.2%,#b8e27c 98.4%,#ace482 100.0%)"></b>
<b style="background:linear-gradient(90deg,#72dece 0.0%,#64d6e7 2.2%,#63cdeb 4.4%,#63d2e9 6.6%,#66d8e3 8.7%,#74dfcb 10.9%,#90e699 13.1%,#8ce5a1 15.3%,#93e696 17.5%,#cbdf72 19.7%,#ace482 21.9%,#89e5a7 24.0%,#91e698 26.2%,#b7e27c 28.4%,#c4e076 30.6%,#9fe688 32.8%,#92e697 35.0%,#85e4ac 37.2%,#8ee59e 39.3%,#a8e484 41.5%,#9de689 43.7%,#82e4b3 45.9%,#7de3ba 48.1%,#8ae5a5 50.3%,#96e691 52.5%,#89e5a6 54.6%,#6ddbd8 56.8%,#65bdef 59.0%,#64c1ef 61.2%,#65d7e5 63.4%,#79e2c1 65.6%,#8ee59e 67.8%,#a5e585 69.9%,#b1e37f 72.1%,#a4e585 74.3%,#abe482 76.5%,#b1e37f 78.7%,#8fe59c 80.9%,#82e4b2 83.1%,#7ce3bc 85.2%,#6edcd6 87.4%,#6edcd6 89.6%,#a8e483 91.8%,#c3e176 94.0%,#d0d572 96.2%,#afe380 98.4%,#90e69a 100.0%)"></b>
<b style="background:linear-gradient(90deg,#68b4ef 0.0%,#758cee 2.2%,#6f9fef 4.4%,#6baaef 6.6%,#758cee 8.7%,#7784ec 10.9%,#7198ef 13.1%,#6babef 15.3%,#64bfef 17.5%,#63d1ea 19.7%,#63cdeb 21.9%,#63c3ef 24.0%,#63c5ee 26.2%,#70ddd1 28.4%,#8ae5a4 30.6%,#79e2c1 32.8%,#67d8e2 35.0%,#63cfeb 37.2%,#63c4ef 39.3%,#63cdeb 41.5%,#63ccec 43.7%,#64c1ef 45.9%,#6ca7ef 48.1%,#7687ed 50.3%,#7685ed 52.5%,#7784ec 54.6%,#7978e6 56.8%,#787de8 59.0%,#68b2ef 61.2%,#65bdef 63.4%,#68b4ef 65.6%,#63c9ed 67.8%,#7ee3b9 69.9%,#83e4b1 72.1%,#76e0c7 74.3%,#84e4af 76.5%,#87e4a9 78.7%,#71ddd0 80.9%,#6edcd4 83.1%,#63ccec 85.2%,#68d9e0 87.4%,#63caec 89.6%,#63c9ed 91.8%,#66d7e4 94.0%,#6fdcd3 96.2%,#63cceb 98.4%,#63ccec 100.0%)"></b>
<b style="background:linear-gradient(90deg,#709cef 0.0%,#68b2ef 2.2%,#63cfea 4.4%,#63d2e9 6.6%,#69b1ef 8.7%,#787ce8 10.9%,#787de9 13.1%,#787ae7 15.3%,#7978e6 17.5%,#7978e6 19.7%,#7978e6 21.9%,#7978e6 24.0%,#7978e6 26.2%,#787ae7 28.4%,#6ea1ef 30.6%,#777fea 32.8%,#7978e6 35.0%,#787be7 37.2%,#7780ea 39.3%,#787ae7 41.5%,#787ee9 43.7%,#7198ef 45.9%,#7785ec 48.1%,#7978e6 50.3%,#7978e6 52.5%,#7978e6 54.6%,#7978e6 56.8%,#7978e6 59.0%,#7686ed 61.2%,#63c7ed 63.4%,#6aadef 65.6%,#69b1ef 67.8%,#63d1ea 69.9%,#73decd 72.1%,#83e4b0 74.3%,#84e4b0 76.5%,#90e69a 78.7%,#bbe27a 80.9%,#b3e37e 83.1%,#97e68f 85.2%,#81e4b4 87.4%,#6edcd5 89.6%,#76e0c8 91.8%,#74dfcb 94.0%,#63cdeb 96.2%,#6aacef 98.4%,#6ea1ef 100.0%)"></b>
<b style="background:linear-gradient(90deg,#66d7e4 0.0%,#67d8e1 2.2%,#64d7e7 4.4%,#6edcd5 6.6%,#7ce3bd 8.7%,#72dece 10.9%,#6fdcd3 13.1%,#70ddd2 15.3%,#70ddd1 17.5%,#74dfcb 19.7%,#67d8e2 21.9%,#64c0ef 24.0%,#66baef 26.2%,#63c8ed 28.4%,#68d9df 30.6%,#6ddbd6 32.8%,#63cfeb 35.0%,#6aaeef 37.2%,#63caec 39.3%,#73decc 41.5%,#76e0c7 43.7%,#79e2c2 45.9%,#80e3b6 48.1%,#8ce5a1 50.3%,#8ae5a4 52.5%,#89e5a5 54.6%,#a6e584 56.8%,#a0e687 59.0%,#93e695 61.2%,#91e699 63.4%,#8ae5a5 65.6%,#94e693 67.8%,#ade481 69.9%,#95e692 72.1%,#90e59b 74.3%,#99e78b 76.5%,#c1e177 78.7%,#dca672 80.9%,#dba373 83.1%,#dcba70 85.2%,#d2d071 87.4%,#d3cf71 89.6%,#d3ce71 91.8%,#d7c671 94.0%,#d2d071 96.2%,#cadf73 98.4%,#c5e075 100.0%)"></b>
<b style="background:linear-gradient(90deg,#63c7ee 0.0%,#6cdbd9 2.2%,#69d9de 4.4%,#63d2e9 6.6%,#64d7e6 8.7%,#6adadc 10.9%,#71ddd0 13.1%,#6cdbd9 15.3%,#69d9de 17.5%,#63cfea 19.7%,#6da5ef 21.9%,#63c9ed 24.0%,#63ccec 26.2%,#63c5ee 28.4%,#66bbef 30.6%,#63c5ee 32.8%,#68d9df 35.0%,#77e1c6 37.2%,#79e2c1 39.3%,#6adadc 41.5%,#6bdada 43.7%,#7be3bf 45.9%,#84e4ae 48.1%,#7ee3b9 50.3%,#6fdcd3 52.5%,#68d8e0 54.6%,#65d7e6 56.8%,#63c8ed 59.0%,#63d3e9 61.2%,#63c6ee 63.4%,#6ea2ef 65.6%,#6da4ef 67.8%,#63c3ef 69.9%,#63d0ea 72.1%,#63d2e9 74.3%,#65bcef 76.5%,#787ae7 78.7%,#7783ec 80.9%,#7978e6 83.1%,#7978e6 85.2%,#7978e6 87.4%,#787ee9 89.6%,#63c5ee 91.8%,#63d6e8 94.0%,#63c9ed 96.2%,#63d1ea 98.4%,#6ddbd7 100.0%)"></b>
<b style="background:linear-gradient(90deg,#63d4e9 0.0%,#6bdadb 2.2%,#73dfcc 4.4%,#75dfc9 6.6%,#7be3be 8.7%,#7ae2c0 10.9%,#79e2c1 13.1%,#91e698 15.3%,#cddb72 17.5%,#d69776 19.7%,#daa074 21.9%,#d2d071 24.0%,#c3e177 26.2%,#c8e074 28.4%,#b0e380 30.6%,#98e78c 32.8%,#9ce689 35.0%,#bce27a 37.2%,#ccde72 39.3%,#dfb370 41.5%,#ced972 43.7%,#a1e587 45.9%,#b3e37e 48.1%,#b3e37e 50.3%,#88e5a7 52.5%,#80e4b5 54.6%,#a6e584 56.8%,#bbe27a 59.0%,#d0d572 61.2%,#d8c270 63.4%,#d6c871 65.6%,#b3e37e 67.8%,#ace482 69.9%,#99e78b 72.1%,#90e69a 74.3%,#8fe59b 76.5%,#a0e687 78.7%,#90e69a 80.9%,#82e4b2 83.1%,#84e4ae 85.2%,#7ae2bf 87.4%,#63caec 89.6%,#63ceeb 91.8%,#68d8e1 94.0%,#68d8e0 96.2%,#71ddd0 98.4%,#70ddd1 100.0%)"></b>
<b style="background:linear-gradient(90deg,#7784ec 0.0%,#7978e6 2.2%,#7978e6 4.4%,#7978e6 6.6%,#7978e6 8.7%,#7978e6 10.9%,#7978e6 13.1%,#7978e6 15.3%,#7978e6 17.5%,#7879e7 19.7%,#7784ec 21.9%,#7685ec 24.0%,#7686ed 26.2%,#7198ef 28.4%,#64c0ef 30.6%,#65d7e5 32.8%,#63d2ea 35.0%,#6fdcd4 37.2%,#7ee3b9 39.3%,#88e5a7 41.5%,#96e690 43.7%,#92e697 45.9%,#bae27b 48.1%,#cbdf72 50.3%,#92e696 52.5%,#97e68e 54.6%,#b2e37f 56.8%,#ced972 59.0%,#dbbb70 61.2%,#ddb870 63.4%,#ddb770 65.6%,#c7e074 67.8%,#c0e178 69.9%,#bfe178 72.1%,#a7e584 74.3%,#98e78d 76.5%,#c4e076 78.7%,#d3ce71 80.9%,#c0e178 83.1%,#c7e074 85.2%,#d1d271 87.4%,#cfd772 89.6%,#d1d271 91.8%,#d6c671 94.0%,#dfb370 96.2%,#d4cc71 98.4%,#d9c070 100.0%)"></b>
<b style="background:linear-gradient(90deg,#63ccec 0.0%,#63c4ef 2.2%,#7688ee 4.4%,#7781eb 6.6%,#7685ed 8.7%,#7197ef 10.9%,#6baaef 13.1%,#63c6ee 15.3%,#63d4e9 17.5%,#7ce3bc 19.7%,#85e4ad 21.9%,#6fdcd4 24.0%,#73decc 26.2%,#72decd 28.4%,#70ddd2 30.6%,#8be5a3 32.8%,#8be5a3 35.0%,#78e1c4 37.2%,#90e699 39.3%,#bce27a 41.5%,#ade481 43.7%,#b5e37d 45.9%,#d7c571 48.1%,#b67881 50.3%,#b47682 52.5%,#be7e7f 54.6%,#cc897a 56.8%,#c7857c 59.0%,#c9877b 61.2%,#d59676 63.4%,#deaa71 65.6%,#b9e27b 67.8%,#b6e27d 69.9%,#d4cb71 72.1%,#cddb72 74.3%,#a1e587 76.5%,#98e68d 78.7%,#bce27a 80.9%,#d4cc71 83.1%,#e0b06f 85.2%,#ce8b7a 87.4%,#d08c79 89.6%,#d59477 91.8%,#ce8b7a 94.0%,#b47682 96.2%,#b47682 98.4%,#b47682 100.0%)"></b>
<b style="background:linear-gradient(90deg,#63d5e8 0.0%,#63d0ea 2.2%,#63c5ee 4.4%,#63cfea 6.6%,#69d9dd 8.7%,#66d8e3 10.9%,#65d7e5 13.1%,#65d7e5 15.3%,#7ce3bc 17.5%,#b6e27d 19.7%,#8ae5a5 21.9%,#6adadc 24.0%,#6fdcd3 26.2%,#6ddbd7 28.4%,#6adadc 30.6%,#74dfcb 32.8%,#8ee59e 35.0%,#8be5a2 37.2%,#81e4b4 39.3%,#92e697 41.5%,#81e4b4 43.7%,#77e1c5 45.9%,#7ce3bc 48.1%,#97e68e 50.3%,#91e699 52.5%,#a6e585 54.6%,#bde179 56.8%,#dabf70 59.0%,#ddb770 61.2%,#cddb72 63.4%,#c0e178 65.6%,#bae27b 67.8%,#bae27a 69.9%,#b4e37e 72.1%,#99e78b 74.3%,#c3e076 76.5%,#d18d79 78.7%,#d08c79 80.9%,#d89c75 83.1%,#dba273 85.2%,#dba373 87.4%,#d79976 89.6%,#bd7d7f 91.8%,#be7e7f 94.0%,#d49277 96.2%,#d49277 98.4%,#c9867b 100.0%)"></b>
<b style="background:linear-gradient(90deg,#68d9df 0.0%,#6cdbd8 2.2%,#7fe3b8 4.4%,#87e4aa 6.6%,#83e4b0 8.7%,#76e0c7 10.9%,#80e4b5 13.1%,#96e690 15.3%,#81e4b4 17.5%,#71decf 19.7%,#84e4ae 21.9%,#8ae5a5 24.0%,#92e697 26.2%,#9de689 28.4%,#8ae5a4 30.6%,#79e2c1 32.8%,#85e4ac 35.0%,#99e78b 37.2%,#a2e587 39.3%,#b1e37f 41.5%,#98e78c 43.7%,#92e697 45.9%,#8be5a2 48.1%,#7de3bb 50.3%,#7fe3b7 52.5%,#aae483 54.6%,#bde179 56.8%,#94e693 59.0%,#8ee59e 61.2%,#78e1c3 63.4%,#7ae2bf 65.6%,#85e4ad 67.8%,#98e78d 69.9%,#cddb72 72.1%,#bde179 74.3%,#b5e37d 76.5%,#9ce689 78.7%,#78e1c3 80.9%,#93e695 83.1%,#a2e587 85.2%,#a8e484 87.4%,#c2e177 89.6%,#cddb72 91.8%,#c3e076 94.0%,#b3e37e 96.2%,#b2e37f 98.4%,#c7e074 100.0%)"></b>
<b style="background:linear-gradient(90deg,#68b2ef 0.0%,#67b6ef 2.2%,#68b2ef 4.4%,#66baef 6.6%,#6aacef 8.7%,#67b7ef 10.9%,#63c6ee 13.1%,#63caec 15.3%,#63ceeb 17.5%,#63cfeb 19.7%,#6adadc 21.9%,#63cfeb 24.0%,#64c0ef 26.2%,#63cfea 28.4%,#63d2e9 30.6%,#63c7ee 32.8%,#63cdeb 35.0%,#65d7e6 37.2%,#72decf 39.3%,#73decd 41.5%,#65bcef 43.7%,#66b9ef 45.9%,#63c7ed 48.1%,#63c2ef 50.3%,#63c7ed 52.5%,#6aadef 54.6%,#63c7ed 56.8%,#63ceeb 59.0%,#6da3ef 61.2%,#7781ea 63.4%,#748fee 65.6%,#63caec 67.8%,#69d9de 69.9%,#63d6e8 72.1%,#63ceeb 74.3%,#71ddd0 76.5%,#72dece 78.7%,#71decf 80.9%,#8ae5a4 83.1%,#83e4b1 85.2%,#75dfc9 87.4%,#84e4ae 89.6%,#91e698 91.8%,#94e694 94.0%,#92e697 96.2%,#9fe688 98.4%,#b1e37f 100.0%)"></b>
<b style="background:linear-gradient(90deg,#77e1c5 0.0%,#6ddbd6 2.2%,#6fdcd4 4.4%,#77e1c5 6.6%,#82e4b3 8.7%,#9be68a 10.9%,#8ae5a4 13.1%,#70ddd2 15.3%,#72decf 17.5%,#72decf 19.7%,#75e0c9 21.9%,#67d8e1 24.0%,#6adadb 26.2%,#72dece 28.4%,#79e2c1 30.6%,#63cbec 32.8%,#7293ef 35.0%,#65bdef 37.2%,#63c9ed 39.3%,#7689ee 41.5%,#7780ea 43.7%,#65bdef 45.9%,#64c1ef 48.1%,#6babef 50.3%,#63d2ea 52.5%,#74dfca 54.6%,#78e1c3 56.8%,#ade481 59.0%,#d49377 61.2%,#dfb370 63.4%,#a3e586 65.6%,#a3e586 67.8%,#b7e27c 69.9%,#ade481 72.1%,#ccde72 74.3%,#d3cf71 76.5%,#cae073 78.7%,#d4cb71 80.9%,#d3cd71 83.1%,#c2e177 85.2%,#ace482 87.4%,#96e68f 89.6%,#98e78c 91.8%,#8fe59c 94.0%,#6bdada 96.2%,#79e2c2 98.4%,#91e699 100.0%)"></b>
<b style="background:linear-gradient(90deg,#6edcd6 0.0%,#7ae2c1 2.2%,#82e4b1 4.4%,#8de59f 6.6%,#a8e483 8.7%,#d8c471 10.9%,#d3ce71 13.1%,#90e59b 15.3%,#75dfc9 17.5%,#91e699 19.7%,#d6c771 21.9%,#c9e073 24.0%,#deb570 26.2%,#dcba70 28.4%,#d5ca71 30.6%,#c0e178 32.8%,#bae27b 35.0%,#b1e37f 37.2%,#b4e37e 39.3%,#d0d672 41.5%,#cbdf72 43.7%,#ceda72 45.9%,#ddb770 48.1%,#e0b270 50.3%,#deaa71 52.5%,#dda672 54.6%,#d8c270 56.8%,#dbbb70 59.0%,#d89d74 61.2%,#d99d74 63.4%,#dabe70 65.6%,#cfd772 67.8%,#b0e380 69.9%,#a1e587 72.1%,#d0d472 74.3%,#cbdf72 76.5%,#aee480 78.7%,#cfd772 80.9%,#d1d371 83.1%,#d8c270 85.2%,#bae27b 87.4%,#8ee59d 89.6%,#8be5a3 91.8%,#85e4ae 94.0%,#8fe59c 96.2%,#afe380 98.4%,#c2e177 100.0%)"></b>
<b style="background:linear-gradient(90deg,#63d3e9 0.0%,#6ddbd7 2.2%,#79e2c2 4.4%,#91e699 6.6%,#8fe59c 8.7%,#a1e587 10.9%,#a9e483 13.1%,#9ce689 15.3%,#9fe688 17.5%,#bee179 19.7%,#c2e177 21.9%,#9de689 24.0%,#96e68f 26.2%,#bfe178 28.4%,#d0d472 30.6%,#dbbb70 32.8%,#d69776 35.0%,#d08c79 37.2%,#b47682 39.3%,#b47682 41.5%,#b47682 43.7%,#c9867b 45.9%,#cd897a 48.1%,#cf8b79 50.3%,#e0ae70 52.5%,#dfab71 54.6%,#dba273 56.8%,#daa074 59.0%,#c0807e 61.2%,#b57782 63.4%,#d08c79 65.6%,#daa074 67.8%,#d89c75 69.9%,#c4837d 72.1%,#b47682 74.3%,#b47682 76.5%,#c5837d 78.7%,#dda772 80.9%,#d4cc71 83.1%,#e0b170 85.2%,#e0b170 87.4%,#ced972 89.6%,#ced972 91.8%,#bbe27a 94.0%,#c8e074 96.2%,#c0e178 98.4%,#bae27b 100.0%)"></b>
<b style="background:linear-gradient(90deg,#63c9ed 0.0%,#63ccec 2.2%,#67d8e2 4.4%,#78e1c3 6.6%,#6edcd5 8.7%,#63d6e8 10.9%,#63caec 13.1%,#63c8ed 15.3%,#63ceeb 17.5%,#66d8e3 19.7%,#63d3e9 21.9%,#63d4e9 24.0%,#63d4e9 26.2%,#67d8e1 28.4%,#6cdbd9 30.6%,#6ddbd7 32.8%,#71ded0 35.0%,#72decd 37.2%,#70ddd1 39.3%,#63d5e8 41.5%,#63d4e9 43.7%,#71ddd0 45.9%,#74dfca 48.1%,#6fdcd4 50.3%,#63d2e9 52.5%,#63d3e9 54.6%,#69d9de 56.8%,#69d9df 59.0%,#63cbec 61.2%,#6bdada 63.4%,#69d9df 65.6%,#63cbec 67.8%,#66d8e3 69.9%,#7ee3ba 72.1%,#7ae2c0 74.3%,#66d8e3 76.5%,#72dece 78.7%,#74dfca 80.9%,#99e78b 83.1%,#bae27b 85.2%,#bbe27a 87.4%,#bde179 89.6%,#b7e27c 91.8%,#aee480 94.0%,#c2e177 96.2%,#ccdd72 98.4%,#c8e074 100.0%)"></b>
<b style="background:linear-gradient(90deg,#6aadef 0.0%,#6f9fef 2.2%,#67b7ef 4.4%,#63c7ed 6.6%,#7198ef 8.7%,#787be7 10.9%,#7978e6 13.1%,#7978e6 15.3%,#787ae7 17.5%,#6fa0ef 19.7%,#6f9fef 21.9%,#66baef 24.0%,#63caec 26.2%,#63c8ed 28.4%,#63d3e9 30.6%,#68d9e0 32.8%,#63d0ea 35.0%,#63ccec 37.2%,#63d1ea 39.3%,#63ceeb 41.5%,#65d7e5 43.7%,#6bdadb 45.9%,#6bdada 48.1%,#63d3e9 50.3%,#63cfea 52.5%,#63d5e8 54.6%,#68d9e0 56.8%,#63cfea 59.0%,#63c6ee 61.2%,#63caec 63.4%,#63d5e8 65.6%,#6ddbd7 67.8%,#6fddd3 69.9%,#82e4b1 72.1%,#81e4b5 74.3%,#84e4ae 76.5%,#a0e688 78.7%,#96e691 80.9%,#82e4b2 83.1%,#79e2c2 85.2%,#8ee59e 87.4%,#94e694 89.6%,#8be5a4 91.8%,#7be2bf 94.0%,#70ddd2 96.2%,#7be3be 98.4%,#8ae5a4 100.0%)"></b>
<b style="background:linear-gradient(90deg,#68d9df 0.0%,#69d9de 2.2%,#6fddd3 4.4%,#74dfcb 6.6%,#6ddbd7 8.7%,#69d9dd 10.9%,#71ddd1 13.1%,#78e1c4 15.3%,#78e1c4 17.5%,#8ae5a4 19.7%,#87e4aa 21.9%,#87e4a9 24.0%,#7ee3b8 26.2%,#7ee3b9 28.4%,#90e69a 30.6%,#9ae68b 32.8%,#c1e177 35.0%,#b0e380 37.2%,#bee179 39.3%,#daa074 41.5%,#d2d071 43.7%,#98e78d 45.9%,#99e78b 48.1%,#d2d071 50.3%,#c2e177 52.5%,#d9c170 54.6%,#ddb770 56.8%,#b5e37d 59.0%,#a5e585 61.2%,#a2e586 63.4%,#9ae68a 65.6%,#abe482 67.8%,#99e78b 69.9%,#88e5a7 72.1%,#8ce5a1 74.3%,#9de689 76.5%,#ace482 78.7%,#b8e27c 80.9%,#a4e585 83.1%,#9de689 85.2%,#a7e584 87.4%,#a5e585 89.6%,#b2e37f 91.8%,#cbdf72 94.0%,#ced872 96.2%,#ace481 98.4%,#94e694 100.0%)"></b>
<b style="background:linear-gradient(90deg,#6baaef 0.0%,#6aafef 2.2%,#748fee 4.4%,#7781eb 6.6%,#7782eb 8.7%,#7783ec 10.9%,#6f9eef 13.1%,#64c0ef 15.3%,#63d3e9 17.5%,#63cdeb 19.7%,#65bcef 21.9%,#63d4e9 24.0%,#63d5e8 26.2%,#63c5ee 28.4%,#6babef 30.6%,#7392ef 32.8%,#63c6ee 35.0%,#63cdeb 37.2%,#63cdeb 39.3%,#6ddbd7 41.5%,#95e692 43.7%,#8ce5a0 45.9%,#88e4a9 48.1%,#b2e37f 50.3%,#95e691 52.5%,#7fe3b8 54.6%,#7fe3b8 56.8%,#7ae2c1 59.0%,#70ddd2 61.2%,#63cfea 63.4%,#63c6ee 65.6%,#6bdadb 67.8%,#86e4ac 69.9%,#80e4b6 72.1%,#7be3bf 74.3%,#85e4ae 76.5%,#63d4e9 78.7%,#63caec 80.9%,#63d4e9 83.1%,#63cbec 85.2%,#63c8ed 87.4%,#67b8ef 89.6%,#758bee 91.8%,#6ea1ef 94.0%,#63c9ec 96.2%,#63d6e8 98.4%,#63cceb 100.0%)"></b>
<b style="background:linear-gradient(90deg,#7ae2bf 0.0%,#7ce3bd 2.2%,#77e1c5 4.4%,#6ddbd7 6.6%,#69d9de 8.7%,#72dece 10.9%,#75e0c8 13.1%,#7fe3b8 15.3%,#bfe178 17.5%,#94e692 19.7%,#76e0c6 21.9%,#88e5a8 24.0%,#99e78b 26.2%,#c0e178 28.4%,#d3cd71 30.6%,#a1e587 32.8%,#94e694 35.0%,#8ee59d 37.2%,#8ce5a1 39.3%,#cfd672 41.5%,#d08c79 43.7%,#d79975 45.9%,#dcba70 48.1%,#ddb870 50.3%,#cd8a7a 52.5%,#deb670 54.6%,#d8c371 56.8%,#cb887b 59.0%,#b47682 61.2%,#b47682 63.4%,#cc897a 65.6%,#d69776 67.8%,#b47682 69.9%,#c3827d 72.1%,#d8c471 74.3%,#ccde72 76.5%,#d2cf71 78.7%,#ccde72 80.9%,#c5e075 83.1%,#bfe178 85.2%,#cddc72 87.4%,#d7c571 89.6%,#bfe178 91.8%,#9ae68a 94.0%,#a2e587 96.2%,#cfd772 98.4%,#dcba70 100.0%)"></b>
<b style="background:linear-gradient(90deg,#7fe3b8 0.0%,#80e4b5 2.2%,#96e691 4.4%,#ceda72 6.6%,#cddb72 8.7%,#bde179 10.9%,#99e78b 13.1%,#88e5a7 15.3%,#93e694 17.5%,#8de5a0 19.7%,#90e69a 21.9%,#9be68a 24.0%,#88e4a9 26.2%,#79e2c2 28.4%,#83e4b1 30.6%,#88e5a8 32.8%,#85e4ae 35.0%,#83e4b0 37.2%,#84e4af 39.3%,#bbe27a 41.5%,#c0e178 43.7%,#b2e37f 45.9%,#93e696 48.1%,#79e2c1 50.3%,#7fe3b8 52.5%,#80e4b5 54.6%,#95e692 56.8%,#cddc72 59.0%,#8fe59c 61.2%,#70ddd2 63.4%,#73decc 65.6%,#8ce5a1 67.8%,#8ae5a4 69.9%,#71decf 72.1%,#74dfcb 74.3%,#7fe3b8 76.5%,#81e4b3 78.7%,#78e1c4 80.9%,#80e4b6 83.1%,#97e68e 85.2%,#9be68a 87.4%,#bae27b 89.6%,#ade481 91.8%,#83e4b0 94.0%,#73decd 96.2%,#7be3bf 98.4%,#77e1c4 100.0%)"></b>
<b style="background:linear-gradient(90deg,#66d8e3 0.0%,#65d7e6 2.2%,#6fdcd4 4.4%,#6fdcd4 6.6%,#79e2c2 8.7%,#7be3be 10.9%,#67d8e1 13.1%,#63d0ea 15.3%,#63d1ea 17.5%,#63cbec 19.7%,#63ceeb 21.9%,#63cfea 24.0%,#63cbec 26.2%,#63c6ee 28.4%,#6ca9ef 30.6%,#7392ef 32.8%,#64bfef 35.0%,#6aaeef 37.2%,#7978e6 39.3%,#7978e6 41.5%,#787be8 43.7%,#7782eb 45.9%,#7978e6 48.1%,#7978e6 50.3%,#787be8 52.5%,#787ae7 54.6%,#7978e6 56.8%,#7978e6 59.0%,#7879e6 61.2%,#7784ec 63.4%,#7782eb 65.6%,#7689ee 67.8%,#7781eb 69.9%,#787de8 72.1%,#7781eb 74.3%,#777fe9 76.5%,#7686ed 78.7%,#63cbec 80.9%,#6fdcd3 83.1%,#73dfcc 85.2%,#67d8e1 87.4%,#6fddd3 89.6%,#7de3bb 91.8%,#90e69b 94.0%,#76e0c8 96.2%,#6bdadb 98.4%,#84e4af 100.0%)"></b>
<b style="background:linear-gradient(90deg,#6f9eef 0.0%,#7687ee 2.2%,#709aef 4.4%,#6ba9ef 6.6%,#64c1ef 8.7%,#6da4ef 10.9%,#787ce8 13.1%,#7978e6 15.3%,#7978e6 17.5%,#7978e6 19.7%,#7197ef 21.9%,#69b0ef 24.0%,#6aadef 26.2%,#6f9def 28.4%,#6aacef 30.6%,#6f9def 32.8%,#7295ef 35.0%,#67b7ef 37.2%,#6aadef 39.3%,#7294ef 41.5%,#748fee 43.7%,#709cef 45.9%,#787be8 48.1%,#7783eb 50.3%,#63c7ee 52.5%,#66d7e4 54.6%,#6adadc 56.8%,#7be3be 59.0%,#a2e587 61.2%,#bde179 63.4%,#cbdf72 65.6%,#d1d371 67.8%,#c6e075 69.9%,#94e693 72.1%,#87e4a9 74.3%,#8de5a0 76.5%,#a9e483 78.7%,#a0e688 80.9%,#8ee59e 83.1%,#92e697 85.2%,#cadf73 87.4%,#ced972 89.6%,#d5ca71 91.8%,#dbbc70 94.0%,#bce27a 96.2%,#b3e37e 98.4%,#c0e178 100.0%)"></b>
<b style="background:linear-gradient(90deg,#ade481 0.0%,#91e698 2.2%,#8de59f 4.4%,#aee481 6.6%,#ddb770 8.7%,#d8c270 10.9%,#c6e075 13.1%,#bee179 15.3%,#dca672 17.5%,#c5837d 19.7%,#d8c270 21.9%,#cae073 24.0%,#c6e075 26.2%,#9fe688 28.4%,#9de689 30.6%,#9fe688 32.8%,#a7e584 35.0%,#b1e37f 37.2%,#b5e37d 39.3%,#d3cd71 41.5%,#c2e177 43.7%,#83e4b1 45.9%,#80e4b6 48.1%,#93e696 50.3%,#9be68a 52.5%,#b6e27d 54.6%,#ade481 56.8%,#c4e076 59.0%,#d08c79 61.2%,#d99e74 63.4%,#dca472 65.6%,#d69776 67.8%,#c8867c 69.9%,#d39078 72.1%,#dda772 74.3%,#dda672 76.5%,#dbbd70 78.7%,#d3ce71 80.9%,#dca472 83.1%,#dca472 85.2%,#d89b75 87.4%,#dea871 89.6%,#d4cb71 91.8%,#d0d572 94.0%,#dfab70 96.2%,#daa074 98.4%,#d5c971 100.0%)"></b>
<b style="background:linear-gradient(90deg,#63c4ef 0.0%,#6ca8ef 2.2%,#758bee 4.4%,#787fe9 6.6%,#758cee 8.7%,#7197ef 10.9%,#7294ef 13.1%,#64bfef 15.3%,#63d0ea 17.5%,#65beef 19.7%,#6baaef 21.9%,#63c7ed 24.0%,#63d5e8 26.2%,#66d8e3 28.4%,#71decf 30.6%,#72dece 32.8%,#7ce3bd 35.0%,#87e4aa 37.2%,#86e4ac 39.3%,#86e4ab 41.5%,#85e4ac 43.7%,#83e4b0 45.9%,#8ee59e 48.1%,#7de3bb 50.3%,#74dfca 52.5%,#78e1c4 54.6%,#7ee3b9 56.8%,#8ce5a2 59.0%,#9ee689 61.2%,#8be5a3 63.4%,#71ddd0 65.6%,#63d3e9 67.8%,#66d8e3 69.9%,#70ddd1 72.1%,#6adadb 74.3%,#63c3ef 76.5%,#66baef 78.7%,#74dfcb 80.9%,#89e5a6 83.1%,#6ad9dd 85.2%,#7296ef 87.4%,#66b9ef 89.6%,#6bdadb 91.8%,#63ccec 94.0%,#7ce3bd 96.2%,#7ee3b9 98.4%,#63d4e9 100.0%)"></b>
<b style="background:linear-gradient(90deg,#8ee59e 0.0%,#88e5a8 2.2%,#6edcd4 4.4%,#6bdada 6.6%,#63d5e8 8.7%,#6bdadb 10.9%,#78e1c3 13.1%,#7ee3b9 15.3%,#77e0c6 17.5%,#6ddbd8 19.7%,#66d7e3 21.9%,#6ddbd6 24.0%,#85e4ad 26.2%,#75e0c8 28.4%,#78e1c3 30.6%,#96e690 32.8%,#a5e585 35.0%,#cfd872 37.2%,#dabe70 39.3%,#cbdf72 41.5%,#b5e27d 43.7%,#ced872 45.9%,#cddd72 48.1%,#b8e27b 50.3%,#aee481 52.5%,#9ae68a 54.6%,#89e5a7 56.8%,#7ae2c1 59.0%,#6bdada 61.2%,#77e1c5 63.4%,#76e0c7 65.6%,#73dfcc 67.8%,#7fe3b7 69.9%,#65d7e5 72.1%,#64d6e7 74.3%,#73dfcc 76.5%,#63d5e8 78.7%,#63ccec 80.9%,#63d6e8 83.1%,#63d4e9 85.2%,#63ccec 87.4%,#75e0c9 89.6%,#7ae2c1 91.8%,#73decc 94.0%,#7ce3bc 96.2%,#95e692 98.4%,#9ce689 100.0%)"></b>
<b style="background:linear-gradient(90deg,#63ceeb 0.0%,#63c5ee 2.2%,#63c5ee 4.4%,#63d2e9 6.6%,#63cfeb 8.7%,#63caec 10.9%,#63d6e8 13.1%,#7ce3bc 15.3%,#70ddd2 17.5%,#6cdbd9 19.7%,#63c7ed 21.9%,#63c8ed 24.0%,#63d2e9 26.2%,#63c5ee 28.4%,#66b8ef 30.6%,#63cdeb 32.8%,#63cbec 35.0%,#67b7ef 37.2%,#68b4ef 39.3%,#6ca7ef 41.5%,#6ca7ef 43.7%,#6edcd6 45.9%,#79e2c2 48.1%,#71decf 50.3%,#92e696 52.5%,#b9e27b 54.6%,#c3e176 56.8%,#d5c971 59.0%,#deb470 61.2%,#d3cf71 63.4%,#b7e27c 65.6%,#b2e37e 67.8%,#ccde72 69.9%,#c7e075 72.1%,#c4e076 74.3%,#a8e483 76.5%,#b5e37d 78.7%,#ceda72 80.9%,#a1e587 83.1%,#99e78b 85.2%,#97e68e 87.4%,#91e698 89.6%,#98e68d 91.8%,#98e68d 94.0%,#8ee59d 96.2%,#a2e587 98.4%,#afe380 100.0%)"></b>
<b style="background:linear-gradient(90deg,#63d0ea 0.0%,#63c9ed 2.2%,#64c0ef 4.4%,#63caec 6.6%,#63c8ed 8.7%,#63d0ea 10.9%,#6edcd6 13.1%,#85e4ad 15.3%,#92e696 17.5%,#96e690 19.7%,#7ae2bf 21.9%,#82e4b2 24.0%,#75dfc9 26.2%,#63d4e9 28.4%,#67d8e2 30.6%,#6cdbd8 32.8%,#71decf 35.0%,#65d7e4 37.2%,#6bdada 39.3%,#8fe59b 41.5%,#7ee3ba 43.7%,#83e4b1 45.9%,#8ae5a4 48.1%,#86e4ac 50.3%,#90e69a 52.5%,#c5e075 54.6%,#d5c971 56.8%,#93e695 59.0%,#84e4ae 61.2%,#8ae5a4 63.4%,#8ce5a1 65.6%,#96e690 67.8%,#a6e585 69.9%,#a6e585 72.1%,#98e68d 74.3%,#98e78c 76.5%,#c9e073 78.7%,#dfab71 80.9%,#d3cf71 83.1%,#b3e37e 85.2%,#83e4b0 87.4%,#7de3ba 89.6%,#87e4aa 91.8%,#87e4aa 94.0%,#9ae68a 96.2%,#a1e687 98.4%,#9fe688 100.0%)"></b>
<b style="background:linear-gradient(90deg,#63ccec 0.0%,#66baef 2.2%,#7781ea 4.4%,#787be7 6.6%,#7685ed 8.7%,#6baaef 10.9%,#6ba9ef 13.1%,#66baef 15.3%,#64d6e7 17.5%,#81e4b4 19.7%,#7fe3b7 21.9%,#7be3be 24.0%,#73dfcc 26.2%,#77e1c5 28.4%,#8ee59d 30.6%,#9ae68a 32.8%,#9ae68a 35.0%,#96e690 37.2%,#92e696 39.3%,#b2e37e 41.5%,#9ee688 43.7%,#85e4ad 45.9%,#8ae5a4 48.1%,#7ee3b8 50.3%,#64d6e7 52.5%,#63d4e9 54.6%,#63d5e8 56.8%,#6f9fef 59.0%,#69b1ef 61.2%,#7ce3bd 63.4%,#7fe3b8 65.6%,#79e2c1 67.8%,#89e5a6 69.9%,#c7e074 72.1%,#d6c771 74.3%,#cddc72 76.5%,#d69676 78.7%,#c4827d 80.9%,#d89c75 83.1%,#da9f74 85.2%,#d89b75 87.4%,#da9f74 89.6%,#d59477 91.8%,#d28e78 94.0%,#e0ad70 96.2%,#daa173 98.4%,#d99e74 100.0%)"></b>
<b style="background:linear-gradient(90deg,#8be5a3 0.0%,#7ae2bf 2.2%,#89e5a7 4.4%,#a1e587 6.6%,#96e691 8.7%,#83e4b1 10.9%,#7ee3ba 13.1%,#a8e484 15.3%,#b4e37e 17.5%,#b9e27b 19.7%,#9ee689 21.9%,#83e4b0 24.0%,#8de5a0 26.2%,#a9e483 28.4%,#9ee689 30.6%,#85e4ae 32.8%,#87e4aa 35.0%,#86e4ab 37.2%,#b2e37e 39.3%,#96e690 41.5%,#7be3bf 43.7%,#75e0c9 45.9%,#87e4a9 48.1%,#98e78c 50.3%,#a3e586 52.5%,#89e5a6 54.6%,#80e4b6 56.8%,#81e4b4 59.0%,#afe380 61.2%,#d4cd71 63.4%,#92e696 65.6%,#79e2c2 67.8%,#7ce3bd 69.9%,#8be5a2 72.1%,#9be68a 74.3%,#a6e585 76.5%,#bee179 78.7%,#9de689 80.9%,#9fe688 83.1%,#c2e177 85.2%,#d1d271 87.4%,#d2d171 89.6%,#b8e27c 91.8%,#94e694 94.0%,#8ce5a2 96.2%,#8ae5a5 98.4%,#87e4aa 100.0%)"></b>
<b style="background:linear-gradient(90deg,#95e691 0.0%,#ace481 2.2%,#a0e687 4.4%,#93e696 6.6%,#7ce3bc 8.7%,#6fdcd4 10.9%,#63cfea 13.1%,#65d7e5 15.3%,#6bdadb 17.5%,#63c8ed 19.7%,#68b2ef 21.9%,#63d5e8 24.0%,#66d7e3 26.2%,#63cdeb 28.4%,#63c9ed 30.6%,#63c3ef 32.8%,#63c5ee 35.0%,#63cceb 37.2%,#64d6e7 39.3%,#63d2e9 41.5%,#63ceeb 43.7%,#6aadef 45.9%,#6ca6ef 48.1%,#64c1ef 50.3%,#63d1ea 52.5%,#63d1ea 54.6%,#63c8ed 56.8%,#63cbec 59.0%,#63d1ea 61.2%,#63cfea 63.4%,#63d1ea 65.6%,#70ddd1 67.8%,#6edcd6 69.9%,#63c5ee 72.1%,#63c7ed 74.3%,#63cfea 76.5%,#6ddbd8 78.7%,#89e5a7 80.9%,#93e696 83.1%,#93e696 85.2%,#8ee59e 87.4%,#98e78c 89.6%,#ade481 91.8%,#b5e37d 94.0%,#ccde72 96.2%,#c4e076 98.4%,#b0e380 100.0%)"></b>
<b style="background:linear-gradient(90deg,#63c8ed 0.0%,#63cdeb 2.2%,#68d8e0 4.4%,#65d7e6 6.6%,#63caec 8.7%,#63caec 10.9%,#64d7e6 13.1%,#67d8e2 15.3%,#63d1ea 17.5%,#63ceeb 19.7%,#68b5ef 21.9%,#63c3ef 24.0%,#6cdbd9 26.2%,#80e4b5 28.4%,#7ee3ba 30.6%,#7ce3bc 32.8%,#77e1c5 35.0%,#7be3be 37.2%,#7de3ba 39.3%,#89e5a6 41.5%,#aae483 43.7%,#99e78b 45.9%,#8be5a3 48.1%,#80e3b6 50.3%,#77e0c6 52.5%,#76e0c7 54.6%,#82e4b2 56.8%,#7fe3b8 59.0%,#70ddd1 61.2%,#73dfcc 63.4%,#81e4b4 65.6%,#8ee59e 67.8%,#98e78c 69.9%,#a5e585 72.1%,#84e4af 74.3%,#63d5e8 76.5%,#64c1ef 78.7%,#6da6ef 80.9%,#63c2ef 83.1%,#709cef 85.2%,#63c4ee 87.4%,#63d2e9 89.6%,#66d8e3 91.8%,#77e1c5 94.0%,#8be5a3 96.2%,#7fe3b7 98.4%,#66d8e3 100.0%)"></b>
<b style="background:linear-gradient(90deg,#6ca6ef 0.0%,#6ca8ef 2.2%,#63ceeb 4.4%,#63ceeb 6.6%,#63cbec 8.7%,#63caec 10.9%,#63c9ed 13.1%,#63caec 15.3%,#65d7e5 17.5%,#63ccec 19.7%,#63c4ef 21.9%,#65d7e5 24.0%,#65d7e6 26.2%,#66d7e3 28.4%,#70ddd2 30.6%,#7ae2c0 32.8%,#81e4b4 35.0%,#8fe59c 37.2%,#7ae2bf 39.3%,#77e0c6 41.5%,#83e4b1 43.7%,#90e69a 45.9%,#aee380 48.1%,#a9e483 50.3%,#8fe59c 52.5%,#c6e075 54.6%,#dfac70 56.8%,#dcb970 59.0%,#d4cc71 61.2%,#cddb72 63.4%,#cbdf72 65.6%,#a8e484 67.8%,#a4e585 69.9%,#c7e075 72.1%,#c4e076 74.3%,#ccdd72 76.5%,#d8c270 78.7%,#9ae68b 80.9%,#73decd 83.1%,#63cfeb 85.2%,#66baef 87.4%,#758cee 89.6%,#6ca7ef 91.8%,#66bbef 94.0%,#63c7ed 96.2%,#63d4e9 98.4%,#63cdeb 100.0%)"></b>
<b style="background:linear-gradient(90deg,#65bdef 0.0%,#63c9ed 2.2%,#6ddbd6 4.4%,#73decd 6.6%,#7de3bc 8.7%,#84e4ae 10.9%,#94e694 13.1%,#97e68e 15.3%,#94e693 17.5%,#8ae5a4 19.7%,#80e4b6 21.9%,#8ee59e 24.0%,#75e0c9 26.2%,#63d4e9 28.4%,#63d2e9 30.6%,#73decd 32.8%,#7fe3b7 35.0%,#6fdcd4 37.2%,#6edcd5 39.3%,#79e2c1 41.5%,#88e5a8 43.7%,#86e4ac 45.9%,#7ee3b9 48.1%,#7de3bb 50.3%,#7ee3b9 52.5%,#8ee59e 54.6%,#8ce5a0 56.8%,#81e4b5 59.0%,#72dece 61.2%,#63d5e8 63.4%,#63caec 65.6%,#66d8e3 67.8%,#82e4b2 69.9%,#71ddd0 72.1%,#6fdcd4 74.3%,#86e4ac 76.5%,#c3e176 78.7%,#d0d572 80.9%,#91e699 83.1%,#7be3bf 85.2%,#83e4b0 87.4%,#7ae2c0 89.6%,#72decf 91.8%,#7fe3b8 94.0%,#96e690 96.2%,#92e696 98.4%,#87e4a9 100.0%)"></b>
<b style="background:linear-gradient(90deg,#97e68d 0.0%,#91e699 2.2%,#8de59f 4.4%,#a0e688 6.6%,#b5e37d 8.7%,#93e695 10.9%,#86e4ac 13.1%,#82e4b3 15.3%,#80e4b5 17.5%,#88e5a8 19.7%,#89e5a7 21.9%,#88e5a8 24.0%,#7be3be 26.2%,#77e1c5 28.4%,#70ddd1 30.6%,#7ae2c0 32.8%,#89e5a7 35.0%,#7ce3bd 37.2%,#70ddd2 39.3%,#67d8e2 41.5%,#75e0c8 43.7%,#7de3bb 45.9%,#86e4ab 48.1%,#86e4ac 50.3%,#78e1c4 52.5%,#73decd 54.6%,#79e1c2 56.8%,#73dfcc 59.0%,#63c6ee 61.2%,#66baef 63.4%,#63ceeb 65.6%,#69d9de 67.8%,#82e4b2 69.9%,#7de3ba 72.1%,#63d0ea 74.3%,#69d9de 76.5%,#a0e687 78.7%,#cfd772 80.9%,#c5e075 83.1%,#d0d672 85.2%,#bce27a 87.4%,#9ae68a 89.6%,#97e68f 91.8%,#a0e688 94.0%,#b2e37f 96.2%,#9ae68a 98.4%,#7ae2c0 100.0%)"></b>
<b style="background:linear-gradient(90deg,#73dfcc 0.0%,#77e1c4 2.2%,#7be3be 4.4%,#86e4ab 6.6%,#89e5a7 8.7%,#7ee3b9 10.9%,#6fdcd4 13.1%,#7ce3bc 15.3%,#bde179 17.5%,#dda871 19.7%,#d99d74 21.9%,#dba273 24.0%,#deb570 26.2%,#ced972 28.4%,#bde179 30.6%,#bae27b 32.8%,#98e78c 35.0%,#98e78c 37.2%,#dda772 39.3%,#dea971 41.5%,#90e69a 43.7%,#ade481 45.9%,#d4cc71 48.1%,#d89b75 50.3%,#cb887b 52.5%,#d18d79 54.6%,#d99f74 56.8%,#d69676 59.0%,#d79a75 61.2%,#d4cc71 63.4%,#cddb72 65.6%,#c6e075 67.8%,#c8e074 69.9%,#a9e483 72.1%,#97e68f 74.3%,#8be5a3 76.5%,#94e693 78.7%,#c7e074 80.9%,#98e68d 83.1%,#b1e37f 85.2%,#bbe27a 87.4%,#c7e074 89.6%,#bbe27a 91.8%,#aee481 94.0%,#bfe178 96.2%,#afe380 98.4%,#98e78c 100.0%)"></b>
<b style="background:linear-gradient(90deg,#6bdada 0.0%,#7ee3b9 2.2%,#8de59e 4.4%,#90e69a 6.6%,#88e5a8 8.7%,#a5e585 10.9%,#c2e177 13.1%,#d4cc71 15.3%,#d79976 17.5%,#d9c170 19.7%,#d7c671 21.9%,#deb670 24.0%,#dbbd70 26.2%,#d8c371 28.4%,#dcba70 30.6%,#d99f74 32.8%,#dcba70 35.0%,#cbdf72 37.2%,#d5c971 39.3%,#d59576 41.5%,#dda871 43.7%,#d59477 45.9%,#d99d74 48.1%,#bf7f7e 50.3%,#b47682 52.5%,#b47682 54.6%,#b47682 56.8%,#b47682 59.0%,#c3827d 61.2%,#c5847d 63.4%,#ba7b80 65.6%,#c5847d 67.8%,#daa073 69.9%,#dba273 72.1%,#ce8a7a 74.3%,#d59477 76.5%,#d08c79 78.7%,#bd7d7f 80.9%,#d69776 83.1%,#d59477 85.2%,#d18d79 87.4%,#d69776 89.6%,#deab71 91.8%,#d99d74 94.0%,#d7c471 96.2%,#d0d672 98.4%,#dbbc70 100.0%)"></b>
<b style="background:linear-gradient(90deg,#b5e37d 0.0%,#ceda72 2.2%,#d8c270 4.4%,#ace481 6.6%,#95e691 8.7%,#a8e483 10.9%,#bfe178 13.1%,#bae27b 15.3%,#b0e37f 17.5%,#96e690 19.7%,#abe482 21.9%,#c8e074 24.0%,#b6e27d 26.2%,#d4cc71 28.4%,#dca672 30.6%,#d89b75 32.8%,#cd897a 35.0%,#d99f74 37.2%,#dba273 39.3%,#d38f78 41.5%,#dfab71 43.7%,#c0e178 45.9%,#9ae68a 48.1%,#abe482 50.3%,#b9e27b 52.5%,#d1d471 54.6%,#c8e074 56.8%,#cadf73 59.0%,#dbbc70 61.2%,#dca572 63.4%,#d28f78 65.6%,#d49277 67.8%,#d89c75 69.9%,#d49377 72.1%,#c4837d 74.3%,#c2817e 76.5%,#b47682 78.7%,#b47682 80.9%,#b47682 83.1%,#b47682 85.2%,#c5847c 87.4%,#c5847d 89.6%,#bc7c7f 91.8%,#d08c79 94.0%,#dda672 96.2%,#d2d171 98.4%,#ceda72 100.0%)"></b>
<b style="background:linear-gradient(90deg,#63ceeb 0.0%,#63c6ee 2.2%,#63d4e9 4.4%,#67d8e2 6.6%,#81e4b4 8.7%,#81e4b4 10.9%,#70ddd1 13.1%,#69d9de 15.3%,#63ccec 17.5%,#69d9de 19.7%,#6fdcd3 21.9%,#67d8e2 24.0%,#67d8e2 26.2%,#7fe3b7 28.4%,#83e4b1 30.6%,#7fe3b8 32.8%,#72decd 35.0%,#6adadc 37.2%,#71ddd0 39.3%,#8ae5a4 41.5%,#85e4ae 43.7%,#77e1c5 45.9%,#65d7e5 48.1%,#63cfeb 50.3%,#63caec 52.5%,#6fdcd3 54.6%,#90e69a 56.8%,#7fe3b7 59.0%,#75dfc9 61.2%,#8de5a0 63.4%,#b0e380 65.6%,#dda871 67.8%,#ddb870 69.9%,#bee179 72.1%,#a7e584 74.3%,#b9e27b 76.5%,#deaa71 78.7%,#cddb72 80.9%,#d8c371 83.1%,#e0ae70 85.2%,#a1e587 87.4%,#8be5a3 89.6%,#8ce5a1 91.8%,#84e4af 94.0%,#95e692 96.2%,#b8e27c 98.4%,#a8e483 100.0%)"></b>
<b style="background:linear-gradient(90deg,#bae27b 0.0%,#9ce689 2.2%,#89e5a5 4.4%,#7de3ba 6.6%,#89e5a5 8.7%,#87e4a9 10.9%,#7fe3b8 13.1%,#76e0c8 15.3%,#7de3bc 17.5%,#88e5a7 19.7%,#81e4b4 21.9%,#79e2c1 24.0%,#7fe3b8 26.2%,#96e68f 28.4%,#95e692 30.6%,#8ce5a1 32.8%,#8de59f 35.0%,#ade481 37.2%,#d69776 39.3%,#c3827d 41.5%,#c0e178 43.7%,#98e78c 45.9%,#8ae5a5 48.1%,#7be3be 50.3%,#71decf 52.5%,#7be3bd 54.6%,#90e69a 56.8%,#8ce5a0 59.0%,#9ce689 61.2%,#88e5a8 63.4%,#81e4b4 65.6%,#87e4aa 67.8%,#80e4b5 69.9%,#7be3be 72.1%,#7ce3bd 74.3%,#68d9e0 76.5%,#67b7ef 78.7%,#6adadd 80.9%,#6ddbd8 83.1%,#63c6ee 85.2%,#63ceeb 87.4%,#76e0c8 89.6%,#74dfca 91.8%,#79e2c2 94.0%,#7ee3b9 96.2%,#84e4af 98.4%,#8fe59c 100.0%)"></b>
<b style="background:linear-gradient(90deg,#7fe3b8 0.0%,#79e2c2 2.2%,#6ddbd8 4.4%,#73decd 6.6%,#97e68e 8.7%,#b0e380 10.9%,#a7e584 13.1%,#9de689 15.3%,#a9e483 17.5%,#ced872 19.7%,#d9c070 21.9%,#cfd672 24.0%,#ced972 26.2%,#bae27b 28.4%,#9ee688 30.6%,#bee179 32.8%,#dfb370 35.0%,#deb670 37.2%,#d89c75 39.3%,#d8c371 41.5%,#c3e076 43.7%,#dbbb70 45.9%,#ccde72 48.1%,#a9e483 50.3%,#bee179 52.5%,#cddc72 54.6%,#d9c170 56.8%,#e0af6f 59.0%,#d9c170 61.2%,#cddb72 63.4%,#b3e37e 65.6%,#a6e585 67.8%,#83e4b1 69.9%,#76e0c7 72.1%,#7ce3bc 74.3%,#85e4ad 76.5%,#7de3bb 78.7%,#88e5a8 80.9%,#8fe59c 83.1%,#9ee689 85.2%,#d3cd71 87.4%,#d89b75 89.6%,#c1807e 91.8%,#be7e7f 94.0%,#c4827d 96.2%,#b57782 98.4%,#b47682 100.0%)"></b>
<b style="background:linear-gradient(90deg,#7978e6 0.0%,#7978e6 2.2%,#7978e6 4.4%,#787ae7 6.6%,#7782eb 8.7%,#7781ea 10.9%,#787ae7 13.1%,#7978e6 15.3%,#7978e6 17.5%,#7978e6 19.7%,#7783ec 21.9%,#787ee9 24.0%,#7978e6 26.2%,#7978e6 28.4%,#7978e6 30.6%,#7688ee 32.8%,#64c0ef 35.0%,#63c8ed 37.2%,#63c8ed 39.3%,#65d7e6 41.5%,#78e1c4 43.7%,#64d6e7 45.9%,#63d3e9 48.1%,#6fdcd4 50.3%,#63d1ea 52.5%,#63c6ee 54.6%,#6ca7ef 56.8%,#7295ef 59.0%,#6da3ef 61.2%,#64c0ef 63.4%,#67b6ef 65.6%,#66baef 67.8%,#69b0ef 69.9%,#787de9 72.1%,#7295ef 74.3%,#63d5e8 76.5%,#65d7e6 78.7%,#7ae2c1 80.9%,#85e4ac 83.1%,#81e4b4 85.2%,#8de59f 87.4%,#b9e27b 89.6%,#b2e37f 91.8%,#98e68d 94.0%,#92e698 96.2%,#99e78b 98.4%,#a0e688 100.0%)"></b>
<b style="background:linear-gradient(90deg,#7879e7 0.0%,#748dee 2.2%,#7295ef 4.4%,#7780ea 6.6%,#7978e6 8.7%,#7978e6 10.9%,#7978e6 13.1%,#7978e6 15.3%,#7978e6 17.5%,#7978e6 19.7%,#787de9 21.9%,#7978e6 24.0%,#7686ed 26.2%,#63c3ef 28.4%,#63caec 30.6%,#7294ef 32.8%,#65bcef 35.0%,#64d7e6 37.2%,#7be3bf 39.3%,#71ddd0 41.5%,#6fdcd4 43.7%,#63d0ea 45.9%,#63cbec 48.1%,#72dece 50.3%,#73decd 52.5%,#63d2e9 54.6%,#72dece 56.8%,#87e4aa 59.0%,#6fdcd4 61.2%,#63c3ef 63.4%,#68b2ef 65.6%,#63d1ea 67.8%,#73decd 69.9%,#67d8e1 72.1%,#71ddd0 74.3%,#75e0c9 76.5%,#63d6e8 78.7%,#72dece 80.9%,#76e0c7 83.1%,#81e4b4 85.2%,#92e696 87.4%,#98e78d 89.6%,#80e4b5 91.8%,#70ddd2 94.0%,#8be5a2 96.2%,#a5e585 98.4%,#99e78b 100.0%)"></b>
<b style="background:linear-gradient(90deg,#7392ef 0.0%,#6f9fef 2.2%,#63c9ed 4.4%,#64bfef 6.6%,#7296ef 8.7%,#787be7 10.9%,#787ce8 13.1%,#7784ec 15.3%,#7782eb 17.5%,#63c3ef 19.7%,#6cdbd9 21.9%,#63c6ee 24.0%,#63d3e9 26.2%,#69d9de 28.4%,#67d8e1 30.6%,#63d2e9 32.8%,#6ddbd7 35.0%,#77e1c5 37.2%,#66d8e3 39.3%,#63ceeb 41.5%,#76e0c6 43.7%,#72dece 45.9%,#75dfc9 48.1%,#85e4ad 50.3%,#84e4af 52.5%,#8be5a3 54.6%,#6cdada 56.8%,#90e59b 59.0%,#ccde72 61.2%,#b7e27c 63.4%,#93e696 65.6%,#94e693 67.8%,#b0e37f 69.9%,#d3cf71 72.1%,#d89d74 74.3%,#dfb270 76.5%,#ddb870 78.7%,#d28f78 80.9%,#c5847d 83.1%,#b57781 85.2%,#b47682 87.4%,#b47682 89.6%,#b47682 91.8%,#b47682 94.0%,#b47682 96.2%,#b47682 98.4%,#b47682 100.0%)"></b>
<b style="background:linear-gradient(90deg,#7be3bf 0.0%,#7fe3b7 2.2%,#95e692 4.4%,#b6e27d 6.6%,#a3e586 8.7%,#8fe59c 10.9%,#a9e483 13.1%,#dcbb70 15.3%,#dda871 17.5%,#d79975 19.7%,#ce8a7a 21.9%,#dcb970 24.0%,#d3cf71 26.2%,#d3cf71 28.4%,#d6c871 30.6%,#d6c771 32.8%,#deb570 35.0%,#deb570 37.2%,#d99d74 39.3%,#d39178 41.5%,#c1807e 43.7%,#c5847d 45.9%,#ca877b 48.1%,#bf7f7e 50.3%,#bc7c7f 52.5%,#b47682 54.6%,#b47682 56.8%,#bc7c7f 59.0%,#bf7f7f 61.2%,#be7e7f 63.4%,#c8857c 65.6%,#be7e7f 67.8%,#b77981 69.9%,#b77981 72.1%,#b47682 74.3%,#b97a81 76.5%,#c7857c 78.7%,#c1807e 80.9%,#d69876 83.1%,#dcb970 85.2%,#d0d472 87.4%,#c2e177 89.6%,#dabf70 91.8%,#ce8a7a 94.0%,#d59477 96.2%,#c7e075 98.4%,#c1e177 100.0%)"></b>
<b style="background:linear-gradient(90deg,#7de3ba 0.0%,#66d7e3 2.2%,#63ccec 4.4%,#63cfea 6.6%,#6ba9ef 8.7%,#63c2ef 10.9%,#63c4ee 13.1%,#63c4ee 15.3%,#65bdef 17.5%,#6baaef 19.7%,#787ce8 21.9%,#7978e6 24.0%,#7978e6 26.2%,#7781eb 28.4%,#6f9def 30.6%,#63c9ed 32.8%,#63cdeb 35.0%,#69afef 37.2%,#6aadef 39.3%,#68b4ef 41.5%,#63ceeb 43.7%,#63c5ee 45.9%,#63ceeb 48.1%,#63d5e8 50.3%,#63c9ed 52.5%,#6edcd6 54.6%,#7fe3b7 56.8%,#8ce5a2 59.0%,#97e68e 61.2%,#a0e687 63.4%,#a7e584 65.6%,#bee179 67.8%,#cddc72 69.9%,#c9e074 72.1%,#b1e37f 74.3%,#b5e37d 76.5%,#cfd872 78.7%,#c8e074 80.9%,#ccdd72 83.1%,#d7c671 85.2%,#c4e076 87.4%,#a7e584 89.6%,#9ae68a 91.8%,#8ce5a1 94.0%,#79e2c2 96.2%,#63ceeb 98.4%,#67d8e2 100.0%)"></b>
<b style="background:linear-gradient(90deg,#8de59f 0.0%,#8be5a2 2.2%,#82e4b2 4.4%,#7ae2c0 6.6%,#75dfca 8.7%,#7ae2c0 10.9%,#7ee3b9 13.1%,#93e695 15.3%,#92e696 17.5%,#92e697 19.7%,#a9e483 21.9%,#8ce5a1 24.0%,#8fe59d 26.2%,#8ee59e 28.4%,#88e5a8 30.6%,#93e695 32.8%,#8fe59c 35.0%,#8fe59d 37.2%,#8be5a3 39.3%,#7be3bf 41.5%,#66d7e4 43.7%,#69d9de 45.9%,#6bdada 48.1%,#63c9ed 50.3%,#63cfeb 52.5%,#63ceeb 54.6%,#63d4e9 56.8%,#77e1c5 59.0%,#a8e483 61.2%,#c6e075 63.4%,#b7e27c 65.6%,#a4e586 67.8%,#94e694 69.9%,#94e693 72.1%,#88e5a7 74.3%,#7fe3b7 76.5%,#85e4ac 78.7%,#73dfcc 80.9%,#72dece 83.1%,#63d2e9 85.2%,#69b2ef 87.4%,#709cef 89.6%,#66bbef 91.8%,#6f9def 94.0%,#787ae7 96.2%,#7781ea 98.4%,#758aee 100.0%)"></b>
<b style="background:linear-gradient(90deg,#64bfef 0.0%,#63caec 2.2%,#63c5ee 4.4%,#63caec 6.6%,#63caec 8.7%,#64c0ef 10.9%,#6aaeef 13.1%,#66baef 15.3%,#63c5ee 17.5%,#63ceeb 19.7%,#63d3e9 21.9%,#7be3be 24.0%,#68d9df 26.2%,#66baef 28.4%,#6ba9ef 30.6%,#63c6ee 32.8%,#6bdada 35.0%,#63cfeb 37.2%,#7780ea 39.3%,#7978e6 41.5%,#787de9 43.7%,#7688ee 45.9%,#63cceb 48.1%,#6aacef 50.3%,#787fe9 52.5%,#7785ec 54.6%,#7978e6 56.8%,#7978e6 59.0%,#63c5ee 61.2%,#6ad9dd 63.4%,#63caec 65.6%,#66bbef 67.8%,#63d6e8 69.9%,#63c5ee 72.1%,#6ca8ef 74.3%,#758cee 76.5%,#787ce8 78.7%,#7978e6 80.9%,#7978e6 83.1%,#7978e6 85.2%,#7978e6 87.4%,#7978e6 89.6%,#7978e6 91.8%,#7978e6 94.0%,#7978e6 96.2%,#7978e6 98.4%,#7978e6 100.0%)"></b>
<b style="background:linear-gradient(90deg,#63d2e9 0.0%,#63d3e9 2.2%,#63d1ea 4.4%,#63c6ee 6.6%,#63d0ea 8.7%,#63d1ea 10.9%,#63c7ed 13.1%,#63cdeb 15.3%,#63d6e8 17.5%,#70ddd1 19.7%,#7ae2bf 21.9%,#63d5e8 24.0%,#67b7ef 26.2%,#63ccec 28.4%,#63c4ef 30.6%,#63d4e9 32.8%,#86e4ab 35.0%,#7be3be 37.2%,#64d6e8 39.3%,#94e693 41.5%,#b2e37e 43.7%,#a7e584 45.9%,#7de3ba 48.1%,#78e1c3 50.3%,#98e78c 52.5%,#96e690 54.6%,#b0e380 56.8%,#7be3be 59.0%,#6ddbd8 61.2%,#76e0c7 63.4%,#68d9e0 65.6%,#63d6e8 67.8%,#69d9de 69.9%,#71ddd1 72.1%,#70ddd2 74.3%,#74dfca 76.5%,#64d7e6 78.7%,#63cdeb 80.9%,#6babef 83.1%,#7978e6 85.2%,#7978e6 87.4%,#63c3ef 89.6%,#70ddd3 91.8%,#76e0c7 94.0%,#7fe3b8 96.2%,#80e4b6 98.4%,#7de3bb 100.0%)"></b>
<b style="background:linear-gradient(90deg,#7978e6 0.0%,#7978e6 2.2%,#7978e6 4.4%,#7879e6 6.6%,#7978e6 8.7%,#7978e6 10.9%,#748eee 13.1%,#6babef 15.3%,#67b7ef 17.5%,#6aadef 19.7%,#66baef 21.9%,#63ceeb 24.0%,#63cbec 26.2%,#7689ee 28.4%,#709cef 30.6%,#68b4ef 32.8%,#7199ef 35.0%,#787de9 37.2%,#7978e6 39.3%,#7978e6 41.5%,#7978e6 43.7%,#787fe9 45.9%,#787be7 48.1%,#7782eb 50.3%,#6ca8ef 52.5%,#6babef 54.6%,#6da3ef 56.8%,#7294ef 59.0%,#68b5ef 61.2%,#69b1ef 63.4%,#63d5e8 65.6%,#71ddd1 67.8%,#63d4e9 69.9%,#66d7e4 72.1%,#63cbec 74.3%,#7391ee 76.5%,#6baaef 78.7%,#7686ed 80.9%,#7782eb 83.1%,#63caec 85.2%,#63c5ee 87.4%,#63cfea 89.6%,#77e1c6 91.8%,#71ddd0 94.0%,#98e78c 96.2%,#ceda72 98.4%,#ccde72 100.0%)"></b>
<b style="background:linear-gradient(90deg,#68d9df 0.0%,#6adadc 2.2%,#67d8e1 4.4%,#6ddbd8 6.6%,#74dfcb 8.7%,#95e692 10.9%,#a7e584 13.1%,#92e696 15.3%,#85e4ac 17.5%,#68d8e0 19.7%,#6ad9dd 21.9%,#7ee3b9 24.0%,#79e1c2 26.2%,#69d9df 28.4%,#76e0c8 30.6%,#7ce3bd 32.8%,#68d8e0 35.0%,#63cdeb 37.2%,#63d2e9 39.3%,#73dfcc 41.5%,#63c8ed 43.7%,#7ae2c0 45.9%,#8fe59c 48.1%,#8fe59d 50.3%,#a7e584 52.5%,#9fe688 54.6%,#91e698 56.8%,#93e696 59.0%,#97e68e 61.2%,#99e78b 63.4%,#aee480 65.6%,#aae483 67.8%,#b1e37f 69.9%,#b5e37d 72.1%,#b8e27b 74.3%,#98e78c 76.5%,#8de59f 78.7%,#8de5a0 80.9%,#afe380 83.1%,#a6e585 85.2%,#7de3bc 87.4%,#81e4b4 89.6%,#a4e585 91.8%,#abe482 94.0%,#c9e073 96.2%,#cfd672 98.4%,#cbdf73 100.0%)"></b>
<b style="background:linear-gradient(90deg,#8be5a2 0.0%,#79e2c2 2.2%,#7fe3b7 4.4%,#8de59f 6.6%,#96e690 8.7%,#b8e27c 10.9%,#bae27b 13.1%,#d8c270 15.3%,#d7c671 17.5%,#a2e587 19.7%,#90e69a 21.9%,#96e690 24.0%,#b2e37f 26.2%,#d0d572 28.4%,#d1d271 30.6%,#9ee689 32.8%,#8ee59e 35.0%,#95e691 37.2%,#abe482 39.3%,#96e690 41.5%,#79e2c2 43.7%,#8ae5a5 45.9%,#6fdcd4 48.1%,#66b9ef 50.3%,#68d9df 52.5%,#7ce3bc 54.6%,#76e0c7 56.8%,#63d5e8 59.0%,#70ddd2 61.2%,#72dece 63.4%,#89e5a7 65.6%,#89e5a6 67.8%,#82e4b1 69.9%,#92e696 72.1%,#92e696 74.3%,#b5e37d 76.5%,#ceda72 78.7%,#c5e075 80.9%,#cf8b79 83.1%,#d38f78 85.2%,#ceda72 87.4%,#98e68d 89.6%,#a7e584 91.8%,#bce27a 94.0%,#ace481 96.2%,#88e5a8 98.4%,#83e4b0 100.0%)"></b>
<b style="background:linear-gradient(90deg,#abe482 0.0%,#8ce5a2 2.2%,#71ddd0 4.4%,#77e1c5 6.6%,#86e4ac 8.7%,#9de689 10.9%,#91e699 13.1%,#7ae2c1 15.3%,#75e0c8 17.5%,#68d8e0 19.7%,#75e0c8 21.9%,#87e4a9 24.0%,#96e690 26.2%,#aae482 28.4%,#ace482 30.6%,#88e5a8 32.8%,#7ee3b9 35.0%,#a8e483 37.2%,#d99e74 39.3%,#dca473 41.5%,#d2d071 43.7%,#b1e37f 45.9%,#9ce68a 48.1%,#90e69a 50.3%,#95e691 52.5%,#78e1c3 54.6%,#73dfcc 56.8%,#7de3bb 59.0%,#75dfc9 61.2%,#74dfca 63.4%,#7fe3b7 65.6%,#90e69a 67.8%,#98e78c 69.9%,#92e697 72.1%,#7fe3b7 74.3%,#78e1c3 76.5%,#8de5a0 78.7%,#b2e37f 80.9%,#d59477 83.1%,#bb7c80 85.2%,#d79976 87.4%,#d99d74 89.6%,#dea871 91.8%,#cddb72 94.0%,#bae27b 96.2%,#b0e380 98.4%,#b0e380 100.0%)"></b>
<b style="background:linear-gradient(90deg,#ddb770 0.0%,#dcba70 2.2%,#b8e27c 4.4%,#d1d371 6.6%,#dfb270 8.7%,#d8c270 10.9%,#dda672 13.1%,#e0b170 15.3%,#dfb470 17.5%,#98e78c 19.7%,#97e68e 21.9%,#94e694 24.0%,#ace481 26.2%,#dba473 28.4%,#d28d79 30.6%,#dda772 32.8%,#d3cd71 35.0%,#d49377 37.2%,#b47682 39.3%,#d59576 41.5%,#cd8a7a 43.7%,#dba273 45.9%,#d6c871 48.1%,#d9c170 50.3%,#d3cd71 52.5%,#d7c571 54.6%,#d28e78 56.8%,#dca572 59.0%,#cfd772 61.2%,#d4cc71 63.4%,#d8c270 65.6%,#dda871 67.8%,#d99f74 69.9%,#d1d271 72.1%,#d3cd71 74.3%,#cfd872 76.5%,#c1e177 78.7%,#bde179 80.9%,#deb570 83.1%,#d99d74 85.2%,#deb470 87.4%,#d7c571 89.6%,#bde179 91.8%,#b1e37f 94.0%,#cddb72 96.2%,#d4cc71 98.4%,#d7c671 100.0%)"></b>
<b style="background:linear-gradient(90deg,#b7e27c 0.0%,#81e4b3 2.2%,#77e1c5 4.4%,#78e1c4 6.6%,#7fe3b7 8.7%,#72dece 10.9%,#63d5e8 13.1%,#64d6e8 15.3%,#69d9de 17.5%,#6edcd6 19.7%,#73decd 21.9%,#76e0c8 24.0%,#8ae5a5 26.2%,#89e5a6 28.4%,#8ee59d 30.6%,#84e4af 32.8%,#89e5a6 35.0%,#91e699 37.2%,#84e4af 39.3%,#a0e688 41.5%,#bde179 43.7%,#c4e076 45.9%,#c2e177 48.1%,#a5e585 50.3%,#a4e586 52.5%,#d0d572 54.6%,#d6c771 56.8%,#bae27b 59.0%,#88e5a7 61.2%,#73decd 63.4%,#95e692 65.6%,#93e695 67.8%,#84e4af 69.9%,#97e68e 72.1%,#dabe70 74.3%,#e0ae70 76.5%,#e0b06f 78.7%,#dda672 80.9%,#d39178 83.1%,#dfab71 85.2%,#ddb770 87.4%,#da9f74 89.6%,#e0b170 91.8%,#dcb970 94.0%,#c5847d 96.2%,#c4827d 98.4%,#d49377 100.0%)"></b>
<b style="background:linear-gradient(90deg,#7ae2c0 0.0%,#6cdbd8 2.2%,#68d8e0 4.4%,#63d3e9 6.6%,#63c4ef 8.7%,#64c0ef 10.9%,#63ccec 13.1%,#65d7e5 15.3%,#83e4b1 17.5%,#85e4ac 19.7%,#65d7e5 21.9%,#63ceeb 24.0%,#63c8ed 26.2%,#63c8ed 28.4%,#63ceeb 30.6%,#63d2ea 32.8%,#67b7ef 35.0%,#63c9ed 37.2%,#a2e587 39.3%,#a4e586 41.5%,#9ae68a 43.7%,#a4e585 45.9%,#a9e483 48.1%,#b1e37f 50.3%,#aae482 52.5%,#b1e37f 54.6%,#dfac70 56.8%,#cd8a7a 59.0%,#d4cc71 61.2%,#dea971 63.4%,#d28e78 65.6%,#d9c170 67.8%,#c4e076 69.9%,#ccde72 72.1%,#dbbc70 74.3%,#dfb470 76.5%,#d8c371 78.7%,#d9c070 80.9%,#d4cc71 83.1%,#b8e27c 85.2%,#c1e177 87.4%,#dcb970 89.6%,#dabd70 91.8%,#c5e075 94.0%,#afe380 96.2%,#a4e585 98.4%,#9ee688 100.0%)"></b>
<b style="background:linear-gradient(90deg,#9ce68a 0.0%,#a6e585 2.2%,#8ee59e 4.4%,#8ce5a1 6.6%,#bde179 8.7%,#aee480 10.9%,#92e697 13.1%,#96e690 15.3%,#c6e075 17.5%,#d1d471 19.7%,#c3e076 21.9%,#b2e37f 24.0%,#8fe59c 26.2%,#98e78d 28.4%,#bae27b 30.6%,#c4e076 32.8%,#c6e075 35.0%,#ddb870 37.2%,#cbdf72 39.3%,#b3e37e 41.5%,#b0e380 43.7%,#bce179 45.9%,#b8e27c 48.1%,#dabe70 50.3%,#d9c070 52.5%,#dbbb70 54.6%,#ba7b80 56.8%,#b47682 59.0%,#dba473 61.2%,#dda772 63.4%,#c3827d 65.6%,#d38f78 67.8%,#d49277 69.9%,#d39078 72.1%,#dfac70 74.3%,#d49277 76.5%,#bc7c7f 78.7%,#bc7d7f 80.9%,#d18c79 83.1%,#dfb270 85.2%,#deaa71 87.4%,#dca472 89.6%,#ddb770 91.8%,#bce27a 94.0%,#a2e586 96.2%,#bce27a 98.4%,#d1d271 100.0%)"></b>
<b style="background:linear-gradient(90deg,#8be5a2 0.0%,#94e694 2.2%,#bce179 4.4%,#dabf70 6.6%,#e0ae70 8.7%,#d4cc71 10.9%,#bbe27a 13.1%,#95e691 15.3%,#dabe70 17.5%,#c7857c 19.7%,#c1e177 21.9%,#93e694 24.0%,#8fe59c 26.2%,#74dfcb 28.4%,#63cdeb 30.6%,#78e1c4 32.8%,#8be5a3 35.0%,#84e4af 37.2%,#88e5a8 39.3%,#88e5a8 41.5%,#77e0c6 43.7%,#83e4b1 45.9%,#9fe688 48.1%,#b0e380 50.3%,#bde179 52.5%,#ace482 54.6%,#91e699 56.8%,#78e1c3 59.0%,#63d4e9 61.2%,#64d7e6 63.4%,#6ddbd8 65.6%,#6bdada 67.8%,#6edcd5 69.9%,#7ce3bc 72.1%,#7be3bf 74.3%,#69d9de 76.5%,#66d7e3 78.7%,#63c7ed 80.9%,#6ca8ef 83.1%,#63cfeb 85.2%,#78e1c4 87.4%,#6adadc 89.6%,#72decd 91.8%,#afe380 94.0%,#9de689 96.2%,#97e68e 98.4%,#a9e483 100.0%)"></b>
<b style="background:linear-gradient(90deg,#63c6ee 0.0%,#65bdef 2.2%,#63c6ee 4.4%,#63cfea 6.6%,#63d4e9 8.7%,#63d3e9 10.9%,#67b6ef 13.1%,#7296ef 15.3%,#63caec 17.5%,#63d5e8 19.7%,#63cbec 21.9%,#63c7ee 24.0%,#63c3ef 26.2%,#6da5ef 28.4%,#7782eb 30.6%,#63c8ed 32.8%,#6edcd6 35.0%,#89e5a6 37.2%,#83e4b0 39.3%,#70ddd1 41.5%,#63d4e9 43.7%,#66d7e3 45.9%,#68d8e1 48.1%,#6ddbd8 50.3%,#65d7e5 52.5%,#63c6ee 54.6%,#69b0ef 56.8%,#7686ed 59.0%,#67b6ef 61.2%,#6fdcd3 63.4%,#80e4b6 65.6%,#8be5a2 67.8%,#8fe59c 69.9%,#95e692 72.1%,#99e78b 74.3%,#96e68f 76.5%,#82e4b2 78.7%,#71decf 80.9%,#67d8e1 83.1%,#8fe59c 85.2%,#a4e585 87.4%,#aae483 89.6%,#b3e37e 91.8%,#afe380 94.0%,#99e78b 96.2%,#87e4aa 98.4%,#79e2c2 100.0%)"></b>
<b style="background:linear-gradient(90deg,#73decd 0.0%,#6fdcd4 2.2%,#65d7e5 4.4%,#6adadc 6.6%,#6cdbd9 8.7%,#6ad9dd 10.9%,#63d0ea 13.1%,#67d8e1 15.3%,#80e4b5 17.5%,#82e4b1 19.7%,#80e3b6 21.9%,#85e4ac 24.0%,#84e4ae 26.2%,#7ae2c1 28.4%,#78e1c3 30.6%,#8ce5a1 32.8%,#90e699 35.0%,#7be3be 37.2%,#63d4e9 39.3%,#6ddbd7 41.5%,#77e1c5 43.7%,#66d8e3 45.9%,#6aaeef 48.1%,#7688ee 50.3%,#67b8ef 52.5%,#63caec 54.6%,#69b1ef 56.8%,#7196ef 59.0%,#7783ec 61.2%,#787de9 63.4%,#6aafef 65.6%,#63c7ee 67.8%,#63c6ee 69.9%,#63ceeb 72.1%,#69d9de 74.3%,#63d5e8 76.5%,#6ca6ef 78.7%,#7978e6 80.9%,#7978e6 83.1%,#64c0ef 85.2%,#63d6e8 87.4%,#6da3ef 89.6%,#7783ec 91.8%,#63c4ee 94.0%,#71ddd1 96.2%,#68d9df 98.4%,#63d1ea 100.0%)"></b>
<b style="background:linear-gradient(90deg,#92e697 0.0%,#8ae5a5 2.2%,#9ee688 4.4%,#9fe688 6.6%,#d1d271 8.7%,#dbbd70 10.9%,#c3e076 13.1%,#d4cc71 15.3%,#cc897a 17.5%,#b47682 19.7%,#c9877b 21.9%,#c1807e 24.0%,#c1807e 26.2%,#be7e7f 28.4%,#d28e79 30.6%,#d28d79 32.8%,#cb887b 35.0%,#d59577 37.2%,#d1d371 39.3%,#dbbc70 41.5%,#deb670 43.7%,#cddc72 45.9%,#a1e687 48.1%,#8ee59e 50.3%,#b2e37f 52.5%,#d3cd71 54.6%,#b2e37f 56.8%,#a7e584 59.0%,#aee481 61.2%,#a6e585 63.4%,#afe380 65.6%,#b8e27c 67.8%,#c0e178 69.9%,#c6e075 72.1%,#d3cd71 74.3%,#d5c971 76.5%,#cddc72 78.7%,#d8c471 80.9%,#ddb870 83.1%,#dba273 85.2%,#d99f74 87.4%,#dba473 89.6%,#d89c75 91.8%,#c2817e 94.0%,#b47682 96.2%,#d99e74 98.4%,#deb470 100.0%)"></b>
<b style="background:linear-gradient(90deg,#6adadd 0.0%,#64d6e7 2.2%,#66d8e3 4.4%,#69d9de 6.6%,#78e1c4 8.7%,#8ce5a1 10.9%,#86e4ac 13.1%,#6fdcd4 15.3%,#6bdadb 17.5%,#75e0c8 19.7%,#76e0c7 21.9%,#79e2c2 24.0%,#b7e27c 26.2%,#d69876 28.4%,#deb570 30.6%,#a7e584 32.8%,#96e690 35.0%,#b4e37e 37.2%,#dabe70 39.3%,#e0b06f 41.5%,#e0af6f 43.7%,#dabd70 45.9%,#d9c070 48.1%,#ddb770 50.3%,#d79a75 52.5%,#d59676 54.6%,#dba373 56.8%,#d89c75 59.0%,#b47682 61.2%,#c6847c 63.4%,#d89d74 65.6%,#dabf70 67.8%,#a1e587 69.9%,#7be3be 72.1%,#92e697 74.3%,#a7e584 76.5%,#b0e37f 78.7%,#afe380 80.9%,#abe482 83.1%,#ccde72 85.2%,#cbdf72 87.4%,#c4e076 89.6%,#d3cf71 91.8%,#d8c371 94.0%,#c8e074 96.2%,#aee481 98.4%,#aae482 100.0%)"></b>
<b style="background:linear-gradient(90deg,#7be3bf 0.0%,#7be3be 2.2%,#80e4b6 4.4%,#6edcd5 6.6%,#6ad9dd 8.7%,#6adadc 10.9%,#6ddbd7 13.1%,#6ddbd7 15.3%,#68d9df 17.5%,#63caec 19.7%,#66d7e4 21.9%,#6bdada 24.0%,#7fe3b8 26.2%,#7de3ba 28.4%,#63d5e8 30.6%,#63c3ef 32.8%,#67b6ef 35.0%,#709bef 37.2%,#66baef 39.3%,#66d7e4 41.5%,#74dfca 43.7%,#76e0c7 45.9%,#75dfc9 48.1%,#7fe3b7 50.3%,#8ae5a4 52.5%,#8de59f 54.6%,#8ae5a5 56.8%,#89e5a6 59.0%,#8de59f 61.2%,#6bdada 63.4%,#65d7e5 65.6%,#73dfcc 67.8%,#7fe3b7 69.9%,#7ce3bc 72.1%,#6ad9dd 74.3%,#6edcd6 76.5%,#79e2c1 78.7%,#7ce3bd 80.9%,#75dfc9 83.1%,#75e0c8 85.2%,#66d7e4 87.4%,#72dece 89.6%,#80e3b6 91.8%,#71ddd1 94.0%,#74dfcb 96.2%,#84e4ae 98.4%,#8ee59e 100.0%)"></b>
<b style="background:linear-gradient(90deg,#63cdeb 0.0%,#69b2ef 2.2%,#6baaef 4.4%,#7198ef 6.6%,#7783eb 8.7%,#787be8 10.9%,#7780ea 13.1%,#7296ef 15.3%,#67b7ef 17.5%,#7689ee 19.7%,#787ee9 21.9%,#7392ef 24.0%,#709cef 26.2%,#787ce8 28.4%,#7978e6 30.6%,#7978e6 32.8%,#7978e6 35.0%,#7978e6 37.2%,#7978e6 39.3%,#7978e6 41.5%,#7686ed 43.7%,#7780ea 45.9%,#748fee 48.1%,#63d0ea 50.3%,#63cbec 52.5%,#63c7ed 54.6%,#66d8e3 56.8%,#63ccec 59.0%,#68b4ef 61.2%,#7390ee 63.4%,#787fe9 65.6%,#7781ea 67.8%,#6da4ef 69.9%,#67b7ef 72.1%,#7685ed 74.3%,#6ca7ef 76.5%,#6edcd5 78.7%,#6adadc 80.9%,#67d8e2 83.1%,#63d3e9 85.2%,#6da3ef 87.4%,#68b3ef 89.6%,#63c4ef 91.8%,#6da5ef 94.0%,#63d2e9 96.2%,#63c4ee 98.4%,#7685ed 100.0%)"></b>
<b style="background:linear-gradient(90deg,#86e4ab 0.0%,#7fe3b7 2.2%,#86e4ac 4.4%,#76e0c6 6.6%,#66d8e3 8.7%,#6fdcd4 10.9%,#80e4b5 13.1%,#abe482 15.3%,#d6c671 17.5%,#bfe178 19.7%,#8de59f 21.9%,#73dfcc 24.0%,#75e0c9 26.2%,#85e4ad 28.4%,#86e4ac 30.6%,#83e4b0 32.8%,#85e4ac 35.0%,#7ae2c0 37.2%,#73decc 39.3%,#63d5e8 41.5%,#65bcef 43.7%,#63d0ea 45.9%,#7ee3b9 48.1%,#8ce5a0 50.3%,#78e1c4 52.5%,#6cdbd8 54.6%,#7ce3bd 56.8%,#77e0c6 59.0%,#65d7e6 61.2%,#70ddd2 63.4%,#80e4b6 65.6%,#87e4aa 67.8%,#6edcd6 69.9%,#77e1c6 72.1%,#6ddbd7 74.3%,#6fdcd3 76.5%,#9ce689 78.7%,#8fe59c 80.9%,#7de3bb 83.1%,#63c4ef 85.2%,#787de8 87.4%,#7879e7 89.6%,#7978e6 91.8%,#7781eb 94.0%,#709cef 96.2%,#7978e6 98.4%,#7978e6 100.0%)"></b>
<b style="background:linear-gradient(90deg,#70ddd1 0.0%,#7ae2c0 2.2%,#80e4b5 4.4%,#6edcd4 6.6%,#63cdeb 8.7%,#72dece 10.9%,#91e698 13.1%,#92e696 15.3%,#a9e483 17.5%,#9be68a 19.7%,#99e78b 21.9%,#bde179 24.0%,#dda772 26.2%,#dea971 28.4%,#d8c270 30.6%,#d7c571 32.8%,#dbbb70 35.0%,#d6c871 37.2%,#dabf70 39.3%,#ced972 41.5%,#97e68e 43.7%,#a5e585 45.9%,#c0e178 48.1%,#bde179 50.3%,#92e697 52.5%,#8ae5a4 54.6%,#d1d271 56.8%,#d39078 59.0%,#d2d171 61.2%,#91e698 63.4%,#8fe59c 65.6%,#94e693 67.8%,#95e692 69.9%,#92e696 72.1%,#7ee3b8 74.3%,#91e699 76.5%,#d1d271 78.7%,#cddb72 80.9%,#b9e27b 83.1%,#98e78c 85.2%,#79e2c2 87.4%,#63cfeb 89.6%,#63c9ed 91.8%,#64c1ef 94.0%,#7686ed 96.2%,#7688ee 98.4%,#7688ee 100.0%)"></b>
<b style="background:linear-gradient(90deg,#7be3bf 0.0%,#73dfcc 2.2%,#71ddd0 4.4%,#6edcd5 6.6%,#65d7e5 8.7%,#71ddd0 10.9%,#71ddd1 13.1%,#71ddd1 15.3%,#7ee3b8 17.5%,#77e0c6 19.7%,#64d6e7 21.9%,#70ddd1 24.0%,#94e693 26.2%,#99e78b 28.4%,#8be5a3 30.6%,#9fe688 32.8%,#d8c471 35.0%,#e0b270 37.2%,#bf7e7f 39.3%,#b47682 41.5%,#cd8a7a 43.7%,#bd7d7f 45.9%,#b47682 48.1%,#c7857c 50.3%,#ddb670 52.5%,#d1d271 54.6%,#d69776 56.8%,#b47682 59.0%,#d49277 61.2%,#dda871 63.4%,#e0b06f 65.6%,#d4cb71 67.8%,#d0d572 69.9%,#b6e27d 72.1%,#b0e380 74.3%,#ccdf72 76.5%,#d6c771 78.7%,#c4e076 80.9%,#bfe178 83.1%,#bce27a 85.2%,#d0d572 87.4%,#d4cd71 89.6%,#dbbc70 91.8%,#d89b75 94.0%,#dda872 96.2%,#deb670 98.4%,#ccdd72 100.0%)"></b>
<b style="background:linear-gradient(90deg,#8ce5a1 0.0%,#72dece 2.2%,#79e2c1 4.4%,#a6e584 6.6%,#a2e586 8.7%,#91e698 10.9%,#82e4b3 13.1%,#7be3be 15.3%,#7fe3b7 17.5%,#84e4af 19.7%,#a2e587 21.9%,#98e68d 24.0%,#87e4aa 26.2%,#82e4b2 28.4%,#90e59b 30.6%,#c4e076 32.8%,#dbbb70 35.0%,#d89b75 37.2%,#b47682 39.3%,#bf7f7e 41.5%,#d4cc71 43.7%,#91e698 45.9%,#a4e586 48.1%,#ceda72 50.3%,#9be68a 52.5%,#95e691 54.6%,#b7e27c 56.8%,#daa173 59.0%,#d79a75 61.2%,#d49377 63.4%,#deb670 65.6%,#ddb870 67.8%,#cf8b79 69.9%,#ce8b7a 72.1%,#deb570 74.3%,#ccde72 76.5%,#c6e075 78.7%,#ced972 80.9%,#c5e076 83.1%,#c7e074 85.2%,#dbbc70 87.4%,#dba273 89.6%,#dca472 91.8%,#d89c75 94.0%,#d69776 96.2%,#b47682 98.4%,#b47682 100.0%)"></b>
<b style="background:linear-gradient(90deg,#91e698 0.0%,#8de5a0 2.2%,#90e59b 4.4%,#8ee59d 6.6%,#8be5a3 8.7%,#7fe3b7 10.9%,#71ddd0 13.1%,#6edcd5 15.3%,#83e4b1 17.5%,#8ee59d 19.7%,#d1d371 21.9%,#cfd872 24.0%,#b3e37e 26.2%,#ccde72 28.4%,#e0b270 30.6%,#d1d471 32.8%,#a4e585 35.0%,#aae482 37.2%,#9ee689 39.3%,#86e4ac 41.5%,#90e69a 43.7%,#97e68e 45.9%,#98e78c 48.1%,#ced972 50.3%,#dabf70 52.5%,#d8c371 54.6%,#d6c671 56.8%,#dbbc70 59.0%,#e1af6f 61.2%,#d6c771 63.4%,#cbdf73 65.6%,#dfb370 67.8%,#ce8b7a 69.9%,#c9867b 72.1%,#e0b16f 74.3%,#dfb470 76.5%,#c7857c 78.7%,#c2817e 80.9%,#c7857c 83.1%,#d39178 85.2%,#cf8b7a 87.4%,#b47682 89.6%,#b97a80 91.8%,#dfab71 94.0%,#d7c471 96.2%,#d99e74 98.4%,#c3827d 100.0%)"></b>
<b style="background:linear-gradient(90deg,#77e1c5 0.0%,#8fe59c 2.2%,#a4e586 4.4%,#9ee689 6.6%,#a9e483 8.7%,#cbdf72 10.9%,#afe380 13.1%,#8fe59b 15.3%,#84e4af 17.5%,#7fe3b8 19.7%,#76e0c7 21.9%,#63d2e9 24.0%,#68d8e0 26.2%,#8de59f 28.4%,#bee179 30.6%,#ced872 32.8%,#a0e688 35.0%,#a1e587 37.2%,#d3cf71 39.3%,#c5e075 41.5%,#a0e687 43.7%,#9ce689 45.9%,#93e695 48.1%,#8ce5a0 50.3%,#95e691 52.5%,#82e4b1 54.6%,#63d3e9 56.8%,#63c9ed 59.0%,#63d6e8 61.2%,#63c2ef 63.4%,#68b3ef 65.6%,#6adadc 67.8%,#6fdcd4 69.9%,#7fe3b7 72.1%,#9fe688 74.3%,#95e692 76.5%,#91e698 78.7%,#afe380 80.9%,#9ee688 83.1%,#92e696 85.2%,#9ae68a 87.4%,#bce17a 89.6%,#b7e27c 91.8%,#80e4b5 94.0%,#64d6e8 96.2%,#63cdeb 98.4%,#63ccec 100.0%)"></b>
<b style="background:linear-gradient(90deg,#7197ef 0.0%,#7781ea 2.2%,#787de9 4.4%,#7783ec 6.6%,#6f9eef 8.7%,#63d6e8 10.9%,#63c9ed 13.1%,#748dee 15.3%,#7781ea 17.5%,#6ea2ef 19.7%,#67d8e2 21.9%,#63d0ea 24.0%,#63cfeb 26.2%,#6cdbd8 28.4%,#80e4b5 30.6%,#80e4b6 32.8%,#7de3bb 35.0%,#89e5a6 37.2%,#69d9dd 39.3%,#67d8e2 41.5%,#77e1c6 43.7%,#80e4b5 45.9%,#84e4b0 48.1%,#7ae2c0 50.3%,#77e1c5 52.5%,#87e4aa 54.6%,#90e69a 56.8%,#c5e075 59.0%,#c4e076 61.2%,#d4cd71 63.4%,#d4cb71 65.6%,#d3cf71 67.8%,#d5c971 69.9%,#ced972 72.1%,#dfab71 74.3%,#d59477 76.5%,#d7c471 78.7%,#c1e177 80.9%,#b6e27d 83.1%,#a7e584 85.2%,#92e697 87.4%,#a2e586 89.6%,#8fe59c 91.8%,#77e1c5 94.0%,#8ae5a4 96.2%,#97e68e 98.4%,#96e690 100.0%)"></b>
<b style="background:linear-gradient(90deg,#63d6e8 0.0%,#63ceeb 2.2%,#63c8ed 4.4%,#63c7ee 6.6%,#63c3ef 8.7%,#65bcef 10.9%,#63caec 13.1%,#6adadc 15.3%,#80e3b6 17.5%,#93e696 19.7%,#8ae5a4 21.9%,#7fe3b7 24.0%,#84e4ae 26.2%,#84e4af 28.4%,#8ee59d 30.6%,#9fe688 32.8%,#8ae5a4 35.0%,#8fe59b 37.2%,#7ee3b9 39.3%,#75dfc9 41.5%,#7ee3b8 43.7%,#8de5a0 45.9%,#a5e585 48.1%,#a8e483 50.3%,#a8e484 52.5%,#dbbc70 54.6%,#b47682 56.8%,#b47682 59.0%,#b47682 61.2%,#d39078 63.4%,#d89b75 65.6%,#c6847c 67.8%,#cc897a 69.9%,#d79976 72.1%,#c9867b 74.3%,#b47682 76.5%,#b47682 78.7%,#b47682 80.9%,#d08c79 83.1%,#c9877b 85.2%,#c2817d 87.4%,#cd8a7a 89.6%,#d69776 91.8%,#d18d79 94.0%,#c1807e 96.2%,#ca877b 98.4%,#d99e74 100.0%)"></b>
<b style="background:linear-gradient(90deg,#85e4ad 0.0%,#85e4ad 2.2%,#77e1c5 4.4%,#78e1c4 6.6%,#78e1c3 8.7%,#7ee3b8 10.9%,#8ce5a1 13.1%,#83e4b0 15.3%,#85e4ad 17.5%,#79e2c1 19.7%,#6fdcd4 21.9%,#6edcd6 24.0%,#68d8e1 26.2%,#64d6e7 28.4%,#72decd 30.6%,#63ceeb 32.8%,#787de8 35.0%,#7782eb 37.2%,#7978e6 39.3%,#7689ee 41.5%,#63c7ed 43.7%,#63c5ee 45.9%,#63cceb 48.1%,#63d6e8 50.3%,#69d9de 52.5%,#63ceeb 54.6%,#63caec 56.8%,#7296ef 59.0%,#7687ee 61.2%,#787ee9 63.4%,#7978e6 65.6%,#7978e6 67.8%,#7978e6 69.9%,#7978e6 72.1%,#7978e6 74.3%,#7978e6 76.5%,#7978e6 78.7%,#7978e6 80.9%,#7978e6 83.1%,#7978e6 85.2%,#7978e6 87.4%,#7978e6 89.6%,#7978e6 91.8%,#7978e6 94.0%,#63cfea 96.2%,#76e0c7 98.4%,#7ae2c1 100.0%)"></b>
<b style="background:linear-gradient(90deg,#63c4ee 0.0%,#63cdeb 2.2%,#6da5ef 4.4%,#63c4ee 6.6%,#63ceeb 8.7%,#63cfea 10.9%,#63d2e9 13.1%,#6da4ef 15.3%,#7689ee 17.5%,#7978e6 19.7%,#787ae7 21.9%,#758dee 24.0%,#7199ef 26.2%,#63cfeb 28.4%,#6ddbd7 30.6%,#63d0ea 32.8%,#63d4e9 35.0%,#7be3bf 37.2%,#85e4ae 39.3%,#6fddd3 41.5%,#6ddbd8 43.7%,#71decf 45.9%,#7de3bb 48.1%,#83e4b1 50.3%,#71ddd0 52.5%,#63cdeb 54.6%,#6ddbd8 56.8%,#75e0c9 59.0%,#74dfcb 61.2%,#73dfcc 63.4%,#7ae2c0 65.6%,#83e4b0 67.8%,#82e4b3 69.9%,#7ae2c0 72.1%,#6adadc 74.3%,#71ddd1 76.5%,#69d9de 78.7%,#6da4ef 80.9%,#63cbec 83.1%,#63c5ee 85.2%,#63d0ea 87.4%,#68d9df 89.6%,#83e4b1 91.8%,#90e69a 94.0%,#98e78d 96.2%,#c9e074 98.4%,#cadf73 100.0%)"></b>
<b style="background:linear-gradient(90deg,#66b9ef 0.0%,#63ccec 2.2%,#63cbec 4.4%,#63d0ea 6.6%,#63ceeb 8.7%,#63caec 10.9%,#63c8ed 13.1%,#63d4e9 15.3%,#65d7e5 17.5%,#64c0ef 19.7%,#64d6e8 21.9%,#7ee3b9 24.0%,#82e4b2 26.2%,#8ae5a5 28.4%,#96e690 30.6%,#7de3ba 32.8%,#6cdbd8 35.0%,#7de3bb 37.2%,#90e59b 39.3%,#84e4ae 41.5%,#89e5a6 43.7%,#99e78b 45.9%,#8fe59c 48.1%,#8fe59b 50.3%,#83e4b0 52.5%,#7ae2c0 54.6%,#8ee59e 56.8%,#80e4b5 59.0%,#82e4b3 61.2%,#8ce5a1 63.4%,#96e68f 65.6%,#8fe59d 67.8%,#8fe59c 69.9%,#cae073 72.1%,#ccde72 74.3%,#d3cd71 76.5%,#d6c871 78.7%,#bae27b 80.9%,#b7e27c 83.1%,#d4cc71 85.2%,#ddb770 87.4%,#e0ad70 89.6%,#dca572 91.8%,#dda871 94.0%,#d99e74 96.2%,#cc897b 98.4%,#c4837d 100.0%)"></b>
<b style="background:linear-gradient(90deg,#ccdd72 0.0%,#a8e484 2.2%,#bae27b 4.4%,#bfe178 6.6%,#aee481 8.7%,#bee179 10.9%,#dabe70 13.1%,#d18d79 15.3%,#cb887b 17.5%,#b47682 19.7%,#b47682 21.9%,#b77881 24.0%,#d59477 26.2%,#d4cb71 28.4%,#dcb970 30.6%,#dca672 32.8%,#cfd772 35.0%,#ddb870 37.2%,#cb887b 39.3%,#d18d79 41.5%,#ce8b7a 43.7%,#cd8a7a 45.9%,#d99f74 48.1%,#dbbd70 50.3%,#bfe178 52.5%,#97e68e 54.6%,#90e699 56.8%,#75e0c8 59.0%,#9be68a 61.2%,#bce17a 63.4%,#b6e27d 65.6%,#b8e27c 67.8%,#d2d071 69.9%,#d0d472 72.1%,#a5e585 74.3%,#b6e27d 76.5%,#c7e074 78.7%,#cfd772 80.9%,#e0ae70 83.1%,#d69776 85.2%,#dca472 87.4%,#dca672 89.6%,#d08c79 91.8%,#cf8b79 94.0%,#d18d79 96.2%,#d59577 98.4%,#c5837d 100.0%)"></b>
<b style="background:linear-gradient(90deg,#63cbec 0.0%,#63d2e9 2.2%,#63ceeb 4.4%,#6fddd3 6.6%,#84e4af 8.7%,#7ee3b9 10.9%,#7be3be 13.1%,#83e4b0 15.3%,#88e5a8 17.5%,#84e4ae 19.7%,#8ae5a4 21.9%,#95e691 24.0%,#81e4b5 26.2%,#75e0c8 28.4%,#77e0c6 30.6%,#94e694 32.8%,#89e5a7 35.0%,#85e4ac 37.2%,#b6e27d 39.3%,#cddb72 41.5%,#aae482 43.7%,#8ce5a1 45.9%,#8de5a0 48.1%,#93e696 50.3%,#7ee3b9 52.5%,#73decd 54.6%,#7ce3bd 56.8%,#81e4b4 59.0%,#84e4af 61.2%,#87e4a9 63.4%,#7de3bb 65.6%,#7ee3b9 67.8%,#91e698 69.9%,#94e694 72.1%,#7ae2c0 74.3%,#73decd 76.5%,#75e0c8 78.7%,#73decd 80.9%,#77e1c6 83.1%,#73decd 85.2%,#6cdbd9 87.4%,#68d8e0 89.6%,#65d7e5 91.8%,#66baef 94.0%,#7978e6 96.2%,#6ca7ef 98.4%,#68d8e0 100.0%)"></b>
<b style="background:linear-gradient(90deg,#6ea2ef 0.0%,#7978e6 2.2%,#7879e6 4.4%,#7685ed 6.6%,#7687ee 8.7%,#6ca9ef 10.9%,#6ca7ef 13.1%,#66bbef 15.3%,#63c7ed 17.5%,#66b9ef 19.7%,#7199ef 21.9%,#63cbec 24.0%,#64bfef 26.2%,#7296ef 28.4%,#6babef 30.6%,#68b5ef 32.8%,#63c7ee 35.0%,#78e1c4 37.2%,#85e4ae 39.3%,#8fe59c 41.5%,#7de3bb 43.7%,#6ddbd7 45.9%,#70ddd3 48.1%,#6fdcd3 50.3%,#73dfcc 52.5%,#8de59f 54.6%,#c0e178 56.8%,#b1e37f 59.0%,#a3e586 61.2%,#91e699 63.4%,#91e699 65.6%,#9ee689 67.8%,#9ae68a 69.9%,#80e4b5 72.1%,#63cbec 74.3%,#65d7e5 76.5%,#88e5a7 78.7%,#a7e584 80.9%,#b4e37e 83.1%,#b0e380 85.2%,#abe482 87.4%,#bde179 89.6%,#d9c170 91.8%,#dcb970 94.0%,#cbdf72 96.2%,#c6e075 98.4%,#bae27b 100.0%)"></b>
<b style="background:linear-gradient(90deg,#67d8e2 0.0%,#63d5e8 2.2%,#63d6e8 4.4%,#63c6ee 6.6%,#63c5ee 8.7%,#63ccec 10.9%,#67b7ef 13.1%,#65beef 15.3%,#63c6ee 17.5%,#68b3ef 19.7%,#7688ee 21.9%,#6baaef 24.0%,#63caec 26.2%,#6adadc 28.4%,#69d9de 30.6%,#63d1ea 32.8%,#72dece 35.0%,#8ee59d 37.2%,#83e4b0 39.3%,#72dece 41.5%,#72dece 43.7%,#88e5a8 45.9%,#93e695 48.1%,#90e699 50.3%,#8ce5a1 52.5%,#90e69a 54.6%,#c9e073 56.8%,#a0e687 59.0%,#8fe59c 61.2%,#9ae78b 63.4%,#ade481 65.6%,#aae483 67.8%,#8fe59b 69.9%,#77e1c5 72.1%,#66d8e3 74.3%,#69d9de 76.5%,#63d3e9 78.7%,#65beef 80.9%,#66baef 83.1%,#63c3ef 85.2%,#71ddd0 87.4%,#6adadc 89.6%,#63c9ed 91.8%,#63c4ee 94.0%,#6aadef 96.2%,#7783eb 98.4%,#787de8 100.0%)"></b>
<b style="background:linear-gradient(90deg,#a1e587 0.0%,#94e693 2.2%,#aae483 4.4%,#b7e27c 6.6%,#ace482 8.7%,#b8e27c 10.9%,#9ae68a 13.1%,#8be5a2 15.3%,#a4e586 17.5%,#e0ad70 19.7%,#c7857c 21.9%,#d0d672 24.0%,#e0ad70 26.2%,#e0b06f 28.4%,#cddc72 30.6%,#dabf70 32.8%,#dfab71 35.0%,#e0b270 37.2%,#dbbc70 39.3%,#d69676 41.5%,#cfd772 43.7%,#c6e075 45.9%,#ccdf72 48.1%,#d3cf71 50.3%,#c1807e 52.5%,#b57782 54.6%,#c0807e 56.8%,#bd7d7f 59.0%,#d9c170 61.2%,#bae27b 63.4%,#d7c571 65.6%,#daa173 67.8%,#e0af6f 69.9%,#dca672 72.1%,#d38f78 74.3%,#b47682 76.5%,#b47682 78.7%,#e0af6f 80.9%,#ddb870 83.1%,#ced972 85.2%,#d2d071 87.4%,#dda871 89.6%,#dca572 91.8%,#cddb72 94.0%,#92e697 96.2%,#98e78c 98.4%,#96e690 100.0%)"></b>
<b style="background:linear-gradient(90deg,#6adadc 0.0%,#6bdada 2.2%,#75e0c8 4.4%,#77e1c5 6.6%,#73decc 8.7%,#6adadc 10.9%,#65d7e4 13.1%,#77e0c6 15.3%,#92e697 17.5%,#bde179 19.7%,#dfb370 21.9%,#dabf70 24.0%,#c1e177 26.2%,#ade481 28.4%,#c4e076 30.6%,#ddb670 32.8%,#dda772 35.0%,#d0d472 37.2%,#d0d672 39.3%,#9fe688 41.5%,#a4e585 43.7%,#e0af70 45.9%,#daa074 48.1%,#d4cb71 50.3%,#d2d171 52.5%,#d7c571 54.6%,#cddb72 56.8%,#dbbb70 59.0%,#dfac70 61.2%,#dbbb70 63.4%,#d69776 65.6%,#cf8b79 67.8%,#d49277 69.9%,#d59576 72.1%,#d49277 74.3%,#b47682 76.5%,#b47682 78.7%,#bf7f7e 80.9%,#b47682 83.1%,#d49277 85.2%,#e0b270 87.4%,#c8867c 89.6%,#cc897a 91.8%,#e0b270 94.0%,#cfd672 96.2%,#d3cf71 98.4%,#d6c871 100.0%)"></b>
<b style="background:linear-gradient(90deg,#dbbc70 0.0%,#dea971 2.2%,#d6c871 4.4%,#89e5a5 6.6%,#8be5a2 8.7%,#98e78c 10.9%,#98e78c 13.1%,#a1e687 15.3%,#86e4ac 17.5%,#99e78b 19.7%,#b2e37f 21.9%,#94e693 24.0%,#99e78b 26.2%,#93e695 28.4%,#89e5a7 30.6%,#80e4b6 32.8%,#89e5a6 35.0%,#a5e585 37.2%,#deb670 39.3%,#c1e177 41.5%,#8ce5a1 43.7%,#8ae5a4 45.9%,#91e699 48.1%,#97e68f 50.3%,#9ee688 52.5%,#aee480 54.6%,#96e690 56.8%,#a2e587 59.0%,#b4e37e 61.2%,#b3e37e 63.4%,#a8e484 65.6%,#a1e587 67.8%,#b9e27b 69.9%,#9be68a 72.1%,#78e1c3 74.3%,#8ae5a5 76.5%,#a5e585 78.7%,#a0e687 80.9%,#bfe178 83.1%,#a3e586 85.2%,#88e5a8 87.4%,#85e4ad 89.6%,#98e68d 91.8%,#97e68d 94.0%,#aae483 96.2%,#e0b270 98.4%,#deaa71 100.0%)"></b>
<b style="background:linear-gradient(90deg,#63ccec 0.0%,#63d4e9 2.2%,#63d3e9 4.4%,#63c6ee 6.6%,#65d7e5 8.7%,#68d8e1 10.9%,#63d4e9 13.1%,#63c8ed 15.3%,#64c1ef 17.5%,#67b5ef 19.7%,#7294ef 21.9%,#67b6ef 24.0%,#63d1ea 26.2%,#63ceeb 28.4%,#63ceeb 30.6%,#64c1ef 32.8%,#63d1ea 35.0%,#7ee3b8 37.2%,#74dfcb 39.3%,#63d1ea 41.5%,#67b6ef 43.7%,#63cbec 45.9%,#66d7e4 48.1%,#71decf 50.3%,#7be3be 52.5%,#74dfcb 54.6%,#63d2e9 56.8%,#74dfcb 59.0%,#a9e483 61.2%,#8fe59c 63.4%,#7fe3b8 65.6%,#82e4b2 67.8%,#83e4b1 69.9%,#86e4ac 72.1%,#8ae5a4 74.3%,#a8e484 76.5%,#dda871 78.7%,#d89b75 80.9%,#d5c971 83.1%,#d6c871 85.2%,#cddb72 87.4%,#98e78c 89.6%,#b5e37d 91.8%,#bee179 94.0%,#bfe178 96.2%,#bfe178 98.4%,#b2e37f 100.0%)"></b>
<b style="background:linear-gradient(90deg,#64d7e6 0.0%,#6bdada 2.2%,#6ddbd6 4.4%,#6ddbd8 6.6%,#70ddd2 8.7%,#86e4ac 10.9%,#86e4ab 13.1%,#70ddd2 15.3%,#72decd 17.5%,#74dfcb 19.7%,#66d7e4 21.9%,#63d5e8 24.0%,#71ddd0 26.2%,#76e0c7 28.4%,#6fdcd4 30.6%,#81e4b4 32.8%,#a9e483 35.0%,#b0e380 37.2%,#99e78b 39.3%,#8ce5a1 41.5%,#76e0c8 43.7%,#6adadc 45.9%,#77e0c6 48.1%,#86e4ab 50.3%,#a5e585 52.5%,#93e696 54.6%,#89e5a6 56.8%,#98e78c 59.0%,#b2e37e 61.2%,#8fe59c 63.4%,#8ee59e 65.6%,#98e78d 67.8%,#99e78b 69.9%,#8ee59d 72.1%,#b4e37e 74.3%,#c4e076 76.5%,#90e699 78.7%,#98e78c 80.9%,#c0e178 83.1%,#d4cc71 85.2%,#cfd772 87.4%,#b8e27c 89.6%,#aee481 91.8%,#ade481 94.0%,#b2e37f 96.2%,#b9e27b 98.4%,#a5e585 100.0%)"></b>
<b style="background:linear-gradient(90deg,#87e4aa 0.0%,#90e69a 2.2%,#bce27a 4.4%,#d1d271 6.6%,#bae27b 8.7%,#a8e483 10.9%,#abe482 13.1%,#92e696 15.3%,#83e4b1 17.5%,#8ae5a4 19.7%,#85e4ad 21.9%,#72decd 24.0%,#8ee59e 26.2%,#bfe178 28.4%,#a8e483 30.6%,#a8e483 32.8%,#c6e075 35.0%,#d79a75 37.2%,#cb887b 39.3%,#d69776 41.5%,#c5847c 43.7%,#ce8a7a 45.9%,#daa074 48.1%,#d4cb71 50.3%,#d3cd71 52.5%,#d1d471 54.6%,#d0d472 56.8%,#ccdd72 59.0%,#c5e076 61.2%,#ade481 63.4%,#bce27a 65.6%,#b3e37e 67.8%,#b7e27c 69.9%,#b9e27b 72.1%,#b1e37f 74.3%,#a8e483 76.5%,#a9e483 78.7%,#abe482 80.9%,#a8e484 83.1%,#9be68a 85.2%,#9ae68a 87.4%,#ace481 89.6%,#d2d071 91.8%,#d2d071 94.0%,#bce27a 96.2%,#b3e37e 98.4%,#a1e587 100.0%)"></b>
<b style="background:linear-gradient(90deg,#63d3e9 0.0%,#6cdbd9 2.2%,#78e1c4 4.4%,#80e4b6 6.6%,#71ddd0 8.7%,#6cdbd8 10.9%,#75dfc9 13.1%,#71ddd0 15.3%,#73dfcc 17.5%,#76e0c7 19.7%,#76e0c6 21.9%,#75dfc9 24.0%,#75e0c8 26.2%,#86e4ab 28.4%,#9fe688 30.6%,#ccdd72 32.8%,#dea971 35.0%,#c8867c 37.2%,#b87981 39.3%,#b47682 41.5%,#b47682 43.7%,#b47682 45.9%,#b47682 48.1%,#b47682 50.3%,#bb7b80 52.5%,#d99e74 54.6%,#dcba70 56.8%,#dfb270 59.0%,#d28e78 61.2%,#da9f74 63.4%,#d2d071 65.6%,#c4e076 67.8%,#d9bf70 69.9%,#dcb970 72.1%,#c5e075 74.3%,#b9e27b 76.5%,#b2e37f 78.7%,#b6e27d 80.9%,#9fe688 83.1%,#9ee689 85.2%,#b1e37f 87.4%,#a5e585 89.6%,#ced872 91.8%,#d49277 94.0%,#ce8a7a 96.2%,#d79975 98.4%,#dba473 100.0%)"></b>
<b style="background:linear-gradient(90deg,#89e5a6 0.0%,#80e3b6 2.2%,#7ee3b8 4.4%,#89e5a6 6.6%,#7fe3b7 8.7%,#71ddd1 10.9%,#79e1c3 13.1%,#80e4b5 15.3%,#7fe3b8 17.5%,#76e0c6 19.7%,#6ad9dd 21.9%,#6cdbd9 24.0%,#7ce3bd 26.2%,#72dece 28.4%,#63c5ee 30.6%,#65bcef 32.8%,#6ea1ef 35.0%,#7979e6 37.2%,#7978e6 39.3%,#787de8 41.5%,#7689ee 43.7%,#7198ef 45.9%,#7197ef 48.1%,#63c2ef 50.3%,#66d7e4 52.5%,#69b2ef 54.6%,#787ae7 56.8%,#748eee 59.0%,#69b0ef 61.2%,#7687ed 63.4%,#7783eb 65.6%,#787ae7 67.8%,#7689ee 69.9%,#6aadef 72.1%,#787de8 74.3%,#7978e6 76.5%,#758bee 78.7%,#63d4e9 80.9%,#68b4ef 83.1%,#787ee9 85.2%,#7978e6 87.4%,#7199ef 89.6%,#63c3ef 91.8%,#63ccec 94.0%,#63d4e9 96.2%,#63d1ea 98.4%,#63c6ee 100.0%)"></b>
<b style="background:linear-gradient(90deg,#63c9ed 0.0%,#63cbec 2.2%,#71decf 4.4%,#a3e586 6.6%,#c7e075 8.7%,#b5e37d 10.9%,#ccde72 13.1%,#cfd872 15.3%,#d6c771 17.5%,#cf8c79 19.7%,#b47682 21.9%,#cc897a 24.0%,#dea971 26.2%,#dfac70 28.4%,#cfd872 30.6%,#b4e37e 32.8%,#9ce68a 35.0%,#88e5a7 37.2%,#66d8e3 39.3%,#63d3e9 41.5%,#6aafef 43.7%,#69b2ef 45.9%,#63c3ef 48.1%,#63ceeb 50.3%,#63d5e8 52.5%,#69d9de 54.6%,#7fe3b7 56.8%,#7ee3b9 59.0%,#77e1c5 61.2%,#8be5a3 63.4%,#6cdbd9 65.6%,#64bfef 67.8%,#63c7ed 69.9%,#66baef 72.1%,#64d6e7 74.3%,#83e4b1 76.5%,#80e4b5 78.7%,#7ee3b9 80.9%,#80e4b5 83.1%,#73dfcc 85.2%,#69d9de 87.4%,#63cbec 89.6%,#63c9ed 91.8%,#64d7e6 94.0%,#6ddbd8 96.2%,#65d7e6 98.4%,#63c6ee 100.0%)"></b>
<b style="background:linear-gradient(90deg,#d6c871 0.0%,#c7e075 2.2%,#a1e587 4.4%,#87e4a9 6.6%,#87e4aa 8.7%,#7ee3ba 10.9%,#71ddd1 13.1%,#71decf 15.3%,#9ae78b 17.5%,#d79976 19.7%,#b47682 21.9%,#dba273 24.0%,#d0d572 26.2%,#a6e585 28.4%,#92e697 30.6%,#a2e586 32.8%,#92e697 35.0%,#7be3bf 37.2%,#6bdada 39.3%,#7ee3b8 41.5%,#7ee3ba 43.7%,#76e0c8 45.9%,#79e1c2 48.1%,#7ae2c0 50.3%,#86e4ab 52.5%,#a8e483 54.6%,#b5e37d 56.8%,#a6e584 59.0%,#8ee59d 61.2%,#aae482 63.4%,#c7e074 65.6%,#cddb72 67.8%,#d2d171 69.9%,#c8e074 72.1%,#d0d672 74.3%,#d5ca71 76.5%,#8ee59d 78.7%,#75dfc9 80.9%,#63d0ea 83.1%,#63c2ef 85.2%,#63d5e8 87.4%,#63d0ea 89.6%,#63c2ef 91.8%,#63c3ef 94.0%,#6adadc 96.2%,#71ddd0 98.4%,#63cfea 100.0%)"></b>
<b style="background:linear-gradient(90deg,#63ccec 0.0%,#63ceeb 2.2%,#64c1ef 4.4%,#63c7ed 6.6%,#64d7e6 8.7%,#6bdada 10.9%,#71ddd0 13.1%,#76e0c8 15.3%,#78e1c3 17.5%,#89e5a6 19.7%,#72dece 21.9%,#63d0ea 24.0%,#63cfeb 26.2%,#64d6e7 28.4%,#6ddbd7 30.6%,#78e1c4 32.8%,#84e4af 35.0%,#87e4aa 37.2%,#a6e584 39.3%,#bde179 41.5%,#92e696 43.7%,#85e4ae 45.9%,#88e5a8 48.1%,#87e4a9 50.3%,#92e696 52.5%,#b1e37f 54.6%,#ccde72 56.8%,#be7e7f 59.0%,#c4827d 61.2%,#dabf70 63.4%,#dcb970 65.6%,#cadf73 67.8%,#c3e176 69.9%,#cddc72 72.1%,#e0ae70 74.3%,#ddb870 76.5%,#cadf73 78.7%,#ace481 80.9%,#9de689 83.1%,#b4e37e 85.2%,#a6e584 87.4%,#85e4ae 89.6%,#82e4b2 91.8%,#93e696 94.0%,#a0e688 96.2%,#83e4b0 98.4%,#75e0c8 100.0%)"></b>
<b style="background:linear-gradient(90deg,#7780ea 0.0%,#787ce8 2.2%,#7879e6 4.4%,#7978e6 6.6%,#7879e7 8.7%,#787fe9 10.9%,#7784ec 13.1%,#748fee 15.3%,#63c2ef 17.5%,#69b0ef 19.7%,#63caec 21.9%,#72decf 24.0%,#68d9df 26.2%,#63d0ea 28.4%,#63c8ed 30.6%,#67b8ef 32.8%,#787ce8 35.0%,#787be8 37.2%,#7688ee 39.3%,#7781eb 41.5%,#787ee9 43.7%,#709bef 45.9%,#6ba9ef 48.1%,#7391ee 50.3%,#6ea2ef 52.5%,#69afef 54.6%,#65beef 56.8%,#68b5ef 59.0%,#7978e6 61.2%,#7978e6 63.4%,#6aafef 65.6%,#63d4e9 67.8%,#72dece 69.9%,#80e3b6 72.1%,#82e4b2 74.3%,#78e1c3 76.5%,#64d6e7 78.7%,#69d9de 80.9%,#74dfcb 83.1%,#82e4b2 85.2%,#7ae2c1 87.4%,#71ddd0 89.6%,#7fe3b7 91.8%,#8ee59e 94.0%,#8ee59e 96.2%,#6ddbd6 98.4%,#63d0ea 100.0%)"></b>
<b style="background:linear-gradient(90deg,#7ce3bd 0.0%,#88e5a7 2.2%,#a0e687 4.4%,#7de3bb 6.6%,#8ae5a5 8.7%,#8ce5a1 10.9%,#82e4b3 13.1%,#87e4a9 15.3%,#79e1c3 17.5%,#67d8e2 19.7%,#63d2e9 21.9%,#63c5ee 24.0%,#63c8ed 26.2%,#63c3ef 28.4%,#63c2ef 30.6%,#63c7ee 32.8%,#7197ef 35.0%,#65bcef 37.2%,#63d0ea 39.3%,#64c0ef 41.5%,#63c7ed 43.7%,#69d9dd 45.9%,#72decf 48.1%,#7ae2c0 50.3%,#7fe3b7 52.5%,#89e5a6 54.6%,#82e4b1 56.8%,#81e4b4 59.0%,#79e2c2 61.2%,#63d4e9 63.4%,#68d9e0 65.6%,#80e4b5 67.8%,#92e697 69.9%,#85e4ae 72.1%,#75dfc9 74.3%,#72dece 76.5%,#80e4b5 78.7%,#7ee3ba 80.9%,#92e697 83.1%,#a0e687 85.2%,#7de3bb 87.4%,#7be3be 89.6%,#93e695 91.8%,#96e68f 94.0%,#83e4b0 96.2%,#6fdcd4 98.4%,#63d6e8 100.0%)"></b>
<b style="background:linear-gradient(90deg,#85e4ac 0.0%,#94e693 2.2%,#9ae68a 4.4%,#a3e586 6.6%,#aae483 8.7%,#b7e27c 10.9%,#aae483 13.1%,#9ee689 15.3%,#76e0c7 17.5%,#7ae2c1 19.7%,#7ae2bf 21.9%,#75e0c9 24.0%,#85e4ae 26.2%,#a2e587 28.4%,#a3e586 30.6%,#82e4b2 32.8%,#7fe3b8 35.0%,#9ce689 37.2%,#a7e584 39.3%,#80e3b6 41.5%,#72dece 43.7%,#76e0c7 45.9%,#7ee3b9 48.1%,#7ae2c0 50.3%,#72decf 52.5%,#63d4e9 54.6%,#63ccec 56.8%,#6adadc 59.0%,#63d4e9 61.2%,#63cfeb 63.4%,#69d9de 65.6%,#67d8e1 67.8%,#63ceeb 69.9%,#64c1ef 72.1%,#69b1ef 74.3%,#7391ee 76.5%,#7687ed 78.7%,#6ba9ef 80.9%,#63d4e9 83.1%,#63d0ea 85.2%,#63c9ed 87.4%,#66baef 89.6%,#64c1ef 91.8%,#63ccec 94.0%,#63cfea 96.2%,#73dfcc 98.4%,#7be3be 100.0%)"></b>
<b style="background:linear-gradient(90deg,#92e696 0.0%,#97e68e 2.2%,#ccde72 4.4%,#d6c671 6.6%,#deb470 8.7%,#dda772 10.9%,#daa074 13.1%,#e0af70 15.3%,#bae27b 17.5%,#bee179 19.7%,#aee481 21.9%,#cbdf72 24.0%,#dfac70 26.2%,#c9877b 28.4%,#b47682 30.6%,#b47682 32.8%,#d08c79 35.0%,#c4827d 37.2%,#b47682 39.3%,#b47682 41.5%,#b47682 43.7%,#b47682 45.9%,#b47682 48.1%,#ba7b80 50.3%,#c6847c 52.5%,#c6847c 54.6%,#c1807e 56.8%,#ca877b 59.0%,#d89c75 61.2%,#d59477 63.4%,#dca572 65.6%,#b3e37e 67.8%,#8ce5a0 69.9%,#83e4b1 72.1%,#83e4b0 74.3%,#74dfcb 76.5%,#63d4e9 78.7%,#6edcd5 80.9%,#88e5a8 83.1%,#c6e075 85.2%,#d79975 87.4%,#d28d79 89.6%,#d49178 91.8%,#d69876 94.0%,#dda772 96.2%,#c8e074 98.4%,#aee481 100.0%)"></b>
<b style="background:linear-gradient(90deg,#dda772 0.0%,#e0ad70 2.2%,#ceda72 4.4%,#a6e584 6.6%,#ade481 8.7%,#b2e37f 10.9%,#9ce689 13.1%,#73dfcc 15.3%,#7be3be 17.5%,#d79a75 19.7%,#c2817e 21.9%,#aae483 24.0%,#7ee3b9 26.2%,#86e4ac 28.4%,#85e4ad 30.6%,#91e698 32.8%,#ace481 35.0%,#b7e27c 37.2%,#d4cc71 39.3%,#bce27a 41.5%,#98e78d 43.7%,#d7c571 45.9%,#d89b75 48.1%,#ceda72 50.3%,#b4e37e 52.5%,#abe482 54.6%,#88e5a8 56.8%,#6cdbd9 59.0%,#73decc 61.2%,#a3e586 63.4%,#b5e37d 65.6%,#87e4a9 67.8%,#92e697 69.9%,#dcbb70 72.1%,#dba473 74.3%,#bb7b80 76.5%,#cf8b79 78.7%,#d9c070 80.9%,#d1d471 83.1%,#b5e37d 85.2%,#d3cd71 87.4%,#d59577 89.6%,#d79976 91.8%,#ddb770 94.0%,#a6e585 96.2%,#89e5a6 98.4%,#86e4ab 100.0%)"></b>
<b style="background:linear-gradient(90deg,#b47682 0.0%,#b47682 2.2%,#b47682 4.4%,#c8867c 6.6%,#d5ca71 8.7%,#86e4ab 10.9%,#7be3be 13.1%,#81e4b4 15.3%,#a5e585 17.5%,#dea971 19.7%,#dea871 21.9%,#ccde72 24.0%,#cddc72 26.2%,#d99e74 28.4%,#dea971 30.6%,#dfb370 32.8%,#d7c571 35.0%,#cbdf72 37.2%,#ceda72 39.3%,#84e4ae 41.5%,#7de3bb 43.7%,#aae482 45.9%,#b5e37d 48.1%,#7ee3b8 50.3%,#63cfeb 52.5%,#63ceeb 54.6%,#63ccec 56.8%,#63d5e8 59.0%,#6cdbd8 61.2%,#77e1c5 63.4%,#74dfcb 65.6%,#73dfcc 67.8%,#76e0c7 69.9%,#75dfc9 72.1%,#7ee3b9 74.3%,#89e5a7 76.5%,#89e5a6 78.7%,#b0e37f 80.9%,#d1d371 83.1%,#c7e074 85.2%,#ced972 87.4%,#b9e27b 89.6%,#a2e587 91.8%,#a4e585 94.0%,#8de5a0 96.2%,#8ae5a4 98.4%,#7be3be 100.0%)"></b>
<b style="background:linear-gradient(90deg,#a0e688 0.0%,#ceda72 2.2%,#b1e37f 4.4%,#7be3be 6.6%,#6cdbd9 8.7%,#72decf 10.9%,#76e0c7 13.1%,#84e4ae 15.3%,#80e4b5 17.5%,#78e1c4 19.7%,#78e1c4 21.9%,#a4e586 24.0%,#c2e177 26.2%,#bde179 28.4%,#b4e37e 30.6%,#b6e27d 32.8%,#b5e27d 35.0%,#bee179 37.2%,#cddc72 39.3%,#e0b06f 41.5%,#deaa71 43.7%,#d08c79 45.9%,#b47682 48.1%,#c2817e 50.3%,#c2817e 52.5%,#b47682 54.6%,#b47682 56.8%,#b47682 59.0%,#b47682 61.2%,#dba273 63.4%,#dda772 65.6%,#cc897a 67.8%,#c1807e 69.9%,#d89c75 72.1%,#d9c170 74.3%,#ddb870 76.5%,#cb887b 78.7%,#cc897a 80.9%,#d69776 83.1%,#bc7c7f 85.2%,#b47682 87.4%,#c2817e 89.6%,#dfab71 91.8%,#d49277 94.0%,#d69776 96.2%,#d59676 98.4%,#b57781 100.0%)"></b>
<b style="background:linear-gradient(90deg,#a7e584 0.0%,#84e4af 2.2%,#71ddd1 4.4%,#68d9df 6.6%,#6edcd6 8.7%,#70ddd2 10.9%,#79e2c2 13.1%,#80e4b6 15.3%,#6bdada 17.5%,#6cdbd9 19.7%,#71ddd0 21.9%,#78e1c3 24.0%,#8ae5a4 26.2%,#a9e483 28.4%,#9be68a 30.6%,#94e694 32.8%,#8fe59b 35.0%,#a2e586 37.2%,#ccdf72 39.3%,#c1e177 41.5%,#a3e586 43.7%,#b0e380 45.9%,#bce27a 48.1%,#a5e585 50.3%,#92e696 52.5%,#80e4b5 54.6%,#87e4aa 56.8%,#8de59f 59.0%,#98e68d 61.2%,#94e692 63.4%,#9ee689 65.6%,#b2e37f 67.8%,#dcba70 69.9%,#dfb370 72.1%,#d6c771 74.3%,#dfb270 76.5%,#dca472 78.7%,#b47682 80.9%,#b47682 83.1%,#b67881 85.2%,#ce8a7a 87.4%,#ce8a7a 89.6%,#dea971 91.8%,#d9c170 94.0%,#dcba70 96.2%,#dea971 98.4%,#d18d79 100.0%)"></b>
<b style="background:linear-gradient(90deg,#66d8e3 0.0%,#64c1ef 2.2%,#7688ee 4.4%,#748eee 6.6%,#709cef 8.7%,#6bacef 10.9%,#709cef 13.1%,#63c7ed 15.3%,#66bbef 17.5%,#7391ee 19.7%,#65bcef 21.9%,#63c8ed 24.0%,#6edcd5 26.2%,#8de59f 28.4%,#97e68d 30.6%,#a2e587 32.8%,#8de5a0 35.0%,#7ae2c1 37.2%,#8fe59c 39.3%,#ace482 41.5%,#95e692 43.7%,#77e1c5 45.9%,#6ddbd7 48.1%,#78e1c3 50.3%,#82e4b2 52.5%,#97e68d 54.6%,#c6e075 56.8%,#e0b270 59.0%,#c8867c 61.2%,#d18c79 63.4%,#dda772 65.6%,#d8c471 67.8%,#bce27a 69.9%,#cddb72 72.1%,#d1d371 74.3%,#d8c371 76.5%,#dfb370 78.7%,#d28d79 80.9%,#b47682 83.1%,#d49377 85.2%,#a0e688 87.4%,#bee179 89.6%,#dca572 91.8%,#e1af6f 94.0%,#bce27a 96.2%,#b4e37e 98.4%,#bce27a 100.0%)"></b>
<b style="background:linear-gradient(90deg,#7782eb 0.0%,#787ee9 2.2%,#7782eb 4.4%,#7392ef 6.6%,#65bcef 8.7%,#66d7e4 10.9%,#68d8e0 13.1%,#71ded0 15.3%,#67d8e1 17.5%,#6baaef 19.7%,#63caec 21.9%,#63d5e8 24.0%,#72dece 26.2%,#87e4a9 28.4%,#81e4b4 30.6%,#86e4ab 32.8%,#91e699 35.0%,#88e4a9 37.2%,#75e0c8 39.3%,#77e1c5 41.5%,#a9e483 43.7%,#b7e27c 45.9%,#a0e688 48.1%,#9ae78b 50.3%,#7ce3bd 52.5%,#78e1c4 54.6%,#93e695 56.8%,#98e78c 59.0%,#bde179 61.2%,#9de689 63.4%,#89e5a6 65.6%,#80e4b5 67.8%,#77e1c5 69.9%,#84e4b0 72.1%,#73decd 74.3%,#72decf 76.5%,#84e4b0 78.7%,#b2e37f 80.9%,#dbbc70 83.1%,#bae27b 85.2%,#9ee688 87.4%,#87e4aa 89.6%,#ade481 91.8%,#c0e178 94.0%,#a7e584 96.2%,#91e698 98.4%,#81e4b3 100.0%)"></b>
<b style="background:linear-gradient(90deg,#88e5a7 0.0%,#85e4ad 2.2%,#8de5a0 4.4%,#99e78b 6.6%,#dfb370 8.7%,#b77881 10.9%,#dfac70 13.1%,#d5c971 15.3%,#d99e74 17.5%,#e0b270 19.7%,#d39178 21.9%,#ca887b 24.0%,#dda772 26.2%,#d99d74 28.4%,#cd897a 30.6%,#ce8a7a 32.8%,#d79976 35.0%,#d28e78 37.2%,#b47682 39.3%,#b47682 41.5%,#c07f7e 43.7%,#b87981 45.9%,#c4837d 48.1%,#be7e7f 50.3%,#b47682 52.5%,#b47682 54.6%,#b47682 56.8%,#b47682 59.0%,#b47682 61.2%,#b67881 63.4%,#b47682 65.6%,#b47682 67.8%,#b47682 69.9%,#b47682 72.1%,#b47682 74.3%,#b47682 76.5%,#b47682 78.7%,#b47682 80.9%,#b47682 83.1%,#d9c070 85.2%,#ace482 87.4%,#9de689 89.6%,#dfb470 91.8%,#d28e78 94.0%,#d49277 96.2%,#d5c971 98.4%,#ccdf72 100.0%)"></b>
<b style="background:linear-gradient(90deg,#6ad9dd 0.0%,#6edcd5 2.2%,#82e4b3 4.4%,#7ee3ba 6.6%,#75e0c8 8.7%,#7be3be 10.9%,#81e4b4 13.1%,#81e4b4 15.3%,#9ce689 17.5%,#b2e37f 19.7%,#9be68a 21.9%,#a1e587 24.0%,#a7e584 26.2%,#9ee688 28.4%,#a6e585 30.6%,#bde179 32.8%,#abe482 35.0%,#9de689 37.2%,#a8e483 39.3%,#c1e177 41.5%,#d3ce71 43.7%,#c3e176 45.9%,#a0e687 48.1%,#90e69b 50.3%,#7ee3b9 52.5%,#72dece 54.6%,#6bdadb 56.8%,#66d8e3 59.0%,#63d3e9 61.2%,#63d6e8 63.4%,#78e1c4 65.6%,#94e693 67.8%,#91e699 69.9%,#6fdcd3 72.1%,#67d8e2 74.3%,#75e0c8 76.5%,#6edcd6 78.7%,#80e4b6 80.9%,#a4e586 83.1%,#78e1c4 85.2%,#6edcd6 87.4%,#92e696 89.6%,#cfd772 91.8%,#ceda72 94.0%,#c8e074 96.2%,#9de689 98.4%,#92e697 100.0%)"></b>
<b style="background:linear-gradient(90deg,#6fdcd3 0.0%,#89e5a5 2.2%,#ade481 4.4%,#c2e177 6.6%,#d7c571 8.7%,#dbbd70 10.9%,#cc897a 13.1%,#b47682 15.3%,#b47682 17.5%,#b47682 19.7%,#b47682 21.9%,#deb570 24.0%,#d9c170 26.2%,#c2e177 28.4%,#a1e587 30.6%,#aee481 32.8%,#abe482 35.0%,#aae483 37.2%,#b2e37f 39.3%,#bbe27a 41.5%,#bbe27a 43.7%,#99e78b 45.9%,#a5e585 48.1%,#95e691 50.3%,#8ae5a5 52.5%,#85e4ad 54.6%,#7ce3bc 56.8%,#72decf 59.0%,#63d3e9 61.2%,#7fe3b8 63.4%,#91e698 65.6%,#a5e585 67.8%,#92e696 69.9%,#87e4aa 72.1%,#a1e587 74.3%,#a1e587 76.5%,#7ee3b9 78.7%,#6edcd6 80.9%,#91e699 83.1%,#9ae68a 85.2%,#7fe3b8 87.4%,#7de3bb 89.6%,#91e698 91.8%,#86e4ab 94.0%,#88e5a7 96.2%,#98e78d 98.4%,#9ce68a 100.0%)"></b>
<b style="background:linear-gradient(90deg,#6aadef 0.0%,#63cfea 2.2%,#63d2e9 4.4%,#69d9df 6.6%,#6fdcd4 8.7%,#63c3ef 10.9%,#6da4ef 13.1%,#63c6ee 15.3%,#6ddbd7 17.5%,#88e5a8 19.7%,#6ddbd7 21.9%,#69d9df 24.0%,#63cdeb 26.2%,#69b2ef 28.4%,#6aaeef 30.6%,#63cdeb 32.8%,#6fdcd3 35.0%,#7ce3bd 37.2%,#6bdadb 39.3%,#6ad9dd 41.5%,#69b2ef 43.7%,#6da5ef 45.9%,#66d8e3 48.1%,#63c5ee 50.3%,#68b4ef 52.5%,#72decf 54.6%,#79e2c2 56.8%,#7ae2c0 59.0%,#a5e585 61.2%,#c2e177 63.4%,#ccdd72 65.6%,#b6e27c 67.8%,#aae482 69.9%,#d2d071 72.1%,#d8c371 74.3%,#b5e37d 76.5%,#81e4b5 78.7%,#6ddbd8 80.9%,#6edcd5 83.1%,#84e4ae 85.2%,#89e5a6 87.4%,#69d9de 89.6%,#68d8e1 91.8%,#68d9e0 94.0%,#71ddd0 96.2%,#87e4a9 98.4%,#95e691 100.0%)"></b>
<b style="background:linear-gradient(90deg,#dba373 0.0%,#b6e27d 2.2%,#8de59f 4.4%,#88e5a7 6.6%,#8be5a3 8.7%,#87e4aa 10.9%,#82e4b2 13.1%,#8de59f 15.3%,#9ee689 17.5%,#dea971 19.7%,#dfb470 21.9%,#c3e076 24.0%,#97e68f 26.2%,#6ddbd7 28.4%,#64d6e7 30.6%,#6edcd5 32.8%,#7de3ba 35.0%,#bde179 37.2%,#b8e27c 39.3%,#b2e37f 41.5%,#c6e075 43.7%,#c0e178 45.9%,#d4cc71 48.1%,#cbdf72 50.3%,#d7c671 52.5%,#d89d74 54.6%,#dfb270 56.8%,#c3827d 59.0%,#b47682 61.2%,#b87a81 63.4%,#ba7b80 65.6%,#ca887b 67.8%,#d9c170 69.9%,#ccdd72 72.1%,#d7c471 74.3%,#cc897a 76.5%,#cc897b 78.7%,#cddc72 80.9%,#ade481 83.1%,#a6e585 85.2%,#d5c971 87.4%,#c1807e 89.6%,#b97a80 91.8%,#d38f78 94.0%,#dba273 96.2%,#ca877b 98.4%,#bb7c80 100.0%)"></b>
<b style="background:linear-gradient(90deg,#ceda72 0.0%,#d8c270 2.2%,#d5cb71 4.4%,#c7e074 6.6%,#aee481 8.7%,#95e692 10.9%,#6edcd5 13.1%,#63caec 15.3%,#64bfef 17.5%,#63ceeb 19.7%,#68d8e0 21.9%,#63d1ea 24.0%,#709cef 26.2%,#7490ee 28.4%,#63c6ee 30.6%,#709bef 32.8%,#7296ef 35.0%,#7686ed 37.2%,#787ae7 39.3%,#758cee 41.5%,#63c8ed 43.7%,#63cbec 45.9%,#63d4e9 48.1%,#63ceeb 50.3%,#63cdeb 52.5%,#63d5e8 54.6%,#66bbef 56.8%,#68b3ef 59.0%,#63c4ee 61.2%,#67d8e1 63.4%,#67d8e1 65.6%,#63d4e9 67.8%,#63d1ea 69.9%,#6adadd 72.1%,#75e0c9 74.3%,#7de3bb 76.5%,#94e693 78.7%,#9ee688 80.9%,#96e690 83.1%,#a0e688 85.2%,#cddc72 87.4%,#ddb970 89.6%,#ddb870 91.8%,#ddb770 94.0%,#dcbb70 96.2%,#c8867c 98.4%,#b97a80 100.0%)"></b>
<b style="background:linear-gradient(90deg,#72dece 0.0%,#7ae2c1 2.2%,#75e0c9 4.4%,#6fdcd4 6.6%,#88e5a8 8.7%,#9ae68b 10.9%,#a3e586 13.1%,#a8e484 15.3%,#b4e37e 17.5%,#d2d171 19.7%,#d8c471 21.9%,#ccde72 24.0%,#c7e074 26.2%,#aee481 28.4%,#84e4ae 30.6%,#94e693 32.8%,#aae483 35.0%,#89e5a6 37.2%,#63d2e9 39.3%,#7688ee 41.5%,#709cef 43.7%,#65d7e5 45.9%,#71decf 48.1%,#82e4b1 50.3%,#a2e587 52.5%,#abe482 54.6%,#99e78b 56.8%,#bae27b 59.0%,#d3cf71 61.2%,#c3e176 63.4%,#c1e177 65.6%,#a9e483 67.8%,#97e68d 69.9%,#9de689 72.1%,#a0e688 74.3%,#a3e586 76.5%,#92e697 78.7%,#79e2c1 80.9%,#8de59f 83.1%,#a8e484 85.2%,#95e691 87.4%,#77e1c6 89.6%,#72dece 91.8%,#6ddbd7 94.0%,#67b7ef 96.2%,#63c9ed 98.4%,#80e4b5 100.0%)"></b>
<b style="background:linear-gradient(90deg,#758aee 0.0%,#7780ea 2.2%,#7978e6 4.4%,#7978e6 6.6%,#7978e6 8.7%,#787ae7 10.9%,#67b5ef 13.1%,#63d1ea 15.3%,#83e4b0 17.5%,#75e0c9 19.7%,#6f9fef 21.9%,#63ceeb 24.0%,#64d6e7 26.2%,#63d1ea 28.4%,#63c4ef 30.6%,#70ddd1 32.8%,#93e695 35.0%,#8de59f 37.2%,#95e691 39.3%,#87e4a9 41.5%,#94e694 43.7%,#b1e37f 45.9%,#ace482 48.1%,#bce17a 50.3%,#d5c971 52.5%,#d2d071 54.6%,#d4cb71 56.8%,#d7c471 59.0%,#cddb72 61.2%,#a3e586 63.4%,#95e692 65.6%,#9ae78b 67.8%,#a2e586 69.9%,#aae482 72.1%,#a0e687 74.3%,#b5e37d 76.5%,#9be68a 78.7%,#76e0c8 80.9%,#79e1c3 83.1%,#82e4b2 85.2%,#75e0c8 87.4%,#63d4e9 89.6%,#69b0ef 91.8%,#7785ec 94.0%,#67b7ef 96.2%,#63d1ea 98.4%,#63ceeb 100.0%)"></b>
<b style="background:linear-gradient(90deg,#69b0ef 0.0%,#68b2ef 2.2%,#709aef 4.4%,#6aaeef 6.6%,#6ea1ef 8.7%,#63c8ed 10.9%,#63c6ee 13.1%,#63c6ee 15.3%,#68d8e0 17.5%,#63d3e9 19.7%,#7ce3bd 21.9%,#78e1c4 24.0%,#87e4aa 26.2%,#a7e584 28.4%,#82e4b2 30.6%,#7de3bb 32.8%,#c4e076 35.0%,#d9c170 37.2%,#dfad70 39.3%,#ccde72 41.5%,#b7e27c 43.7%,#a9e483 45.9%,#a6e584 48.1%,#c6e075 50.3%,#abe482 52.5%,#8ae5a5 54.6%,#83e4b0 56.8%,#93e695 59.0%,#a3e586 61.2%,#89e5a7 63.4%,#87e4aa 65.6%,#8ae5a4 67.8%,#8ee59d 69.9%,#9ee688 72.1%,#aee380 74.3%,#dbbd70 76.5%,#d79a75 78.7%,#deb670 80.9%,#b5e27d 83.1%,#91e698 85.2%,#a7e584 87.4%,#cddc72 89.6%,#ace482 91.8%,#87e4a9 94.0%,#84e4af 96.2%,#80e4b6 98.4%,#88e5a8 100.0%)"></b>
<b style="background:linear-gradient(90deg,#7978e6 0.0%,#7978e6 2.2%,#7978e6 4.4%,#7978e6 6.6%,#7978e6 8.7%,#7978e6 10.9%,#7978e6 13.1%,#7978e6 15.3%,#7978e6 17.5%,#7978e6 19.7%,#7978e6 21.9%,#7978e6 24.0%,#7978e6 26.2%,#7688ee 28.4%,#7784ec 30.6%,#7978e6 32.8%,#7978e6 35.0%,#787ae7 37.2%,#7688ee 39.3%,#63c8ed 41.5%,#63c2ef 43.7%,#63c6ee 45.9%,#67b7ef 48.1%,#6f9def 50.3%,#787ee9 52.5%,#7978e6 54.6%,#7978e6 56.8%,#7978e6 59.0%,#7978e6 61.2%,#7978e6 63.4%,#7978e6 65.6%,#7978e6 67.8%,#7978e6 69.9%,#7978e6 72.1%,#7978e6 74.3%,#68b5ef 76.5%,#7780ea 78.7%,#7978e6 80.9%,#6f9eef 83.1%,#7685ed 85.2%,#7780ea 87.4%,#7686ed 89.6%,#6aadef 91.8%,#63caec 94.0%,#6fdcd3 96.2%,#63c3ef 98.4%,#7198ef 100.0%)"></b>
<b style="background:linear-gradient(90deg,#86e4ab 0.0%,#9fe688 2.2%,#c9e073 4.4%,#9be68a 6.6%,#8ee59d 8.7%,#b0e37f 10.9%,#9be68a 13.1%,#85e4ad 15.3%,#85e4ac 17.5%,#74dfca 19.7%,#bce17a 21.9%,#c1e177 24.0%,#a5e585 26.2%,#96e691 28.4%,#9ce68a 30.6%,#a7e584 32.8%,#b4e37d 35.0%,#cfd772 37.2%,#dea971 39.3%,#dabe70 41.5%,#b9e27b 43.7%,#aee380 45.9%,#a9e483 48.1%,#afe380 50.3%,#a6e585 52.5%,#b3e37e 54.6%,#ace482 56.8%,#aee480 59.0%,#94e693 61.2%,#63d6e8 63.4%,#63cdeb 65.6%,#63c8ed 67.8%,#63d0ea 69.9%,#84e4af 72.1%,#93e694 74.3%,#a0e687 76.5%,#a8e484 78.7%,#bae27b 80.9%,#99e78b 83.1%,#71ddd1 85.2%,#66d8e3 87.4%,#77e0c6 89.6%,#6fdcd4 91.8%,#68d8e1 94.0%,#63cdeb 96.2%,#68b4ef 98.4%,#709bef 100.0%)"></b>
<b style="background:linear-gradient(90deg,#b7e27c 0.0%,#d4cc71 2.2%,#d49377 4.4%,#d5c971 6.6%,#aae482 8.7%,#d1d371 10.9%,#dfab71 13.1%,#d4cb71 15.3%,#ced972 17.5%,#d69876 19.7%,#dfad70 21.9%,#d1d271 24.0%,#c4e076 26.2%,#b6e27d 28.4%,#cadf73 30.6%,#c0e178 32.8%,#a8e484 35.0%,#cbdf73 37.2%,#daa074 39.3%,#d6c771 41.5%,#b9e27b 43.7%,#a9e483 45.9%,#aee481 48.1%,#c9e073 50.3%,#d9c170 52.5%,#dba373 54.6%,#cddb72 56.8%,#ace482 59.0%,#b9e27b 61.2%,#b5e27d 63.4%,#8fe59b 65.6%,#7de3ba 67.8%,#79e2c2 69.9%,#7be3be 72.1%,#6edcd6 74.3%,#63d6e8 76.5%,#63c5ee 78.7%,#67b7ef 80.9%,#69b1ef 83.1%,#67b6ef 85.2%,#6edcd6 87.4%,#75dfc9 89.6%,#7ce3bd 91.8%,#99e78b 94.0%,#9ee688 96.2%,#a8e484 98.4%,#a9e483 100.0%)"></b>
<b style="background:linear-gradient(90deg,#73decc 0.0%,#7ae2bf 2.2%,#7fe3b7 4.4%,#6edcd5 6.6%,#63cdeb 8.7%,#6bdada 10.9%,#7ae2c0 13.1%,#74dfca 15.3%,#63d4e9 17.5%,#758aee 19.7%,#758bee 21.9%,#7784ec 24.0%,#69b0ef 26.2%,#7be3be 28.4%,#8de59f 30.6%,#99e78b 32.8%,#7de3bb 35.0%,#63c5ee 37.2%,#63c4ee 39.3%,#81e4b3 41.5%,#85e4ae 43.7%,#7fe3b8 45.9%,#82e4b2 48.1%,#7de3bc 50.3%,#6bdada 52.5%,#84e4af 54.6%,#abe482 56.8%,#afe380 59.0%,#d0d572 61.2%,#d7c571 63.4%,#ace481 65.6%,#91e699 67.8%,#84e4af 69.9%,#73decd 72.1%,#75e0c8 74.3%,#87e4a9 76.5%,#81e4b3 78.7%,#63cbec 80.9%,#6adadb 83.1%,#6edcd5 85.2%,#83e4b1 87.4%,#8ae5a4 89.6%,#74dfcb 91.8%,#6fdcd4 94.0%,#84e4af 96.2%,#9ee688 98.4%,#ace481 100.0%)"></b>
<b style="background:linear-gradient(90deg,#63d4e9 0.0%,#6ad9dd 2.2%,#82e4b2 4.4%,#8ae5a5 6.6%,#70ddd2 8.7%,#63d6e8 10.9%,#66d7e4 13.1%,#6ddbd8 15.3%,#71ddd0 17.5%,#63c7ed 19.7%,#65bcef 21.9%,#63d6e8 24.0%,#72decf 26.2%,#92e696 28.4%,#b9e27b 30.6%,#b5e27d 32.8%,#9ee688 35.0%,#ade481 37.2%,#81e4b5 39.3%,#80e4b5 41.5%,#78e1c3 43.7%,#7ae2bf 45.9%,#79e2c2 48.1%,#76e0c6 50.3%,#84e4ae 52.5%,#89e5a7 54.6%,#85e4ad 56.8%,#81e4b3 59.0%,#65d7e6 61.2%,#63c5ee 63.4%,#63ccec 65.6%,#63cdeb 67.8%,#67b8ef 69.9%,#7781ea 72.1%,#787ae7 74.3%,#7198ef 76.5%,#709cef 78.7%,#787de8 80.9%,#7978e6 83.1%,#7978e6 85.2%,#6aafef 87.4%,#70ddd2 89.6%,#66d7e4 91.8%,#748eee 94.0%,#7784ec 96.2%,#6bacef 98.4%,#63caec 100.0%)"></b>
<b style="background:linear-gradient(90deg,#68b5ef 0.0%,#768aee 2.2%,#7781eb 4.4%,#6aaeef 6.6%,#67d8e1 8.7%,#63d1ea 10.9%,#63cfea 13.1%,#69b2ef 15.3%,#787ee9 17.5%,#6da5ef 19.7%,#7685ec 21.9%,#787de9 24.0%,#7295ef 26.2%,#67b6ef 28.4%,#76e0c7 30.6%,#86e4ab 32.8%,#81e4b4 35.0%,#77e0c6 37.2%,#63c3ef 39.3%,#63c6ee 41.5%,#72decf 43.7%,#77e0c6 45.9%,#66d7e4 48.1%,#63cfeb 50.3%,#75dfc9 52.5%,#7ee3b9 54.6%,#7ce3bc 56.8%,#82e4b3 59.0%,#7de3ba 61.2%,#76e0c8 63.4%,#75dfc9 65.6%,#65d7e5 67.8%,#63cfea 69.9%,#63d0ea 72.1%,#68b2ef 74.3%,#63d6e8 76.5%,#6adadc 78.7%,#6aacef 80.9%,#63d5e8 83.1%,#76e0c7 85.2%,#86e4ac 87.4%,#8de5a0 89.6%,#8fe59c 91.8%,#91e698 94.0%,#8ee59e 96.2%,#93e696 98.4%,#94e694 100.0%)"></b>
<b style="background:linear-gradient(90deg,#78e1c3 0.0%,#6cdad9 2.2%,#63d6e8 4.4%,#63d0ea 6.6%,#82e4b3 8.7%,#90e69a 10.9%,#89e5a7 13.1%,#88e5a8 15.3%,#85e4ad 17.5%,#96e690 19.7%,#c2e177 21.9%,#bee178 24.0%,#bce17a 26.2%,#b5e27d 28.4%,#b0e37f 30.6%,#cddd72 32.8%,#a6e584 35.0%,#69d9de 37.2%,#65d7e5 39.3%,#81e4b3 41.5%,#b4e37e 43.7%,#bfe178 45.9%,#dabd70 48.1%,#daa073 50.3%,#ddb870 52.5%,#d5ca71 54.6%,#dba373 56.8%,#d59477 59.0%,#b47682 61.2%,#b47682 63.4%,#bb7b80 65.6%,#b47682 67.8%,#c3827d 69.9%,#c2817d 72.1%,#b47682 74.3%,#b47682 76.5%,#b47682 78.7%,#b77881 80.9%,#b47682 83.1%,#b47682 85.2%,#b47682 87.4%,#b47682 89.6%,#b47682 91.8%,#b47682 94.0%,#b47682 96.2%,#b47682 98.4%,#b47682 100.0%)"></b>
<b style="background:linear-gradient(90deg,#b47682 0.0%,#bc7d7f 2.2%,#cd8a7a 4.4%,#cb887b 6.6%,#c2817e 8.7%,#d28d79 10.9%,#daa173 13.1%,#cf8b79 15.3%,#b47682 17.5%,#b47682 19.7%,#cd8a7a 21.9%,#dca572 24.0%,#daa073 26.2%,#d99f74 28.4%,#d89c75 30.6%,#dabf70 32.8%,#dabf70 35.0%,#bf7f7e 37.2%,#b47682 39.3%,#cd8a7a 41.5%,#d3cd71 43.7%,#a8e483 45.9%,#b6e27c 48.1%,#c5e075 50.3%,#b8e27c 52.5%,#bee179 54.6%,#dfb270 56.8%,#e0b270 59.0%,#dabf70 61.2%,#cfd772 63.4%,#c2e177 65.6%,#d2d071 67.8%,#d5ca71 69.9%,#ddb770 72.1%,#d79a75 74.3%,#dbbc70 76.5%,#94e692 78.7%,#7de3ba 80.9%,#9ce689 83.1%,#a2e586 85.2%,#99e78b 87.4%,#94e694 89.6%,#99e78b 91.8%,#b6e27c 94.0%,#ace481 96.2%,#99e78b 98.4%,#89e5a7 100.0%)"></b>
<b style="background:linear-gradient(90deg,#8be5a2 0.0%,#7fe3b8 2.2%,#89e5a7 4.4%,#78e1c3 6.6%,#63d4e9 8.7%,#63cbec 10.9%,#63d4e9 13.1%,#7ee3b9 15.3%,#9ae68a 17.5%,#90e69a 19.7%,#8ae5a4 21.9%,#81e4b3 24.0%,#7de3bb 26.2%,#96e68f 28.4%,#99e78b 30.6%,#7ce3bc 32.8%,#76e0c8 35.0%,#b1e37f 37.2%,#d79975 39.3%,#d2d171 41.5%,#d1d271 43.7%,#d89c75 45.9%,#d89b75 48.1%,#deb670 50.3%,#d9c170 52.5%,#d7c671 54.6%,#dabf70 56.8%,#dbbb70 59.0%,#ccdd72 61.2%,#d3cd71 63.4%,#cbdf73 65.6%,#cfd772 67.8%,#b2e37f 69.9%,#9be68a 72.1%,#a8e484 74.3%,#a3e586 76.5%,#a6e584 78.7%,#7fe3b7 80.9%,#6bdada 83.1%,#68d9df 85.2%,#6ad9dd 87.4%,#6ddbd7 89.6%,#63d6e8 91.8%,#6edcd6 94.0%,#63d2e9 96.2%,#66b9ef 98.4%,#68b4ef 100.0%)"></b>
<b style="background:linear-gradient(90deg,#b2e37f 0.0%,#c5e076 2.2%,#d1d371 4.4%,#aee481 6.6%,#a5e585 8.7%,#c2e177 10.9%,#99e78b 13.1%,#8fe59c 15.3%,#ace482 17.5%,#d5c971 19.7%,#cddb72 21.9%,#cddc72 24.0%,#d3cf71 26.2%,#d3cf71 28.4%,#b8e27c 30.6%,#a6e584 32.8%,#cbdf72 35.0%,#d0d672 37.2%,#d1d371 39.3%,#b7e27c 41.5%,#91e699 43.7%,#96e691 45.9%,#aae482 48.1%,#95e692 50.3%,#8fe59b 52.5%,#8be5a3 54.6%,#74dfca 56.8%,#74dfcb 59.0%,#b0e380 61.2%,#d7c471 63.4%,#d9c270 65.6%,#d8c270 67.8%,#d2d071 69.9%,#bae27b 72.1%,#a7e584 74.3%,#ade481 76.5%,#bbe27a 78.7%,#8de59f 80.9%,#86e4ac 83.1%,#85e4ad 85.2%,#6edcd5 87.4%,#63c6ee 89.6%,#63c5ee 91.8%,#67d8e1 94.0%,#8fe59b 96.2%,#bce179 98.4%,#aee481 100.0%)"></b>
<b style="background:linear-gradient(90deg,#8ee59d 0.0%,#a4e585 2.2%,#96e690 4.4%,#7ce3bc 6.6%,#85e4ad 8.7%,#8ae5a4 10.9%,#8ee59e 13.1%,#a3e586 15.3%,#a4e585 17.5%,#cfd872 19.7%,#aee481 21.9%,#97e68f 24.0%,#80e4b5 26.2%,#68d9e0 28.4%,#63d3e9 30.6%,#68d8e0 32.8%,#6edcd6 35.0%,#6ddbd6 37.2%,#7978e6 39.3%,#7978e6 41.5%,#748fee 43.7%,#63d4e9 45.9%,#63d4e9 48.1%,#6ea0ef 50.3%,#63d0ea 52.5%,#63c6ee 54.6%,#6ea0ef 56.8%,#64c0ef 59.0%,#73decd 61.2%,#70ddd2 63.4%,#73dfcc 65.6%,#8de5a0 67.8%,#96e690 69.9%,#74dfca 72.1%,#6bdadb 74.3%,#65d7e4 76.5%,#87e4aa 78.7%,#7ee3b8 80.9%,#68d9df 83.1%,#86e4ab 85.2%,#88e5a8 87.4%,#79e2c1 89.6%,#77e1c5 91.8%,#65d7e5 94.0%,#63cdeb 96.2%,#7fe3b7 98.4%,#97e68e 100.0%)"></b>
<b style="background:linear-gradient(90deg,#7fe3b7 0.0%,#92e696 2.2%,#88e5a7 4.4%,#87e4aa 6.6%,#7be3be 8.7%,#6cdbd8 10.9%,#63d2e9 13.1%,#6ad9dd 15.3%,#6adadc 17.5%,#84e4af 19.7%,#94e693 21.9%,#7fe3b8 24.0%,#8ce5a0 26.2%,#abe482 28.4%,#b9e27b 30.6%,#c8e074 32.8%,#ace481 35.0%,#abe482 37.2%,#83e4b0 39.3%,#73decd 41.5%,#94e694 43.7%,#80e4b5 45.9%,#6ddbd7 48.1%,#6ddbd6 50.3%,#7ce3bc 52.5%,#90e59b 54.6%,#ade481 56.8%,#cddc72 59.0%,#aee380 61.2%,#c3e176 63.4%,#cddb72 65.6%,#d5ca71 67.8%,#dbbb70 69.9%,#bce27a 72.1%,#9be68a 74.3%,#98e78c 76.5%,#c8e074 78.7%,#ceda72 80.9%,#cfd772 83.1%,#d7c471 85.2%,#d6c771 87.4%,#d7c571 89.6%,#dfb370 91.8%,#dcba70 94.0%,#d1d271 96.2%,#d5c971 98.4%,#d6c771 100.0%)"></b>
<b style="background:linear-gradient(90deg,#748eee 0.0%,#63d2e9 2.2%,#67d8e2 4.4%,#6bdada 6.6%,#6ddbd7 8.7%,#68d9e0 10.9%,#6bdada 13.1%,#74dfcb 15.3%,#75e0c8 17.5%,#ade481 19.7%,#ace482 21.9%,#94e693 24.0%,#84e4af 26.2%,#8ee59e 28.4%,#a0e687 30.6%,#bae27b 32.8%,#ced972 35.0%,#d7c471 37.2%,#d49277 39.3%,#c0807e 41.5%,#b77981 43.7%,#d59477 45.9%,#d4cd71 48.1%,#bde179 50.3%,#b1e37f 52.5%,#aee481 54.6%,#b0e380 56.8%,#d4cc71 59.0%,#a9e483 61.2%,#88e5a7 63.4%,#88e5a7 65.6%,#91e698 67.8%,#b9e27b 69.9%,#ceda72 72.1%,#c4e076 74.3%,#d0d572 76.5%,#b57782 78.7%,#b47682 80.9%,#d59477 83.1%,#d9c070 85.2%,#dda772 87.4%,#d08c79 89.6%,#cd897a 91.8%,#be7e7f 94.0%,#c3817d 96.2%,#c5847c 98.4%,#ce8b7a 100.0%)"></b>
<b style="background:linear-gradient(90deg,#9de689 0.0%,#d0d572 2.2%,#cfd672 4.4%,#ced972 6.6%,#deb470 8.7%,#d99d74 10.9%,#dda871 13.1%,#deab71 15.3%,#d89c75 17.5%,#c7857c 19.7%,#e0ae70 21.9%,#dda672 24.0%,#daa173 26.2%,#c5837d 28.4%,#b47682 30.6%,#b47682 32.8%,#b47682 35.0%,#c8857c 37.2%,#b47682 39.3%,#b47682 41.5%,#b47682 43.7%,#b47682 45.9%,#b47682 48.1%,#b47682 50.3%,#d59477 52.5%,#d69876 54.6%,#bf7f7e 56.8%,#b47682 59.0%,#b47682 61.2%,#d28f78 63.4%,#dabd70 65.6%,#c7e075 67.8%,#ceda72 69.9%,#dda772 72.1%,#d69876 74.3%,#daa173 76.5%,#b47682 78.7%,#b47682 80.9%,#b47682 83.1%,#c1817e 85.2%,#b47682 87.4%,#b47682 89.6%,#b47682 91.8%,#b57782 94.0%,#b47682 96.2%,#b77881 98.4%,#d99f74 100.0%)"></b>
<b style="background:linear-gradient(90deg,#83e4b0 0.0%,#77e1c5 2.2%,#78e1c4 4.4%,#63ceeb 6.6%,#6ea0ef 8.7%,#64bfef 10.9%,#63c6ee 13.1%,#63d3e9 15.3%,#74dfcb 17.5%,#82e4b2 19.7%,#7fe3b7 21.9%,#74dfcb 24.0%,#66d7e4 26.2%,#74dfca 28.4%,#91e698 30.6%,#8be5a3 32.8%,#89e5a6 35.0%,#bae27b 37.2%,#dfac70 39.3%,#d8c270 41.5%,#c9e073 43.7%,#aae483 45.9%,#a0e688 48.1%,#cddc72 50.3%,#cddb72 52.5%,#d1d371 54.6%,#d3cf71 56.8%,#dfb470 59.0%,#d7c471 61.2%,#d1d371 63.4%,#d1d271 65.6%,#d0d672 67.8%,#b9e27b 69.9%,#c2e177 72.1%,#b9e27b 74.3%,#cfd772 76.5%,#dda872 78.7%,#d9c170 80.9%,#c6e075 83.1%,#c7e074 85.2%,#d4cb71 87.4%,#cfd772 89.6%,#9fe688 91.8%,#98e78d 94.0%,#97e68e 96.2%,#9ee689 98.4%,#9ee689 100.0%)"></b>
<b style="background:linear-gradient(90deg,#7979e6 0.0%,#7978e6 2.2%,#7978e6 4.4%,#7782eb 6.6%,#7688ee 8.7%,#7782eb 10.9%,#787de8 13.1%,#6f9eef 15.3%,#7687ed 17.5%,#7978e6 19.7%,#66b8ef 21.9%,#63c6ee 24.0%,#6ca8ef 26.2%,#63c9ed 28.4%,#63c2ef 30.6%,#7296ef 32.8%,#66bbef 35.0%,#63caec 37.2%,#709cef 39.3%,#72dece 41.5%,#96e690 43.7%,#c3e176 45.9%,#92e696 48.1%,#88e4a8 50.3%,#8ee59d 52.5%,#8ee59e 54.6%,#8be5a2 56.8%,#90e699 59.0%,#9ae68a 61.2%,#a6e585 63.4%,#a4e586 65.6%,#95e692 67.8%,#94e693 69.9%,#98e78c 72.1%,#7ee3b9 74.3%,#83e4b1 76.5%,#7de3bc 78.7%,#63c3ef 80.9%,#64bfef 83.1%,#75dfc9 85.2%,#97e68e 87.4%,#98e78c 89.6%,#85e4ad 91.8%,#78e1c3 94.0%,#6adadc 96.2%,#75dfca 98.4%,#8be5a3 100.0%)"></b>
<b style="background:linear-gradient(90deg,#6ca7ef 0.0%,#6aadef 2.2%,#6ca7ef 4.4%,#63c2ef 6.6%,#63caec 8.7%,#6ea2ef 10.9%,#787ee9 13.1%,#7198ef 15.3%,#787be7 17.5%,#7978e6 19.7%,#65bdef 21.9%,#6adadc 24.0%,#6edcd5 26.2%,#80e4b5 28.4%,#75e0c9 30.6%,#63c3ef 32.8%,#63ceeb 35.0%,#63c8ed 37.2%,#748fee 39.3%,#64c0ef 41.5%,#63c2ef 43.7%,#65beef 45.9%,#65beef 48.1%,#64bfef 50.3%,#63cfea 52.5%,#6ddbd6 54.6%,#73decd 56.8%,#64d6e8 59.0%,#7ae2c1 61.2%,#7fe3b7 63.4%,#77e1c5 65.6%,#85e4ad 67.8%,#91e699 69.9%,#71ddd1 72.1%,#63ccec 74.3%,#63cfea 76.5%,#63d3e9 78.7%,#63c8ed 80.9%,#63c7ed 83.1%,#70ddd2 85.2%,#78e1c3 87.4%,#7be3bd 89.6%,#7ce3bc 91.8%,#87e4a9 94.0%,#93e696 96.2%,#8ee59e 98.4%,#97e68d 100.0%)"></b>
<b style="background:linear-gradient(90deg,#8be5a4 0.0%,#b3e37e 2.2%,#d0d572 4.4%,#dabe70 6.6%,#deb670 8.7%,#dfac70 10.9%,#dabe70 13.1%,#d39178 15.3%,#b47682 17.5%,#b47682 19.7%,#cc897b 21.9%,#dda772 24.0%,#dbbd70 26.2%,#d2d171 28.4%,#bae27b 30.6%,#a2e587 32.8%,#b4e37e 35.0%,#d2d171 37.2%,#dbbc70 39.3%,#ace482 41.5%,#8ee59e 43.7%,#93e696 45.9%,#90e69a 48.1%,#92e696 50.3%,#7ee3b9 52.5%,#7fe3b7 54.6%,#8ae5a5 56.8%,#84e4af 59.0%,#87e4a9 61.2%,#8ce5a0 63.4%,#94e694 65.6%,#bbe27a 67.8%,#d4cd71 69.9%,#b0e380 72.1%,#91e699 74.3%,#a9e483 76.5%,#ccdd72 78.7%,#d7c471 80.9%,#d8c371 83.1%,#d4cb71 85.2%,#cae073 87.4%,#d0d572 89.6%,#d2d171 91.8%,#d4cb71 94.0%,#d0d672 96.2%,#c8e074 98.4%,#cddc72 100.0%)"></b>
<b style="background:linear-gradient(90deg,#d79876 0.0%,#d28d79 2.2%,#dfab71 4.4%,#dba273 6.6%,#d39178 8.7%,#c4837d 10.9%,#c4827d 13.1%,#b47682 15.3%,#b47682 17.5%,#c3827d 19.7%,#d39078 21.9%,#c07f7e 24.0%,#c07f7e 26.2%,#d8c471 28.4%,#aae483 30.6%,#95e691 32.8%,#b5e37d 35.0%,#d4cc71 37.2%,#dfb470 39.3%,#9ce68a 41.5%,#88e5a7 43.7%,#84e4ae 45.9%,#84e4af 48.1%,#91e698 50.3%,#9ee689 52.5%,#b1e37f 54.6%,#a7e584 56.8%,#78e1c3 59.0%,#76e0c7 61.2%,#8ae5a5 63.4%,#8ee59d 65.6%,#94e693 67.8%,#96e690 69.9%,#b8e27b 72.1%,#b5e37d 74.3%,#ace481 76.5%,#aae483 78.7%,#c5e075 80.9%,#dfb470 83.1%,#bfe178 85.2%,#96e690 87.4%,#8ae5a5 89.6%,#97e68e 91.8%,#85e4ae 94.0%,#76e0c6 96.2%,#82e4b3 98.4%,#89e5a6 100.0%)"></b>
<b style="background:linear-gradient(90deg,#7ae2c0 0.0%,#63d3e9 2.2%,#63ceeb 4.4%,#6adadb 6.6%,#73dfcc 8.7%,#8be5a2 10.9%,#b6e27d 13.1%,#cddc72 15.3%,#d9c070 17.5%,#dca572 19.7%,#d4cc71 21.9%,#c4e076 24.0%,#afe380 26.2%,#88e5a8 28.4%,#7de3bb 30.6%,#8fe59c 32.8%,#a4e586 35.0%,#b1e37f 37.2%,#a0e687 39.3%,#70ddd1 41.5%,#73decc 43.7%,#7fe3b8 45.9%,#8de59f 48.1%,#9ee688 50.3%,#b6e27d 52.5%,#bbe27a 54.6%,#b5e37d 56.8%,#93e695 59.0%,#8fe59c 61.2%,#a6e584 63.4%,#9ee689 65.6%,#8ee59d 67.8%,#a2e587 69.9%,#a3e586 72.1%,#8fe59b 74.3%,#85e4ac 76.5%,#87e4a9 78.7%,#7ee3b9 80.9%,#78e1c4 83.1%,#63d5e8 85.2%,#6adadd 87.4%,#74dfca 89.6%,#82e4b2 91.8%,#82e4b2 94.0%,#94e693 96.2%,#b5e37d 98.4%,#c3e176 100.0%)"></b>
<b style="background:linear-gradient(90deg,#79e2c2 0.0%,#77e0c6 2.2%,#82e4b2 4.4%,#80e4b6 6.6%,#7ae2c0 8.7%,#80e4b5 10.9%,#71ddd1 13.1%,#6ad9dd 15.3%,#63d2e9 17.5%,#64c1ef 19.7%,#63d0ea 21.9%,#63cfea 24.0%,#64c1ef 26.2%,#63cbec 28.4%,#63d4e8 30.6%,#8de59f 32.8%,#ace481 35.0%,#abe482 37.2%,#97e68e 39.3%,#8fe59b 41.5%,#a1e587 43.7%,#cfd772 45.9%,#dba373 48.1%,#d4cb71 50.3%,#9fe688 52.5%,#9ce68a 54.6%,#99e78b 56.8%,#74dfcb 59.0%,#8be5a3 61.2%,#87e4aa 63.4%,#63d4e9 65.6%,#63c8ed 67.8%,#63c8ed 69.9%,#72dece 72.1%,#87e4a9 74.3%,#85e4ae 76.5%,#84e4af 78.7%,#76e0c6 80.9%,#6ddbd6 83.1%,#72dece 85.2%,#8be5a3 87.4%,#b0e37f 89.6%,#b1e37f 91.8%,#99e78b 94.0%,#a4e586 96.2%,#bbe27a 98.4%,#cddc72 100.0%)"></b>
<b style="background:linear-gradient(90deg,#7978e6 0.0%,#7978e6 2.2%,#7978e6 4.4%,#7978e6 6.6%,#777fea 8.7%,#68b3ef 10.9%,#63c4ee 13.1%,#67b8ef 15.3%,#6aadef 17.5%,#67b6ef 19.7%,#63c4ee 21.9%,#63cdeb 24.0%,#69d9df 26.2%,#70ddd1 28.4%,#63ceeb 30.6%,#68d9df 32.8%,#6edcd6 35.0%,#6aaeef 37.2%,#787ce8 39.3%,#6babef 41.5%,#64d6e7 43.7%,#7fe3b8 45.9%,#ade481 48.1%,#afe380 50.3%,#8fe59c 52.5%,#8ee59d 54.6%,#9de689 56.8%,#b2e37f 59.0%,#aae483 61.2%,#95e691 63.4%,#8ae5a4 65.6%,#8be5a3 67.8%,#8fe59b 69.9%,#8ae5a5 72.1%,#7de3bb 74.3%,#83e4b0 76.5%,#82e4b2 78.7%,#99e78b 80.9%,#87e4aa 83.1%,#71ddd0 85.2%,#95e692 87.4%,#c3e177 89.6%,#cddb72 91.8%,#ade481 94.0%,#8be5a3 96.2%,#90e69a 98.4%,#a5e585 100.0%)"></b>
<b style="background:linear-gradient(90deg,#85e4ad 0.0%,#7be3be 2.2%,#7ae2c1 4.4%,#73decc 6.6%,#72decf 8.7%,#8fe59c 10.9%,#a2e586 13.1%,#8fe59b 15.3%,#8be5a3 17.5%,#9de689 19.7%,#82e4b2 21.9%,#72decf 24.0%,#76e0c7 26.2%,#85e4ae 28.4%,#8de59f 30.6%,#a0e688 32.8%,#93e695 35.0%,#73decd 37.2%,#8ce5a1 39.3%,#88e4a9 41.5%,#67d8e2 43.7%,#63d4e9 45.9%,#63d5e8 48.1%,#7be3be 50.3%,#6bdadb 52.5%,#67b7ef 54.6%,#63c6ee 56.8%,#8fe59d 59.0%,#7ce3bd 61.2%,#63d3e9 63.4%,#6cdada 65.6%,#63c9ed 67.8%,#63d0ea 69.9%,#6cdbd9 72.1%,#7ee3b9 74.3%,#8ce5a2 76.5%,#7de3bb 78.7%,#7ee3b9 80.9%,#91e699 83.1%,#7ee3b9 85.2%,#77e0c6 87.4%,#75e0c9 89.6%,#75dfc9 91.8%,#7de3bb 94.0%,#79e2c2 96.2%,#6fdcd4 98.4%,#70ddd1 100.0%)"></b>
<b style="background:linear-gradient(90deg,#7de3ba 0.0%,#7be3bf 2.2%,#7ae2c1 4.4%,#80e4b5 6.6%,#88e5a7 8.7%,#a8e483 10.9%,#90e69a 13.1%,#78e1c4 15.3%,#6fdcd4 17.5%,#67d8e2 19.7%,#64c1ef 21.9%,#63d0ea 24.0%,#81e4b3 26.2%,#8ae5a4 28.4%,#99e78b 30.6%,#97e68e 32.8%,#90e699 35.0%,#93e695 37.2%,#99e78b 39.3%,#bce17a 41.5%,#c1e177 43.7%,#92e697 45.9%,#85e4ac 48.1%,#98e78d 50.3%,#91e698 52.5%,#72dece 54.6%,#63d1ea 56.8%,#64d7e6 59.0%,#83e4b0 61.2%,#93e695 63.4%,#8fe59c 65.6%,#8ce5a0 67.8%,#7ae2bf 69.9%,#63d0ea 72.1%,#78e1c3 74.3%,#9ee688 76.5%,#a0e687 78.7%,#79e1c2 80.9%,#83e4b0 83.1%,#96e691 85.2%,#99e78b 87.4%,#96e690 89.6%,#88e5a8 91.8%,#7be3be 94.0%,#97e68e 96.2%,#a2e587 98.4%,#a5e585 100.0%)"></b>
<b style="background:linear-gradient(90deg,#63c6ee 0.0%,#63cbec 2.2%,#6aafef 4.4%,#65bdef 6.6%,#63d4e9 8.7%,#6ddbd7 10.9%,#68d9e0 13.1%,#75e0c8 15.3%,#7de3ba 17.5%,#78e1c3 19.7%,#82e4b2 21.9%,#82e4b2 24.0%,#8fe59c 26.2%,#93e695 28.4%,#8de59f 30.6%,#6edcd5 32.8%,#63cfea 35.0%,#70ddd2 37.2%,#7be3bd 39.3%,#85e4ac 41.5%,#ace481 43.7%,#bde179 45.9%,#9de689 48.1%,#a0e687 50.3%,#96e690 52.5%,#78e1c4 54.6%,#6bdada 56.8%,#6baaef 59.0%,#69d9dd 61.2%,#7ae2c1 63.4%,#69d9de 65.6%,#7fe3b8 67.8%,#96e690 69.9%,#96e690 72.1%,#87e4a9 74.3%,#7ce3bc 76.5%,#63d3e9 78.7%,#65bcef 80.9%,#63cdeb 83.1%,#63d2ea 85.2%,#71ddd1 87.4%,#85e4ac 89.6%,#8ee59e 91.8%,#a9e483 94.0%,#b6e27d 96.2%,#b3e37e 98.4%,#ade481 100.0%)"></b>
<b style="background:linear-gradient(90deg,#92e696 0.0%,#7fe3b8 2.2%,#79e1c3 4.4%,#77e1c5 6.6%,#64d6e8 8.7%,#63ccec 10.9%,#6fdcd3 13.1%,#94e694 15.3%,#ace481 17.5%,#d7c671 19.7%,#c3e076 21.9%,#b7e27c 24.0%,#deb470 26.2%,#deb570 28.4%,#d1d271 30.6%,#d1d271 32.8%,#d2d071 35.0%,#dcb970 37.2%,#dcb970 39.3%,#b2e37f 41.5%,#c1e177 43.7%,#dabe70 45.9%,#d6c871 48.1%,#dfac70 50.3%,#d39178 52.5%,#dcb970 54.6%,#da9f74 56.8%,#b47682 59.0%,#c2817d 61.2%,#bb7c80 63.4%,#b47682 65.6%,#cc897b 67.8%,#d69776 69.9%,#d18d79 72.1%,#c1807e 74.3%,#c9867b 76.5%,#d99e74 78.7%,#d4cb71 80.9%,#bde179 83.1%,#c9e073 85.2%,#c0e178 87.4%,#b1e37f 89.6%,#bbe27a 91.8%,#ccde72 94.0%,#c0e178 96.2%,#bee179 98.4%,#bce27a 100.0%)"></b>
<b style="background:linear-gradient(90deg,#dba273 0.0%,#ba7b80 2.2%,#d39078 4.4%,#d9c170 6.6%,#dca572 8.7%,#c5837d 10.9%,#c2817e 13.1%,#b47682 15.3%,#b47682 17.5%,#b47682 19.7%,#b47682 21.9%,#b47682 24.0%,#b47682 26.2%,#b47682 28.4%,#bb7c80 30.6%,#c3827d 32.8%,#b47682 35.0%,#b47682 37.2%,#b47682 39.3%,#b47682 41.5%,#b47682 43.7%,#b47682 45.9%,#b47682 48.1%,#b47682 50.3%,#b47682 52.5%,#c3827d 54.6%,#b47682 56.8%,#b47682 59.0%,#b47682 61.2%,#c2817d 63.4%,#dfad70 65.6%,#dfb270 67.8%,#dfab71 69.9%,#d7c671 72.1%,#d2d171 74.3%,#c2e177 76.5%,#9ce689 78.7%,#ade481 80.9%,#bce27a 83.1%,#aee481 85.2%,#a2e587 87.4%,#99e78b 89.6%,#7fe3b7 91.8%,#8de5a0 94.0%,#91e698 96.2%,#77e0c6 98.4%,#6ddbd7 100.0%)"></b>
<b style="background:linear-gradient(90deg,#92e697 0.0%,#92e697 2.2%,#8be5a3 4.4%,#86e4ab 6.6%,#98e68d 8.7%,#7ee3b9 10.9%,#64d7e6 13.1%,#7ee3b9 15.3%,#b4e37e 17.5%,#b4e37d 19.7%,#8fe59b 21.9%,#91e699 24.0%,#90e59b 26.2%,#8ae5a4 28.4%,#7ce3bd 30.6%,#69d9dd 32.8%,#69d9de 35.0%,#83e4b1 37.2%,#97e68e 39.3%,#c1e177 41.5%,#9be68a 43.7%,#8de59f 45.9%,#9de689 48.1%,#abe482 50.3%,#c1e177 52.5%,#b6e27d 54.6%,#cddc72 56.8%,#d8c270 59.0%,#cddc72 61.2%,#dcba70 63.4%,#dfb270 65.6%,#d7c671 67.8%,#d7c471 69.9%,#d6c871 72.1%,#d3ce71 74.3%,#dfb370 76.5%,#b47682 78.7%,#d49277 80.9%,#a0e688 83.1%,#74dfca 85.2%,#6adadc 87.4%,#6adadc 89.6%,#65d7e5 91.8%,#6cdbd8 94.0%,#77e1c5 96.2%,#79e2c2 98.4%,#65d7e5 100.0%)"></b>
<b style="background:linear-gradient(90deg,#bee179 0.0%,#c0e178 2.2%,#ace481 4.4%,#a5e585 6.6%,#b2e37e 8.7%,#a8e483 10.9%,#9fe688 13.1%,#a7e584 15.3%,#b9e27b 17.5%,#dcba70 19.7%,#d49377 21.9%,#e0ae70 24.0%,#d7c671 26.2%,#cbdf73 28.4%,#b7e27c 30.6%,#bae27b 32.8%,#a8e484 35.0%,#aae482 37.2%,#82e4b3 39.3%,#77e1c6 41.5%,#6edcd5 43.7%,#71ddd0 45.9%,#79e1c3 48.1%,#7ae2c1 50.3%,#7be3be 52.5%,#85e4ae 54.6%,#d3ce71 56.8%,#c0e178 59.0%,#afe380 61.2%,#cddc72 63.4%,#bee179 65.6%,#a2e587 67.8%,#c5e076 69.9%,#deb570 72.1%,#dbbb70 74.3%,#deb470 76.5%,#d7c571 78.7%,#88e5a7 80.9%,#93e695 83.1%,#a0e687 85.2%,#6fdcd4 87.4%,#7ce3bd 89.6%,#79e2c1 91.8%,#80e4b5 94.0%,#89e5a7 96.2%,#7be3be 98.4%,#72dece 100.0%)"></b>
<b style="background:linear-gradient(90deg,#a9e483 0.0%,#90e69a 2.2%,#a1e587 4.4%,#ced972 6.6%,#bce27a 8.7%,#a5e585 10.9%,#8be5a2 13.1%,#77e1c6 15.3%,#77e1c5 17.5%,#84e4ae 19.7%,#9ce68a 21.9%,#9ae68a 24.0%,#a0e687 26.2%,#95e691 28.4%,#8fe59c 30.6%,#bce17a 32.8%,#d5c971 35.0%,#e0ae70 37.2%,#dba373 39.3%,#c9877b 41.5%,#dfac70 43.7%,#a2e586 45.9%,#a0e687 48.1%,#aee481 50.3%,#afe380 52.5%,#9be68a 54.6%,#a7e584 56.8%,#a9e483 59.0%,#a3e586 61.2%,#c0e178 63.4%,#bfe178 65.6%,#cbdf72 67.8%,#deb570 69.9%,#dba273 72.1%,#dbbd70 74.3%,#dfb370 76.5%,#d8c371 78.7%,#b7e27c 80.9%,#cae073 83.1%,#d5cb71 85.2%,#d8c471 87.4%,#e0b16f 89.6%,#d0d471 91.8%,#d1d371 94.0%,#bde179 96.2%,#a6e585 98.4%,#a1e587 100.0%)"></b>
<b style="background:linear-gradient(90deg,#75dfc9 0.0%,#66d7e3 2.2%,#70ddd1 4.4%,#75e0c8 6.6%,#76e0c8 8.7%,#6ddbd7 10.9%,#63d5e8 13.1%,#63c7ee 15.3%,#63cceb 17.5%,#63d5e8 19.7%,#63d5e8 21.9%,#6edcd6 24.0%,#7de3bb 26.2%,#7be3be 28.4%,#78e1c3 30.6%,#6fdcd4 32.8%,#7ae2c0 35.0%,#8ce5a1 37.2%,#76e0c6 39.3%,#63d0ea 41.5%,#7de3ba 43.7%,#7be3bf 45.9%,#84e4af 48.1%,#89e5a6 50.3%,#8de5a0 52.5%,#84e4ae 54.6%,#7de3bb 56.8%,#7de3bb 59.0%,#63c6ee 61.2%,#7689ee 63.4%,#6ea2ef 65.6%,#63caec 67.8%,#64c0ef 69.9%,#7685ec 72.1%,#7978e6 74.3%,#7978e6 76.5%,#7978e6 78.7%,#7978e6 80.9%,#64c1ef 83.1%,#6ad9dd 85.2%,#63d1ea 87.4%,#7784ec 89.6%,#7685ed 91.8%,#65d7e5 94.0%,#63d5e8 96.2%,#6ba9ef 98.4%,#63c8ed 100.0%)"></b>
<b style="background:linear-gradient(90deg,#78e1c4 0.0%,#7ee3ba 2.2%,#74dfcb 4.4%,#63d5e8 6.6%,#63d1ea 8.7%,#69d9df 10.9%,#6ddbd6 13.1%,#75e0c8 15.3%,#63d6e8 17.5%,#63d4e9 19.7%,#80e4b6 21.9%,#79e2c1 24.0%,#7ae2c1 26.2%,#b8e27c 28.4%,#dabe70 30.6%,#d7c671 32.8%,#dcba70 35.0%,#d5cb71 37.2%,#d9c170 39.3%,#dda772 41.5%,#d1d271 43.7%,#c6e075 45.9%,#a4e586 48.1%,#9be68a 50.3%,#ace481 52.5%,#b8e27c 54.6%,#9ee689 56.8%,#89e5a7 59.0%,#79e2c2 61.2%,#7be3be 63.4%,#8ee59e 65.6%,#99e78b 67.8%,#a1e587 69.9%,#97e68d 72.1%,#a2e586 74.3%,#94e694 76.5%,#94e694 78.7%,#ccdf72 80.9%,#cbdf72 83.1%,#96e691 85.2%,#8ae5a4 87.4%,#8de5a0 89.6%,#aae483 91.8%,#b7e27c 94.0%,#cfd772 96.2%,#bde179 98.4%,#9ae78b 100.0%)"></b>
</div>
<svg width="481" height="303" viewBox="0 0 481 303">
<defs>
<linearGradient id="jet" x1="0" y1="0" x2="0" y2="1">
<stop offset="0.000" stop-color="rgb(125,0,0)"/>
<stop offset="0.039" stop-color="rgb(200,0,0)"/>
<stop offset="0.070" stop-color="rgb(240,0,0)"/>
<stop offset="0.153" stop-color="rgb(255,15,0)"/>
<stop offset="0.177" stop-color="rgb(255,70,0)"/>
<stop offset="0.268" stop-color="rgb(255,145,0)"/>
<stop offset="0.347" stop-color="rgb(255,215,0)"/>
<stop offset="0.374" stop-color="rgb(250,250,0)"/>
<stop offset="0.414" stop-color="rgb(190,255,0)"/>
<stop offset="0.465" stop-color="rgb(90,255,20)"/>
<stop offset="0.497" stop-color="rgb(30,245,80)"/>
<stop offset="0.544" stop-color="rgb(0,238,170)"/>
<stop offset="0.611" stop-color="rgb(0,222,235)"/>
<stop offset="0.662" stop-color="rgb(0,190,255)"/>
<stop offset="0.761" stop-color="rgb(0,105,255)"/>
<stop offset="0.789" stop-color="rgb(10,60,255)"/>
<stop offset="0.812" stop-color="rgb(20,10,250)"/>
<stop offset="0.939" stop-color="rgb(20,0,225)"/>
<stop offset="1.000" stop-color="rgb(10,0,135)"/>
</linearGradient>
</defs>
<!-- plot frame -->
<rect x="45.1" y="6" width="366.3" height="256" fill="none" stroke="#000" stroke-width="1.2"/>
<g stroke="#000" stroke-width="1">
<line x1="41" y1="6.0" x2="45.1" y2="6.0"/>
<line x1="41" y1="57.6" x2="45.1" y2="57.6"/>
<line x1="41" y1="109.3" x2="45.1" y2="109.3"/>
<line x1="41" y1="160.9" x2="45.1" y2="160.9"/>
<line x1="41" y1="212.5" x2="45.1" y2="212.5"/>
<line x1="45.1" y1="262" x2="45.1" y2="265.8"/>
<line x1="118.4" y1="262" x2="118.4" y2="265.8"/>
<line x1="191.6" y1="262" x2="191.6" y2="265.8"/>
<line x1="264.9" y1="262" x2="264.9" y2="265.8"/>
<line x1="338.1" y1="262" x2="338.1" y2="265.8"/>
<line x1="411.4" y1="262" x2="411.4" y2="265.8"/>
</g>
<!-- colorbar -->
<rect x="415.3" y="7.2" width="12.9" height="253.3" fill="url(#jet)" stroke="#000" stroke-width="1"/>
<g stroke="#000" stroke-width="1">
<line x1="428.2" y1="7.2" x2="432.6" y2="7.2"/>
<line x1="428.2" y1="91.6" x2="432.6" y2="91.6"/>
<line x1="428.2" y1="147.9" x2="432.6" y2="147.9"/>
<line x1="428.2" y1="204.2" x2="432.6" y2="204.2"/>
<line x1="428.2" y1="260.5" x2="432.6" y2="260.5"/>
</g>
<!-- equals -->
<rect x="139.9" y="48.9" width="12.4" height="1.45" fill="#000"/>
<rect x="139.9" y="52.6" width="12.4" height="1.45" fill="#000"/>
<!-- marker -->
<g fill="#000" transform="translate(283.6,31.5)">
<circle r="6.4"/>
<circle cx="0.00" cy="-4.50" r="3.5"/>
<circle cx="4.28" cy="-1.39" r="3.5"/>
<circle cx="2.65" cy="3.64" r="3.5"/>
<circle cx="-2.65" cy="3.64" r="3.5"/>
<circle cx="-4.28" cy="-1.39" r="3.5"/>
</g>
</svg>

<div class="a yt" style="top:-0.57px">10</div>
<div class="a yt" style="top:50.93px">8</div>
<div class="a yt" style="top:102.73px">6</div>
<div class="a yt" style="top:154.33px">4</div>
<div class="a yt" style="top:205.93px">2</div>

<div class="a xt" style="left:25.1px">0.20</div>
<div class="a xt" style="left:98.4px">0.22</div>
<div class="a xt" style="left:171.6px">0.24</div>
<div class="a xt" style="left:244.9px">0.26</div>
<div class="a xt" style="left:318.1px">0.28</div>
<div class="a xt" style="left:391.4px">0.30</div>

<div class="a ct" style="top:-0.53px">1.0</div>
<div class="a ct" style="top:83.87px">0.7</div>
<div class="a ct" style="top:140.17px">0.5</div>
<div class="a ct" style="top:196.47px">0.3</div>
<div class="a ct" style="top:252.77px">0.1</div>

<!-- annotations -->
<div class="a g" style="left:82.06px;top:14.73px;font-size:19.15px;transform:scaleX(1.100);">0.95</div>
<div class="a g" style="left:127.98px;top:15.72px;font-size:18.80px;transform:scaleX(1.303);">&lt;</div>
<div class="a g" style="left:147.15px;top:16.22px;font-size:18.00px;transform:scaleX(1.027);font-style:italic">c</div>
<div class="a g" style="left:157.38px;top:23.53px;font-size:12.60px;transform:scaleX(1.105);font-style:italic">α</div>
<div class="a g" style="left:166.40px;top:15.53px;font-size:19.73px;transform:scaleX(1.177);">/</div>
<div class="a g" style="left:172.90px;top:16.90px;font-size:17.09px;transform:scaleX(0.987);font-style:italic">s</div>
<div class="a g" style="left:182.18px;top:23.34px;font-size:12.90px;transform:scaleX(1.102);font-style:italic">β</div>
<div class="a g" style="left:195.68px;top:15.82px;font-size:18.80px;transform:scaleX(1.303);">&lt;</div>
<div class="a g" style="left:215.00px;top:14.82px;font-size:19.28px;transform:scaleX(1.038);">1</div>
<div class="a g" style="left:119.10px;top:40.91px;font-size:18.94px;transform:scaleX(1.158);font-style:italic">t</div>
<div class="a g" style="left:125.97px;top:49.14px;font-size:12.90px;transform:scaleX(1.061);font-style:italic">β</div>
<div class="a g" style="left:158.24px;top:41.01px;font-size:19.30px;transform:scaleX(1.078);">10</div>
<div class="a g" style="left:220.10px;top:283.98px;font-size:17.67px;transform:scaleX(1.016);font-style:italic;-webkit-text-stroke:0.3px #000">λ</div>
<div class="a g" style="left:229.25px;top:291.11px;font-size:12.57px;transform:scaleX(1.038);;-webkit-text-stroke:0.3px #000">2</div>
<div class="a rot" style="left:0;top:148px"><div class="a g" style="left:6.02px;top:-0.72px;font-size:17.67px;transform:scaleX(1.039);font-style:italic;-webkit-text-stroke:0.3px #000">λ</div><div class="a g" style="left:15.36px;top:5.77px;font-size:13.33px;transform:scaleX(0.903);;-webkit-text-stroke:0.3px #000">1</div></div>
<div class="a rot" style="left:0;top:148px"><div class="a g" style="left:4.81px;top:463.91px;font-size:15.75px;transform:scaleX(0.907);font-style:italic;-webkit-text-stroke:0.3px #000">λ</div><div class="a g" style="left:11.72px;top:469.42px;font-size:10.56px;transform:scaleX(1.145);;-webkit-text-stroke:0.3px #000">34</div></div>

</div>
</body></html>
